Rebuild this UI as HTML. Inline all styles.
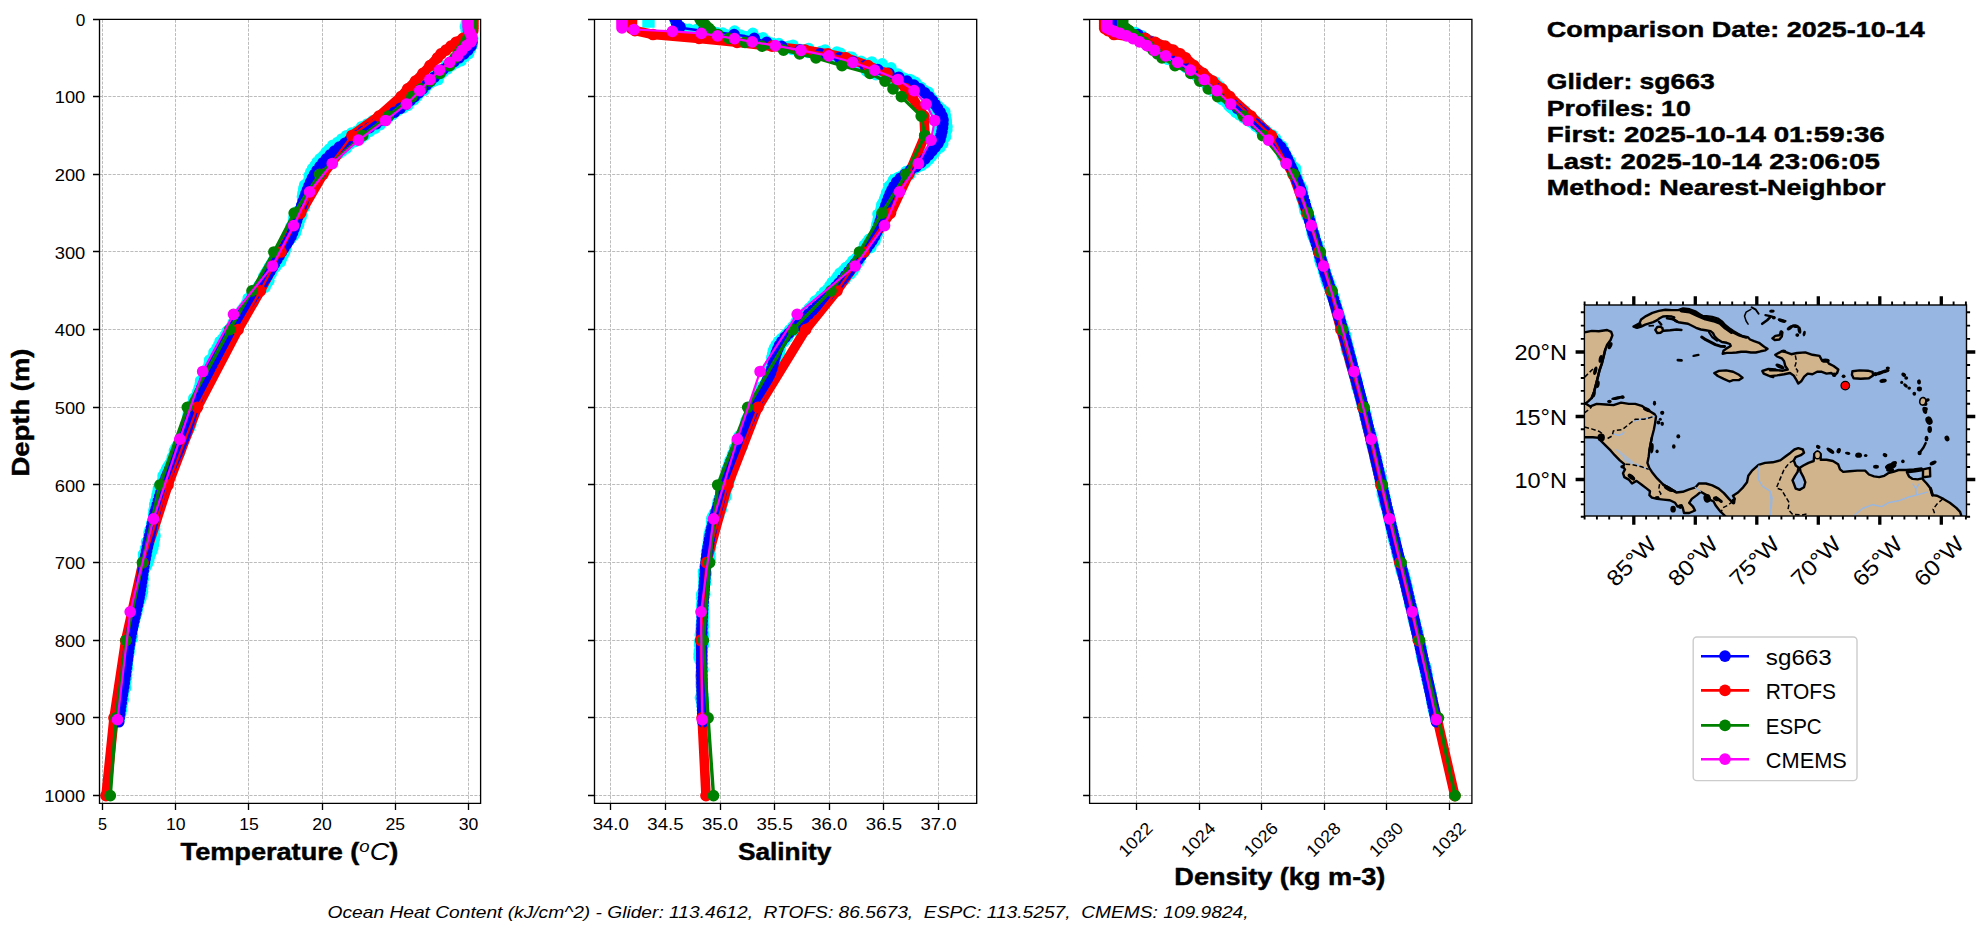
<!DOCTYPE html>
<html lang="en"><head><meta charset="utf-8"><title>Glider / model profile comparison</title>
<style>html,body{margin:0;padding:0;background:#fff}body{width:1983px;height:934px;overflow:hidden;font-family:"Liberation Sans", sans-serif}svg{display:block}</style></head>
<body>
<svg width="1983" height="934" viewBox="0 0 1983 934" font-family='"Liberation Sans", sans-serif' fill="#000">
<rect width="1983" height="934" fill="#fff"/>
<defs>
<clipPath id="c0"><rect x="99.5" y="19.4" width="381.1" height="784.0"/></clipPath>
<clipPath id="c1"><rect x="594.5" y="19.4" width="382.20000000000005" height="784.0"/></clipPath>
<clipPath id="c2"><rect x="1089.6" y="19.4" width="382.3000000000002" height="784.0"/></clipPath>
</defs>
<path d="M102.5 803.4V19.4M175.5 803.4V19.4M248.5 803.4V19.4M322.5 803.4V19.4M395.5 803.4V19.4M468.5 803.4V19.4M99.5 19.5H480.6M99.5 96.5H480.6M99.5 174.5H480.6M99.5 251.5H480.6M99.5 329.5H480.6M99.5 407.5H480.6M99.5 484.5H480.6M99.5 562.5H480.6M99.5 640.5H480.6M99.5 717.5H480.6M99.5 795.5H480.6" stroke="#bcbcbc" stroke-width="1" stroke-dasharray="3.08 1.33" fill="none"/>
<g clip-path="url(#c0)">
<polyline points="466.7,19.0 466.7,21.3 467.3,23.7 467.2,26.0 468.0,28.3 469.0,30.6 469.2,33.0 469.4,35.0 471.1,37.3 472.3,39.7 472.5,42.3 472.4,44.9 470.8,47.0 468.2,48.8 465.7,50.7 463.1,52.9 460.6,55.7 457.3,57.7 454.3,60.0 452.0,63.4 448.5,65.6 445.5,68.4 441.8,70.0 438.8,72.0 436.0,74.1 433.4,76.2 431.0,78.6 430.0,82.3 426.7,83.7 424.1,85.7 421.3,87.5 417.2,88.0 415.2,90.9 414.2,94.8 411.9,97.3 409.2,99.4 406.4,101.7 403.6,104.1 400.9,106.9 396.7,107.9 393.1,109.9 389.4,112.0 385.7,114.2 381.9,116.4 378.2,118.6 373.9,120.1 370.0,122.5 365.7,124.4 361.6,126.6 358.2,129.9 354.4,132.3 350.1,133.4 346.4,135.6 342.9,138.1 339.5,140.5 336.4,143.2 332.8,145.1 330.2,148.0 327.8,150.7 325.0,152.8 323.3,155.9 320.8,158.0 318.6,160.3 316.6,162.7 315.1,165.4 313.1,167.7 311.4,170.2 310.4,173.0 309.2,175.6 309.1,178.6 308.5,181.1 307.1,183.3 304.6,185.1 303.9,187.5 303.7,190.2 304.2,193.1 303.6,195.5 303.3,198.0 302.5,200.4 303.2,203.3 301.9,205.4 301.2,207.8 299.7,209.9 297.7,211.8 298.1,214.6 298.0,217.1 297.7,219.6 299.2,222.6 298.6,225.0 296.6,226.9 296.0,229.4 295.3,231.8 294.1,234.1 290.6,235.3 289.2,237.5 288.2,239.9 286.6,242.0 285.4,244.5 284.1,247.1 283.0,249.7 282.3,252.5 281.0,254.9 280.0,257.4 278.7,259.8 277.5,262.3 277.0,265.1 273.9,266.4 271.3,268.0 271.4,271.3 270.1,273.7 267.7,275.4 265.9,277.6 263.6,279.3 262.2,281.8 260.2,283.8 258.4,286.0 256.9,288.3 256.7,291.6 255.3,294.2 253.1,296.1 252.5,299.1 250.0,300.8 247.3,302.5 246.2,305.1 244.0,307.0 242.3,309.2 240.7,311.6 240.3,314.6 240.5,317.9 238.8,320.0 237.3,322.3 234.4,323.7 232.3,325.7 230.8,327.9 228.6,329.7 226.6,331.7 225.8,334.3 225.8,337.5 225.6,340.4 224.2,342.7 222.3,344.7 222.3,347.8 220.7,350.0 217.7,351.3 213.9,352.3 213.1,354.9 213.4,358.1 211.8,360.2 210.3,362.4 209.7,365.1 209.4,367.9 207.7,370.0 208.2,373.0 206.0,374.9 204.6,377.1 202.4,378.9 200.5,380.9 200.3,383.6 199.2,385.9 199.6,388.8 199.4,391.5 198.0,393.6 198.0,396.3 196.9,398.6 195.1,400.6 194.9,403.2 193.8,405.4 190.8,407.0 190.3,409.5 188.8,411.6 188.3,414.1 187.7,416.5 188.1,419.2 188.3,421.8 186.1,423.7 186.0,426.2 186.1,428.8 186.6,431.6 186.8,434.3 185.5,436.4 184.1,438.6 182.7,440.7 180.6,442.6 179.5,444.9 179.6,447.7 179.8,450.6 178.5,452.8 177.5,455.2 176.5,457.5 174.8,459.6 173.0,461.6 170.8,463.4 169.3,465.5 167.7,467.6 166.4,469.9 166.9,472.9 167.4,475.8 167.9,478.8 167.3,481.2 166.7,483.6 165.6,485.7 163.9,487.8 162.6,489.9 160.4,491.8 159.8,494.1 160.0,496.8 159.7,499.2 158.4,501.3 157.0,503.5 156.3,505.8 156.3,508.3 156.7,510.9 156.4,513.3 155.7,515.6 155.1,517.9 154.4,520.2 154.1,522.6 154.7,525.1 154.7,527.6 154.8,530.1 153.7,532.2 154.6,534.9 155.4,537.5 154.1,539.6 153.7,541.9 153.7,544.3 153.1,546.6 152.9,549.0 151.9,551.2 150.7,553.3 149.9,555.6 149.4,557.9 148.8,560.2 148.1,562.5 147.2,564.7 146.0,566.8 144.9,569.0 143.3,571.2 143.2,573.5 142.6,575.8 142.4,578.2 141.8,580.5 142.0,582.9 141.0,585.1 140.9,587.5 141.0,589.9 141.1,592.3 140.7,594.6 139.8,596.9 138.4,599.0 137.6,601.3 136.6,603.5 135.8,605.8 134.9,608.0 134.5,610.4 134.2,612.7 134.2,615.2 133.8,617.6 134.1,620.1 133.8,622.5 133.8,624.9 132.0,626.9 131.4,629.2 131.2,631.6 130.9,634.0 130.4,636.3 130.1,638.7 129.2,640.9 128.6,643.2 127.8,645.5 127.3,647.8 126.8,650.1 126.4,652.5 126.6,654.9 126.6,657.2 127.1,659.7 127.3,662.0 127.4,664.4 127.4,666.8 127.2,669.1 126.6,671.4 126.6,673.8 126.9,676.2 126.3,678.5 125.9,680.9 125.0,683.1 123.9,685.3 123.0,687.6 122.9,689.9 122.7,692.3 122.6,694.7 123.3,697.2 123.4,699.5 122.7,701.8 122.4,704.2 121.7,706.4 121.0,708.7 120.6,711.0 120.2,713.3 119.7,715.6 119.1,717.9 119.3,720.3" fill="none" stroke="#00ffff" stroke-width="2.5"/>
<path d="M466.7 19.0h0M466.9 22.1h0M467.2 25.2h0M468.0 28.3h0M469.1 31.4h0M469.3 34.4h0M471.1 37.3h0M472.4 40.6h0M472.5 44.0h0M470.8 47.0h0M467.4 49.6h0M463.9 52.0h0M460.6 55.7h0M456.1 58.2h0M452.9 62.4h0M448.5 65.6h0M444.3 69.1h0M439.6 71.1h0M436.0 74.1h0M432.6 77.0h0M430.4 81.2h0M426.7 83.7h0M423.3 86.4h0M418.5 87.8h0M415.2 90.9h0M413.5 95.7h0M410.1 98.7h0M406.4 101.7h0M402.8 105.1h0M398.2 107.6h0M393.1 109.9h0M388.1 112.7h0M383.2 115.6h0M378.2 118.6h0M372.6 120.8h0M367.2 123.9h0M361.6 126.6h0M357.1 130.9h0M351.5 133.0h0M346.4 135.6h0M341.8 138.9h0M337.5 142.4h0M332.8 145.1h0M329.4 148.9h0M326.0 152.2h0M323.3 155.9h0M319.9 158.7h0M317.2 161.9h0M315.1 165.4h0M312.5 168.5h0M310.7 172.1h0M309.2 175.6h0M309.0 179.5h0M307.7 182.7h0M304.6 185.1h0M303.8 188.4h0M304.1 192.2h0M303.6 195.5h0M303.0 198.8h0M303.0 202.3h0M301.9 205.4h0M301.1 208.7h0M297.9 211.0h0M298.1 214.6h0M297.8 217.9h0M298.7 221.6h0M298.6 225.0h0M296.4 227.8h0M295.5 230.9h0M294.1 234.1h0M289.7 235.9h0M288.6 239.1h0M286.6 242.0h0M285.1 245.5h0M283.4 248.8h0M282.3 252.5h0M280.4 255.6h0M279.4 259.2h0M277.5 262.3h0M276.3 265.8h0M271.7 267.2h0M271.4 271.3h0M269.3 274.3h0M266.6 276.9h0M263.6 279.3h0M261.6 282.5h0M259.1 285.3h0M256.9 288.3h0M256.1 292.4h0M254.0 295.5h0M252.5 299.1h0M248.9 301.3h0M246.5 304.2h0M244.0 307.0h0M241.8 310.0h0M240.2 313.4h0M240.5 317.9h0M238.5 320.9h0M235.3 323.2h0M232.3 325.7h0M230.3 328.6h0M227.2 331.0h0M225.8 334.3h0M225.6 338.4h0M224.9 342.1h0M222.3 344.7h0M221.9 348.6h0M219.0 351.1h0M213.9 352.3h0M213.2 356.0h0M212.6 359.6h0M210.3 362.4h0M209.8 366.1h0M208.0 369.1h0M208.2 373.0h0M205.5 375.6h0M203.3 378.3h0M200.5 380.9h0M200.1 384.4h0M199.2 387.7h0M199.4 391.5h0M197.8 394.5h0M197.6 398.0h0M195.1 400.6h0M194.9 404.1h0M191.6 406.4h0M190.3 409.5h0M188.4 412.4h0M188.0 415.7h0M188.1 419.2h0M187.6 422.4h0M185.8 425.3h0M186.1 428.8h0M187.0 432.6h0M186.0 435.7h0M184.1 438.6h0M182.0 441.3h0M179.6 444.0h0M179.6 447.7h0M179.5 451.4h0M177.7 454.3h0M176.5 457.5h0M174.2 460.2h0M171.6 462.8h0M169.3 465.5h0M167.2 468.3h0M166.6 471.8h0M167.4 475.8h0M167.6 479.5h0M167.1 482.9h0M165.6 485.7h0M163.4 488.4h0M161.2 491.2h0M159.8 494.1h0M160.0 497.6h0M158.9 500.6h0M157.0 503.5h0M156.2 506.6h0M156.6 510.0h0M156.4 513.3h0M155.3 516.3h0M154.6 519.4h0M154.1 522.6h0M154.8 526.0h0M154.8 529.2h0M153.7 532.2h0M155.1 535.8h0M154.5 538.9h0M153.7 541.9h0M153.5 545.1h0M152.9 548.2h0M151.9 551.2h0M150.5 554.1h0M149.5 557.1h0M148.8 560.2h0M147.9 563.2h0M146.4 566.1h0M144.9 569.0h0M143.2 572.0h0M142.7 575.1h0M142.4 578.2h0M141.9 581.3h0M141.4 584.4h0M140.9 587.5h0M141.1 590.7h0M140.9 593.9h0M139.8 596.9h0M138.1 599.8h0M137.0 602.8h0M135.8 605.8h0M134.7 608.8h0M134.3 612.0h0M134.2 615.2h0M133.8 618.4h0M133.9 621.7h0M133.8 624.9h0M131.5 627.7h0M131.3 630.9h0M130.9 634.0h0M130.3 637.1h0M129.5 640.2h0M128.6 643.2h0M127.5 646.3h0M127.0 649.4h0M126.4 652.5h0M126.6 655.6h0M127.0 658.8h0M127.3 662.0h0M127.4 665.2h0M127.3 668.4h0M126.6 671.4h0M126.7 674.6h0M126.6 677.8h0M125.9 680.9h0M124.6 683.8h0M123.2 686.8h0M122.9 689.9h0M122.6 693.1h0M123.0 696.3h0M123.4 699.5h0M122.6 702.6h0M122.0 705.7h0M121.0 708.7h0M120.5 711.8h0M119.9 714.9h0M119.1 717.9h0" fill="none" stroke="#00ffff" stroke-width="11.4" stroke-linecap="round"/>
<polyline points="469.9,19.0 470.7,21.3 471.2,23.7 470.2,26.0 469.1,28.3 468.7,30.6 468.4,33.0 469.0,35.2 470.1,38.0 470.5,40.3 470.9,42.3 470.3,44.2 469.5,46.3 467.9,48.5 466.5,51.6 464.6,54.7 461.0,56.2 457.4,57.8 454.0,59.6 450.9,61.8 447.6,64.2 444.5,67.1 442.5,70.9 440.5,74.0 437.8,75.9 436.5,79.4 433.4,81.0 430.0,82.3 426.6,83.5 423.7,85.3 420.6,86.8 417.4,88.3 415.6,91.3 413.9,94.5 411.6,96.9 410.8,101.2 409.0,104.8 405.7,106.7 402.0,108.4 398.1,109.9 393.8,111.0 390.6,113.9 386.9,116.0 384.1,119.8 381.3,123.6 377.7,126.6 373.8,129.0 369.8,131.4 366.1,134.3 362.8,137.4 358.9,139.3 355.3,141.5 351.4,143.3 348.1,145.8 345.6,149.1 342.3,151.1 339.3,153.1 336.8,155.4 333.9,157.2 331.7,159.4 328.7,160.9 326.7,163.2 324.5,165.2 323.2,168.0 321.3,170.1 319.5,172.2 317.3,173.9 315.0,175.6 313.0,177.5 312.7,180.2 311.9,182.6 310.6,184.8 309.9,187.3 309.2,189.7 307.9,191.8 307.2,194.2 307.5,197.0 307.5,199.6 305.2,201.4 303.8,203.5 305.2,206.6 303.0,208.4 301.1,210.4 299.3,212.4 298.0,214.6 294.9,216.1 293.9,218.4 293.4,220.8 292.8,223.2 292.2,225.5 290.8,227.6 290.9,230.2 290.1,232.5 290.1,235.1 287.9,236.8 286.5,238.9 286.7,242.1 285.6,244.7 284.3,247.2 282.7,249.5 281.3,251.8 280.6,254.6 278.6,256.6 276.0,258.2 273.7,260.0 272.4,262.3 270.7,264.5 269.3,266.8 268.0,269.2 266.6,271.6 265.0,273.8 263.7,276.2 263.6,279.3 262.7,282.1 260.8,284.2 259.3,286.6 259.1,289.9 257.7,292.3 255.8,294.5 254.4,297.0 252.5,299.1 250.5,301.2 247.4,302.5 245.8,304.8 244.6,307.4 243.5,310.1 241.3,311.9 241.3,315.2 239.1,317.0 237.0,319.0 236.0,321.5 233.0,322.9 231.8,325.3 230.6,327.8 229.4,330.2 227.5,332.2 227.0,335.1 227.3,338.3 226.8,341.1 225.6,343.5 224.8,346.1 224.1,348.8 223.0,351.2 219.9,352.6 217.2,354.1 216.7,356.9 214.3,358.5 213.6,361.2 211.1,362.8 210.9,365.7 210.6,368.5 209.2,370.7 208.9,373.4 208.2,375.9 206.9,378.1 205.8,380.4 204.5,382.6 203.6,385.0 201.3,386.8 199.2,388.6 198.0,390.9 197.3,393.3 196.8,395.9 196.1,398.3 195.1,400.6 195.0,403.2 195.0,405.9 193.6,408.0 193.2,410.5 192.9,413.0 190.6,414.8 189.7,417.1 190.7,420.0 190.8,422.6 191.0,425.3 189.9,427.5 188.7,429.7 187.1,431.8 184.6,433.5 183.4,435.7 182.5,438.0 182.1,440.5 181.6,443.0 180.4,445.2 178.5,447.2 177.2,449.4 175.8,451.5 175.4,454.2 174.2,456.5 173.9,459.1 174.1,462.1 173.4,464.6 173.0,467.2 171.7,469.4 170.1,471.5 168.8,473.7 167.1,475.8 165.5,477.8 163.7,479.8 162.6,482.1 162.2,484.6 162.0,487.1 162.5,489.8 162.4,492.4 161.8,494.8 160.4,496.8 158.3,498.8 156.3,500.7 156.7,503.4 156.4,505.8 155.7,508.1 154.0,510.2 154.5,512.8 154.6,515.3 154.1,517.6 153.7,520.0 154.3,522.6 153.9,525.0 152.5,527.1 152.5,529.5 151.9,531.8 151.2,534.1 151.2,536.6 149.9,538.7 149.5,541.1 148.5,543.3 146.8,545.4 146.5,547.7 145.4,549.9 145.6,552.4 144.8,554.7 145.0,557.1 145.1,559.5 144.5,561.8 143.4,564.0 143.3,566.4 143.4,568.8 142.3,571.0 143.2,573.6 143.0,575.9 143.3,578.3 143.1,580.7 142.6,583.0 143.0,585.4 142.8,587.8 142.7,590.2 142.6,592.6 141.7,594.8 141.4,597.2 140.3,599.4 139.0,601.6 138.1,603.8 137.7,606.2 136.9,608.5 135.7,610.6 135.0,612.9 134.5,615.3 134.1,617.6 132.9,619.8 133.1,622.3 133.1,624.7 132.8,627.1 132.6,629.5 131.6,631.7 130.4,633.9 130.0,636.3 130.2,638.7 129.9,641.0 129.8,643.4 129.4,645.7 129.0,648.1 128.1,650.3 128.3,652.7 127.8,655.0 126.4,657.2 126.0,659.5 127.0,662.0 126.0,664.3 125.4,666.5 125.1,668.9 124.6,671.2 123.8,673.4 123.6,675.8 124.0,678.2 125.0,680.7 125.0,683.1 125.3,685.5 125.7,688.0 124.5,690.2 123.6,692.4 123.0,694.7 122.4,697.0 121.9,699.3 121.3,701.6 120.8,703.9 120.6,706.3 120.3,708.6 120.1,711.0 119.0,713.2 118.7,715.5 118.1,717.8 117.6,720.1" fill="none" stroke="#00ffff" stroke-width="2.5"/>
<path d="M470.2 19.8h0M471.1 22.9h0M470.2 26.0h0M469.0 29.1h0M468.4 32.2h0M469.0 35.2h0M470.3 38.8h0M470.8 41.7h0M470.3 44.2h0M469.0 46.9h0M467.0 50.6h0M464.6 54.7h0M459.7 56.7h0M455.1 59.0h0M450.9 61.8h0M446.4 64.9h0M443.1 69.6h0M440.5 74.0h0M437.1 76.9h0M434.8 80.8h0M430.0 82.3h0M425.5 84.0h0M421.8 86.4h0M417.4 88.3h0M415.1 92.4h0M412.2 96.0h0M410.8 101.2h0M407.9 105.4h0M403.3 107.9h0M398.1 109.9h0M392.8 112.1h0M388.1 115.2h0M384.1 119.8h0M380.2 124.7h0M375.2 128.3h0M369.8 131.4h0M365.0 135.3h0M360.3 138.7h0M355.3 141.5h0M350.2 143.9h0M346.5 148.1h0M342.3 151.1h0M338.5 153.9h0M334.8 156.5h0M331.7 159.4h0M328.1 161.7h0M325.2 164.5h0M323.2 168.0h0M320.7 170.8h0M318.0 173.3h0M315.0 175.6h0M312.7 178.3h0M312.5 182.0h0M310.6 184.8h0M309.8 188.1h0M308.2 191.1h0M307.2 194.2h0M307.5 197.9h0M306.5 200.9h0M303.8 203.5h0M304.7 207.3h0M301.5 209.7h0M299.3 212.4h0M297.3 215.2h0M293.8 217.5h0M293.4 220.8h0M292.9 224.1h0M290.9 226.8h0M290.9 230.2h0M290.3 233.4h0M288.7 236.3h0M286.5 238.9h0M286.5 243.1h0M284.5 246.2h0M282.7 249.5h0M281.2 252.9h0M279.3 256.0h0M276.0 258.2h0M273.2 260.8h0M271.3 263.8h0M269.3 266.8h0M267.6 270.0h0M265.6 273.0h0M263.7 276.2h0M263.4 280.3h0M261.6 283.6h0M259.3 286.6h0M258.8 290.8h0M256.3 293.7h0M254.4 297.0h0M251.9 299.8h0M248.4 302.1h0M245.8 304.8h0M244.4 308.4h0M241.9 311.2h0M241.3 315.2h0M238.2 317.5h0M236.4 320.7h0M233.0 322.9h0M231.6 326.3h0M229.9 329.4h0M227.5 332.2h0M227.2 336.2h0M226.9 340.1h0M225.6 343.5h0M224.8 347.2h0M223.3 350.4h0M219.9 352.6h0M217.3 355.1h0M214.9 357.9h0M213.6 361.2h0M210.8 363.7h0M210.8 367.6h0M209.2 370.7h0M208.9 374.3h0M207.2 377.3h0M205.8 380.4h0M204.2 383.4h0M202.3 386.3h0M199.2 388.6h0M197.7 391.7h0M197.0 395.0h0M196.1 398.3h0M194.8 401.4h0M195.2 405.1h0M193.6 408.0h0M193.4 411.5h0M191.3 414.2h0M189.7 417.1h0M190.9 420.9h0M191.0 424.4h0M189.9 427.5h0M188.3 430.4h0M185.5 432.9h0M183.4 435.7h0M182.4 438.8h0M181.6 442.1h0M180.4 445.2h0M178.2 447.9h0M176.0 450.7h0M175.4 454.2h0M174.1 457.3h0M174.0 461.1h0M173.4 464.6h0M172.6 468.0h0M170.7 470.9h0M168.8 473.7h0M166.7 476.5h0M164.2 479.1h0M162.6 482.1h0M162.1 485.4h0M162.2 488.9h0M162.4 492.4h0M161.6 495.5h0M158.9 498.1h0M156.3 500.7h0M156.7 504.2h0M156.1 507.4h0M154.0 510.2h0M154.8 513.7h0M154.2 516.8h0M153.7 520.0h0M154.5 523.5h0M152.8 526.3h0M152.5 529.5h0M151.5 532.6h0M151.4 535.8h0M149.9 538.7h0M149.5 541.9h0M147.0 544.6h0M146.5 547.7h0M145.4 550.7h0M145.2 553.9h0M145.0 557.1h0M145.0 560.3h0M143.7 563.3h0M143.3 566.4h0M142.9 569.5h0M142.9 572.7h0M143.0 575.9h0M143.4 579.1h0M142.8 582.2h0M143.0 585.4h0M142.7 588.6h0M142.6 591.8h0M141.7 594.8h0M141.1 598.0h0M139.5 600.9h0M138.1 603.8h0M137.4 606.9h0M136.2 609.9h0M135.0 612.9h0M134.4 616.1h0M133.2 619.0h0M133.1 622.3h0M133.1 625.6h0M132.6 628.7h0M131.6 631.7h0M130.4 634.7h0M130.1 637.9h0M129.9 641.0h0M129.7 644.2h0M129.2 647.3h0M128.1 650.3h0M128.5 653.5h0M126.8 656.5h0M126.0 659.5h0M127.0 662.8h0M125.4 665.8h0M125.1 668.9h0M124.3 671.9h0M123.7 675.0h0M124.0 678.2h0M125.2 681.5h0M125.0 684.7h0M125.7 688.0h0M124.2 690.9h0M123.1 694.0h0M122.4 697.0h0M121.8 700.1h0M120.8 703.1h0M120.6 706.3h0M120.3 709.4h0M119.3 712.4h0M118.7 715.5h0M117.7 718.5h0" fill="none" stroke="#00ffff" stroke-width="11.4" stroke-linecap="round"/>
<polyline points="468.7,19.0 469.1,21.3 469.6,23.7 468.8,26.0 468.4,28.3 468.8,30.6 468.8,33.0 468.5,35.4 470.5,37.7 470.9,40.2 472.3,42.3 472.2,44.8 471.3,47.4 469.7,50.2 467.9,53.0 465.3,55.5 461.3,56.7 457.9,58.5 454.2,59.9 451.7,62.9 449.0,66.2 445.8,68.9 442.4,70.7 440.4,73.8 437.1,75.2 435.3,78.2 433.4,81.0 430.8,83.1 427.7,84.6 425.9,87.5 424.0,90.4 420.8,91.9 418.3,94.2 415.5,96.1 412.3,97.7 409.6,99.9 407.4,102.9 404.4,105.1 401.3,107.5 396.9,108.1 392.9,109.7 391.1,114.6 388.1,118.0 384.2,120.0 379.8,121.2 375.8,123.3 372.2,126.3 368.1,128.5 364.9,132.3 361.2,134.8 357.7,137.3 354.1,139.6 349.6,140.5 344.5,140.4 341.7,143.6 338.7,146.3 336.1,149.2 333.4,151.6 331.2,154.3 329.8,157.6 327.7,159.9 325.1,161.8 322.5,163.5 321.1,166.3 319.5,168.7 317.8,171.0 316.3,173.3 314.3,175.2 312.9,177.5 309.9,178.9 308.7,181.2 307.3,183.4 305.0,185.2 304.1,187.6 303.6,190.2 303.0,192.7 302.8,195.2 302.8,197.9 302.9,200.6 302.4,203.0 302.8,205.8 302.4,208.2 301.8,210.6 301.7,213.2 302.0,215.9 300.8,218.0 299.7,220.2 298.9,222.5 298.3,224.9 296.8,227.0 296.5,229.5 296.0,232.0 294.9,234.4 292.9,236.3 291.0,238.4 289.4,240.6 287.5,242.6 286.4,245.2 285.9,248.2 285.0,251.0 284.3,253.7 283.0,256.1 281.6,258.4 280.8,261.1 278.9,263.1 276.5,264.8 275.3,267.3 273.3,269.2 271.7,271.5 271.1,274.3 269.5,276.5 269.1,279.6 267.7,282.0 265.2,283.7 263.2,285.8 259.8,286.9 258.1,289.2 256.2,291.3 253.5,292.9 251.3,294.8 249.7,297.2 247.5,299.1 247.1,302.3 246.4,305.2 244.8,307.5 244.5,310.7 243.5,313.3 242.5,315.9 240.9,318.1 239.1,320.2 238.4,323.0 237.6,325.6 234.9,327.1 232.1,328.7 229.1,330.0 227.5,332.2 226.8,334.9 225.2,337.1 224.3,339.7 223.9,342.5 222.9,345.1 221.0,347.1 219.3,349.2 216.6,350.7 216.3,353.6 215.1,356.0 213.1,357.9 210.3,359.4 208.9,361.7 209.2,364.8 208.0,367.2 206.3,369.2 204.8,371.5 205.8,374.8 205.9,377.7 204.5,379.8 205.0,382.8 203.3,384.9 202.5,387.3 201.0,389.4 199.8,391.6 198.9,394.0 196.9,395.9 194.2,397.5 193.7,400.0 192.7,402.4 191.9,404.7 192.9,407.8 192.4,410.2 192.2,412.8 192.5,415.5 190.4,417.4 189.5,419.7 189.1,422.1 188.5,424.5 188.9,427.2 188.5,429.6 186.9,431.7 184.8,433.6 183.9,435.9 182.6,438.0 181.0,440.1 180.2,442.4 179.9,445.0 179.2,447.5 178.5,450.0 179.6,453.3 178.2,455.5 176.4,457.5 174.5,459.4 172.1,461.1 171.0,463.5 169.0,465.4 168.4,467.9 168.4,470.7 168.5,473.6 168.0,476.1 165.8,477.9 164.3,480.0 162.1,481.9 162.0,484.5 161.5,487.0 161.3,489.5 160.6,491.8 159.2,494.0 158.9,496.4 158.0,498.7 156.5,500.8 156.7,503.4 156.2,505.7 156.4,508.3 156.2,510.7 157.4,513.5 156.0,515.6 156.0,518.1 156.0,520.6 154.0,522.5 152.5,524.6 152.6,527.1 150.5,529.1 149.6,531.3 148.7,533.6 148.7,536.0 149.4,538.6 147.6,540.7 146.3,542.8 146.8,545.4 145.7,547.6 145.5,549.9 145.2,552.3 144.8,554.6 144.0,556.9 143.8,559.3 144.1,561.8 143.7,564.1 143.4,566.4 143.8,568.9 142.7,571.1 142.4,573.4 142.8,575.9 142.1,578.2 142.0,580.5 141.5,582.8 140.5,585.0 140.4,587.4 139.8,589.7 139.7,592.1 139.2,594.4 139.0,596.8 138.6,599.1 137.6,601.3 136.8,603.6 136.9,606.0 136.9,608.4 136.3,610.8 136.8,613.3 135.6,615.5 135.5,617.9 134.7,620.2 133.3,622.3 132.8,624.7 132.1,627.0 132.0,629.4 131.6,631.7 130.6,634.0 128.9,636.1 128.7,638.4 128.4,640.8 128.6,643.2 128.8,645.7 129.4,648.1 128.9,650.4 129.0,652.8 128.5,655.1 128.2,657.4 127.9,659.8 127.2,662.0 126.0,664.2 125.2,666.5 124.4,668.8 124.3,671.1 124.5,673.5 124.9,676.0 125.1,678.3 125.2,680.7 125.1,683.1 125.1,685.5 124.0,687.7 123.1,690.0 122.6,692.3 121.6,694.5 121.0,696.8 121.1,699.2 121.1,701.6 120.9,703.9 121.2,706.4 121.5,708.8 121.3,711.1 120.9,713.4 120.4,715.7 119.1,717.9 117.9,720.2" fill="none" stroke="#00ffff" stroke-width="2.5"/>
<path d="M469.0 20.6h0M469.6 23.7h0M468.5 26.8h0M468.7 29.9h0M468.8 33.0h0M469.1 36.2h0M470.9 39.3h0M472.3 42.3h0M472.0 45.6h0M470.3 49.3h0M467.9 53.0h0M464.1 56.0h0M459.0 57.8h0M454.2 59.9h0M450.9 64.1h0M446.9 68.1h0M442.4 70.7h0M439.4 74.4h0M435.8 77.1h0M433.4 81.0h0M429.7 83.5h0M426.4 86.5h0M424.0 90.4h0M419.8 92.4h0M416.6 95.7h0M412.3 97.7h0M408.8 100.8h0M405.6 104.5h0M401.3 107.5h0M395.2 108.0h0M391.8 113.1h0M388.1 118.0h0M382.8 120.4h0M377.0 122.4h0M372.2 126.3h0M367.1 129.9h0M362.5 134.0h0M357.7 137.3h0M352.8 140.2h0M346.0 140.2h0M341.7 143.6h0M337.7 147.1h0M334.4 150.9h0M331.2 154.3h0M329.2 158.5h0M326.0 161.2h0M322.5 163.5h0M320.7 167.2h0M318.3 170.2h0M316.3 173.3h0M313.9 176.0h0M310.9 178.4h0M308.7 181.2h0M306.3 183.9h0M304.4 186.9h0M303.6 190.2h0M302.8 193.5h0M302.3 196.8h0M302.9 200.6h0M302.5 203.9h0M302.7 207.5h0M301.8 210.6h0M302.0 214.2h0M301.2 217.3h0M299.7 220.2h0M298.7 223.3h0M297.3 226.3h0M296.5 229.5h0M295.6 232.8h0M293.6 235.7h0M291.0 238.4h0M288.7 241.2h0M286.4 244.1h0M285.9 248.2h0M284.8 251.9h0M283.3 255.2h0M281.6 258.4h0M280.5 261.9h0M276.9 264.0h0M275.3 267.3h0M272.8 270.0h0M271.4 273.4h0M269.5 276.5h0M269.0 280.6h0M265.8 283.0h0M263.2 285.8h0M259.0 287.5h0M257.1 290.7h0M253.5 292.9h0M250.9 295.7h0M248.1 298.4h0M247.1 302.3h0M245.8 305.9h0M244.6 309.7h0M243.5 313.3h0M242.1 316.7h0M239.5 319.4h0M238.4 323.0h0M237.0 326.4h0M232.9 328.1h0M229.1 330.0h0M227.2 333.1h0M225.8 336.4h0M224.3 339.7h0M223.7 343.5h0M221.6 346.4h0M219.3 349.2h0M216.1 351.5h0M215.8 355.3h0M213.1 357.9h0M209.5 360.0h0M209.1 363.8h0M208.0 367.2h0M205.8 370.0h0M205.3 373.6h0M205.9 377.7h0M204.5 380.8h0M204.1 384.3h0M202.5 387.3h0M200.5 390.1h0M199.1 393.2h0M196.9 395.9h0M193.7 398.3h0M193.3 401.7h0M191.9 404.7h0M192.9 408.7h0M192.2 411.9h0M192.5 415.5h0M189.7 418.0h0M189.4 421.3h0M188.5 424.5h0M188.7 428.0h0M187.7 431.1h0M184.8 433.6h0M183.5 436.6h0M181.5 439.4h0M180.2 442.4h0M179.8 445.9h0M178.6 449.1h0M179.6 453.3h0M177.4 456.1h0M175.3 458.8h0M172.1 461.1h0M170.4 464.1h0M168.4 467.0h0M168.4 470.7h0M168.6 474.6h0M166.4 477.3h0M164.3 480.0h0M162.0 482.8h0M161.7 486.1h0M161.3 489.5h0M160.1 492.5h0M158.9 495.6h0M158.0 498.7h0M156.5 501.6h0M156.4 505.0h0M156.4 508.3h0M156.7 511.7h0M156.6 515.0h0M156.0 518.1h0M155.6 521.3h0M152.6 523.8h0M152.6 527.1h0M150.1 529.8h0M148.9 532.8h0M148.7 536.0h0M149.0 539.3h0M146.5 542.1h0M146.8 545.4h0M145.5 548.3h0M145.3 551.5h0M144.8 554.6h0M144.0 557.7h0M144.0 560.9h0M143.7 564.1h0M143.6 567.3h0M143.1 570.4h0M142.4 573.4h0M142.7 576.6h0M141.9 579.7h0M141.5 582.8h0M140.4 585.8h0M140.0 588.9h0M139.7 592.1h0M139.0 595.1h0M138.8 598.3h0M137.6 601.3h0M136.8 604.4h0M137.0 607.7h0M136.3 610.8h0M136.6 614.1h0M135.3 617.1h0M134.7 620.2h0M133.1 623.1h0M132.3 626.2h0M132.0 629.4h0M131.5 632.5h0M129.3 635.3h0M128.7 638.4h0M128.5 641.6h0M128.5 644.8h0M129.4 648.1h0M128.9 651.2h0M128.8 654.3h0M128.2 657.4h0M127.8 660.5h0M126.4 663.5h0M125.2 666.5h0M124.3 669.5h0M124.4 672.7h0M124.9 676.0h0M125.1 679.1h0M125.0 682.3h0M125.1 685.5h0M123.7 688.5h0M122.8 691.5h0M121.6 694.5h0M120.9 697.6h0M121.2 700.8h0M120.9 703.9h0M121.3 707.2h0M121.5 710.3h0M120.9 713.4h0M120.0 716.5h0M118.3 719.4h0" fill="none" stroke="#00ffff" stroke-width="11.4" stroke-linecap="round"/>
<polyline points="468.2,19.0 466.9,21.3 466.1,23.7 465.7,26.0 465.4,28.3 466.2,30.6 467.4,33.0 469.2,35.1 471.8,36.8 473.0,39.5 472.5,42.3 471.5,44.6 471.3,47.4 469.7,50.2 468.7,53.8 465.7,56.0 462.9,58.7 460.3,61.5 456.5,62.8 452.9,64.6 449.6,67.2 446.4,69.7 443.3,71.9 440.1,73.5 439.9,78.2 436.9,79.8 433.4,81.0 429.0,81.3 425.7,82.6 423.2,84.8 421.9,88.1 419.7,90.7 418.2,94.0 416.7,97.4 414.0,99.6 410.9,101.4 406.8,102.1 403.3,103.7 400.3,106.1 397.9,109.6 395.1,113.0 391.5,115.3 387.7,117.4 383.9,119.5 380.4,122.1 376.2,124.0 371.7,125.4 367.5,127.4 362.6,128.3 358.8,130.8 356.1,134.8 352.9,137.8 350.2,141.4 347.3,144.5 343.3,145.9 338.7,146.3 334.4,147.1 331.3,149.2 328.9,151.8 325.9,153.7 324.4,156.9 322.8,159.8 321.8,163.0 320.0,165.4 318.4,167.9 317.1,170.5 316.3,173.3 314.2,175.2 312.9,177.5 312.4,180.1 311.3,182.4 310.4,184.7 309.7,187.2 309.9,189.9 308.5,192.1 307.4,194.3 305.6,196.3 304.1,198.4 303.9,200.9 303.9,203.5 302.2,205.6 302.0,208.1 301.2,210.4 299.8,212.6 300.0,215.2 299.9,217.7 299.0,220.0 298.3,222.3 297.1,224.5 297.0,227.1 295.7,229.2 292.6,230.8 289.4,232.2 288.0,234.2 287.2,236.4 286.8,239.1 285.1,241.1 284.3,243.8 283.9,246.9 282.9,249.6 281.4,251.9 278.5,253.4 277.1,255.7 276.1,258.3 275.7,261.2 274.4,263.6 273.5,266.2 272.8,268.9 271.4,271.3 269.2,273.1 269.1,276.3 267.8,278.7 267.5,281.9 266.8,284.8 265.2,287.2 260.8,287.6 258.0,289.1 256.7,291.6 256.0,294.6 254.7,297.2 253.5,299.8 253.0,303.0 249.9,304.2 248.6,306.7 246.7,308.8 244.3,310.6 241.3,311.9 239.6,314.1 239.3,317.2 237.4,319.2 236.3,321.7 235.5,324.4 233.9,326.6 231.3,328.2 229.1,330.0 227.6,332.3 226.0,334.5 224.4,336.6 222.6,338.7 220.4,340.6 219.3,343.0 218.4,345.6 217.0,347.9 215.7,350.2 215.4,353.1 214.0,355.4 213.2,358.0 212.0,360.3 210.7,362.6 210.1,365.3 210.3,368.3 208.7,370.4 206.2,372.1 206.0,374.9 207.0,378.1 206.4,380.7 205.3,383.0 204.0,385.2 203.0,387.5 202.4,390.0 200.9,392.1 200.0,394.5 198.7,396.6 198.3,399.2 195.4,400.7 194.2,402.9 192.2,404.8 189.8,406.6 189.4,409.2 188.7,411.6 188.4,414.1 188.8,416.8 189.7,419.7 190.3,422.5 188.8,424.6 186.9,426.5 185.4,428.6 185.3,431.1 183.9,433.3 182.1,435.2 182.1,437.9 182.3,440.6 180.0,442.4 178.0,444.2 176.7,446.4 175.5,448.6 174.3,450.8 174.1,453.6 173.2,456.0 172.0,458.3 171.5,460.9 170.2,463.1 169.0,465.4 167.3,467.4 166.3,469.8 165.3,472.2 163.8,474.3 162.9,476.8 162.8,479.5 162.4,482.0 160.1,483.9 159.7,486.4 158.3,488.5 157.9,491.0 157.2,493.3 156.9,495.8 156.5,498.2 155.9,500.6 155.0,502.9 154.4,505.2 154.5,507.8 154.2,510.2 154.0,512.7 153.4,515.0 153.5,517.5 153.3,519.9 152.4,522.1 151.6,524.4 151.5,526.9 150.5,529.1 150.0,531.4 150.6,534.0 150.5,536.4 149.7,538.7 148.3,540.8 148.1,543.2 147.2,545.4 146.1,547.7 146.5,550.2 145.2,552.3 143.4,554.4 143.4,556.8 143.7,559.3 143.1,561.6 143.0,564.0 143.7,566.5 142.9,568.7 142.0,571.0 141.6,573.3 141.7,575.7 141.8,578.1 142.3,580.6 141.3,582.8 140.8,585.1 140.0,587.3 139.4,589.6 138.9,591.9 138.4,594.2 138.8,596.7 139.0,599.2 139.1,601.6 138.6,603.9 138.9,606.4 137.5,608.6 137.1,611.0 136.2,613.2 135.1,615.4 134.0,617.6 132.8,619.8 133.0,622.3 132.2,624.5 131.5,626.8 131.6,629.3 130.7,631.5 131.9,634.2 132.5,636.7 132.0,639.0 130.9,641.2 130.1,643.5 130.1,645.8 129.6,648.1 129.3,650.5 128.8,652.8 128.4,655.1 127.8,657.4 127.5,659.7 127.7,662.1 127.0,664.4 126.6,666.7 126.0,669.0 125.4,671.3 124.6,673.5 124.2,675.9 124.2,678.2 124.2,680.6 124.1,683.0 123.3,685.2 123.5,687.6 122.9,689.9 122.1,692.2 121.9,694.6 121.9,696.9 120.8,699.2 120.6,701.5 120.9,703.9 120.3,706.2 120.2,708.6 119.6,710.9 119.0,713.2 119.0,715.6 119.3,717.9 119.3,720.3" fill="none" stroke="#00ffff" stroke-width="2.5"/>
<path d="M467.6 20.6h0M466.1 23.7h0M465.3 26.8h0M466.0 29.9h0M467.4 33.0h0M469.9 35.6h0M472.9 38.6h0M472.5 42.3h0M471.5 45.5h0M470.1 49.2h0M468.7 53.8h0M464.7 56.7h0M461.3 60.8h0M456.5 62.8h0M451.8 65.4h0M447.5 68.9h0M443.3 71.9h0M440.0 75.0h0M438.2 79.6h0M433.4 81.0h0M427.6 81.5h0M424.0 84.1h0M421.9 88.1h0M419.0 91.6h0M417.3 96.3h0M414.0 99.6h0M409.5 101.6h0M404.5 103.1h0M400.3 106.1h0M397.2 111.0h0M392.7 114.4h0M387.7 117.4h0M382.7 120.3h0M377.6 123.4h0M371.7 125.4h0M365.9 127.9h0M359.8 129.7h0M356.1 134.8h0M352.0 139.0h0M348.3 143.5h0M343.3 145.9h0M337.2 146.5h0M332.1 148.2h0M328.9 151.8h0M325.3 154.7h0M323.5 159.0h0M321.8 163.0h0M319.3 166.1h0M317.4 169.6h0M316.3 173.3h0M313.6 175.9h0M312.7 179.3h0M311.3 182.4h0M309.9 185.4h0M310.1 189.1h0M308.5 192.1h0M306.8 194.9h0M304.5 197.6h0M303.9 200.9h0M303.7 204.3h0M301.7 207.1h0M301.2 210.4h0M299.8 213.4h0M300.2 217.0h0M299.0 220.0h0M297.9 223.1h0M296.9 226.2h0M295.7 229.2h0M291.5 231.3h0M288.3 233.5h0M287.2 236.4h0M286.3 239.8h0M284.4 242.8h0M283.9 246.9h0M282.8 250.6h0M279.2 252.7h0M277.1 255.7h0M275.9 259.2h0M275.0 262.9h0M273.5 266.2h0M272.2 269.7h0M269.9 272.5h0M269.1 276.3h0M267.8 279.8h0M266.8 283.6h0M265.2 287.2h0M259.6 287.9h0M257.0 290.7h0M256.0 294.6h0M254.2 298.0h0M253.4 302.1h0M249.9 304.2h0M248.1 307.5h0M245.3 310.1h0M241.3 311.9h0M239.6 315.2h0M238.1 318.6h0M236.3 321.7h0M235.2 325.2h0M232.2 327.7h0M229.1 330.0h0M227.1 333.0h0M224.9 335.9h0M222.6 338.7h0M220.0 341.4h0M218.7 344.7h0M217.0 347.9h0M215.7 351.2h0M214.5 354.7h0M213.2 358.0h0M211.5 361.1h0M210.2 364.3h0M210.3 368.3h0M208.0 371.0h0M205.7 373.8h0M207.0 378.1h0M205.8 381.3h0M204.6 384.5h0M203.0 387.5h0M202.2 390.8h0M200.1 393.6h0M198.7 396.6h0M197.6 399.8h0M194.3 402.1h0M192.2 404.8h0M189.6 407.5h0M189.1 410.8h0M188.4 414.1h0M189.0 417.8h0M190.3 421.6h0M188.8 424.6h0M186.3 427.2h0M185.1 430.2h0M183.9 433.3h0M182.0 436.1h0M182.5 439.8h0M180.0 442.4h0M177.7 445.0h0M175.8 447.8h0M174.3 450.8h0M174.0 454.5h0M172.2 457.4h0M171.5 460.9h0M169.8 463.8h0M167.9 466.8h0M166.3 469.8h0M164.8 472.9h0M163.0 475.9h0M162.8 479.5h0M161.7 482.7h0M159.6 485.5h0M158.3 488.5h0M157.8 491.8h0M157.0 495.0h0M156.5 498.2h0M155.5 501.4h0M154.6 504.5h0M154.5 507.8h0M154.2 511.0h0M153.4 514.2h0M153.5 517.5h0M153.2 520.7h0M151.6 523.6h0M151.5 526.9h0M150.1 529.8h0M150.5 533.2h0M150.5 536.4h0M149.2 539.4h0M148.1 542.4h0M147.2 545.4h0M146.2 548.5h0M145.9 551.6h0M143.4 554.4h0M143.7 557.7h0M143.3 560.8h0M143.0 564.0h0M143.5 567.2h0M142.3 570.2h0M141.6 573.3h0M141.7 576.5h0M142.3 579.8h0M141.3 582.8h0M140.6 585.8h0M139.4 588.8h0M138.9 591.9h0M138.5 595.1h0M139.0 598.3h0M139.1 601.6h0M138.7 604.8h0M137.9 607.9h0M137.1 611.0h0M135.8 613.9h0M134.4 616.9h0M132.8 619.8h0M133.0 623.1h0M131.5 626.0h0M131.6 629.3h0M130.8 632.4h0M132.5 635.9h0M132.0 639.0h0M130.6 641.9h0M130.1 645.0h0M129.6 648.1h0M129.2 651.2h0M128.5 654.3h0M127.8 657.4h0M127.6 660.5h0M127.3 663.6h0M126.6 666.7h0M125.8 669.8h0M124.8 672.8h0M124.2 675.9h0M124.2 679.0h0M124.2 682.2h0M123.3 685.2h0M123.4 688.4h0M122.3 691.4h0M121.9 694.6h0M121.5 697.7h0M120.6 700.7h0M120.9 703.9h0M120.2 707.0h0M119.8 710.1h0M119.0 713.2h0M119.1 716.4h0M119.3 719.5h0" fill="none" stroke="#00ffff" stroke-width="11.4" stroke-linecap="round"/>
<polyline points="473.0,19.0 473.0,20.6 473.0,22.1 473.0,23.7 473.0,25.2 473.0,26.8 473.0,28.3 472.8,30.6 469.0,34.5 463.0,38.4 456.0,42.3 451.0,46.2 446.0,50.1 441.0,53.9 437.5,57.8 430.0,65.6 423.0,73.4 415.5,81.1 407.7,88.9 401.0,96.7 379.0,116.1 352.0,135.5 323.0,174.3 300.6,213.1 281.0,252.0 260.4,290.8 238.1,329.6 197.4,407.3 168.0,485.0 143.0,562.6 125.7,640.3 114.0,717.9 106.0,795.6" fill="none" stroke="#ff0000" stroke-width="9.6" stroke-linejoin="round" stroke-linecap="butt"/>
<polyline points="468.5,19.0 468.5,20.6 468.5,22.1 468.5,23.7 468.5,25.2 468.5,26.8 468.5,28.3 468.5,29.9 468.5,31.4 468.5,33.0 468.5,34.5 469.2,36.1 470.6,37.6 471.3,39.2 471.8,40.7 472.0,42.3 471.8,43.9 471.3,45.4 470.6,47.0 469.4,48.5 468.0,50.1 466.5,51.6 464.9,53.2 463.1,54.7 461.1,56.3 459.0,57.8 457.0,59.4 455.0,60.9 453.0,62.5 450.8,64.0 448.5,65.6 446.2,67.1 444.0,68.7 442.0,70.3 440.2,71.8 438.4,73.4 436.8,74.9 435.2,76.5 433.6,78.0 432.0,79.6 430.4,81.1 428.8,82.7 427.3,84.2 425.7,85.8 424.2,87.3 422.6,88.9 421.0,90.4 419.4,92.0 417.7,93.6 416.1,95.1 414.5,96.7 412.8,98.2 411.0,99.8 409.3,101.3 407.4,102.9 405.5,104.4 403.5,106.0 401.4,107.5 399.2,109.1 396.9,110.6 394.6,112.2 392.2,113.7 389.8,115.3 387.4,116.9 384.9,118.4 382.5,120.0 380.0,121.5 377.4,123.1 374.8,124.6 372.1,126.2 369.4,127.7 366.7,129.3 364.1,130.8 361.5,132.4 358.9,133.9 356.5,135.5 354.1,137.0 351.7,138.6 349.4,140.1 347.0,141.7 344.8,143.3 342.5,144.8 340.4,146.4 338.3,147.9 336.4,149.5 334.5,151.0 332.7,152.6 331.1,154.1 329.5,155.7 327.9,157.2 326.4,158.8 325.0,160.3 323.7,161.9 322.4,163.4 321.1,165.0 319.9,166.6 318.7,168.1 317.5,169.7 316.5,171.2 315.4,172.8 314.5,174.3 313.6,175.9 312.8,177.4 312.1,179.0 311.3,180.5 310.6,182.1 310.0,183.6 309.3,185.2 308.7,186.7 308.0,188.3 307.4,189.9 306.8,191.4 306.2,193.0 305.6,194.5 305.1,196.1 304.5,197.6 303.9,199.2 303.4,200.7 302.8,202.3 302.3,203.8 301.7,205.4 301.2,206.9 300.6,208.5 300.1,210.0 299.6,211.6 299.0,213.1 298.5,214.7 297.9,216.3 297.4,217.8 296.9,219.4 296.5,220.9 296.0,222.5 295.5,224.0 295.0,225.6 294.5,227.1 294.0,228.7 293.5,230.2 292.9,231.8 292.3,233.3 291.7,234.9 291.0,236.4 290.3,238.0 289.4,239.6 288.5,241.1 287.6,242.7 286.6,244.2 285.5,245.8 284.5,247.3 283.5,248.9 282.5,250.4 281.5,252.0 280.6,253.5 279.6,255.1 278.7,256.6 277.8,258.2 276.8,259.7 275.9,261.3 275.0,262.9 274.1,264.4 273.1,266.0 272.2,267.5 271.3,269.1 270.3,270.6 269.4,272.2 268.4,273.7 267.5,275.3 266.5,276.8 265.5,278.4 264.5,279.9 263.5,281.5 262.5,283.0 261.4,284.6 260.4,286.2 259.3,287.7 258.2,289.3 257.1,290.8 256.1,292.4 255.0,293.9 253.9,295.5 252.8,297.0 251.7,298.6 250.6,300.1 249.5,301.7 248.5,303.2 247.4,304.8 246.4,306.3 245.3,307.9 244.3,309.4 243.3,311.0 242.3,312.6 241.3,314.1 240.4,315.7 239.4,317.2 238.4,318.8 237.5,320.3 236.6,321.9 235.6,323.4 234.7,325.0 233.8,326.5 232.9,328.1 232.0,329.6 231.1,331.2 230.2,332.7 229.3,334.3 228.4,335.9 227.5,337.4 226.6,339.0 225.7,340.5 224.9,342.1 224.0,343.6 223.1,345.2 222.2,346.7 221.4,348.3 220.5,349.8 219.6,351.4 218.8,352.9 217.9,354.5 217.1,356.0 216.2,357.6 215.4,359.2 214.6,360.7 213.8,362.3 213.0,363.8 212.2,365.4 211.4,366.9 210.6,368.5 209.9,370.0 209.1,371.6 208.4,373.1 207.6,374.7 206.9,376.2 206.2,377.8 205.5,379.3 204.8,380.9 204.1,382.4 203.4,384.0 202.7,385.6 202.1,387.1 201.4,388.7 200.8,390.2 200.1,391.8 199.5,393.3 198.8,394.9 198.2,396.4 197.6,398.0 197.0,399.5 196.4,401.1 195.8,402.6 195.2,404.2 194.6,405.7 194.0,407.3 193.4,408.9 192.9,410.4 192.3,412.0 191.8,413.5 191.3,415.1 190.8,416.6 190.3,418.2 189.8,419.7 189.3,421.3 188.8,422.8 188.3,424.4 187.8,425.9 187.3,427.5 186.8,429.0 186.2,430.6 185.7,432.2 185.2,433.7 184.6,435.3 184.1,436.8 183.5,438.4 182.9,439.9 182.3,441.5 181.7,443.0 181.0,444.6 180.3,446.1 179.7,447.7 179.0,449.2 178.3,450.8 177.6,452.3 176.8,453.9 176.1,455.4 175.4,457.0 174.7,458.6 173.9,460.1 173.2,461.7 172.5,463.2 171.7,464.8 171.0,466.3 170.3,467.9 169.6,469.4 168.9,471.0 168.2,472.5 167.5,474.1 166.9,475.6 166.2,477.2 165.6,478.7 165.0,480.3 164.4,481.9 163.8,483.4 163.3,485.0 162.8,486.5 162.3,488.1 161.7,489.6 161.2,491.2 160.8,492.7 160.3,494.3 159.8,495.8 159.3,497.4 158.9,498.9 158.4,500.5 158.0,502.0 157.5,503.6 157.1,505.2 156.7,506.7 156.3,508.3 155.8,509.8 155.4,511.4 155.0,512.9 154.6,514.5 154.3,516.0 153.9,517.6 153.5,519.1 153.1,520.7 152.7,522.2 152.4,523.8 152.0,525.3 151.7,526.9 151.3,528.4 151.0,530.0 150.6,531.6 150.3,533.1 149.9,534.7 149.6,536.2 149.3,537.8 148.9,539.3 148.6,540.9 148.3,542.4 148.0,544.0 147.7,545.5 147.4,547.1 147.1,548.6 146.8,550.2 146.5,551.7 146.2,553.3 145.9,554.9 145.6,556.4 145.3,558.0 145.0,559.5 144.8,561.1 144.5,562.6 144.2,564.2 144.0,565.7 143.7,567.3 143.5,568.8 143.3,570.4 143.0,571.9 142.8,573.5 142.6,575.0 142.4,576.6 142.2,578.2 141.9,579.7 141.7,581.3 141.5,582.8 141.3,584.4 141.0,585.9 140.8,587.5 140.6,589.0 140.3,590.6 140.1,592.1 139.8,593.7 139.5,595.2 139.2,596.8 138.9,598.3 138.6,599.9 138.3,601.4 138.0,603.0 137.7,604.6 137.3,606.1 137.0,607.7 136.6,609.2 136.3,610.8 135.9,612.3 135.6,613.9 135.2,615.4 134.9,617.0 134.5,618.5 134.2,620.1 133.8,621.6 133.5,623.2 133.1,624.7 132.8,626.3 132.5,627.9 132.1,629.4 131.8,631.0 131.5,632.5 131.2,634.1 130.9,635.6 130.6,637.2 130.4,638.7 130.1,640.3 129.9,641.8 129.6,643.4 129.4,644.9 129.2,646.5 128.9,648.0 128.7,649.6 128.5,651.2 128.3,652.7 128.1,654.3 127.9,655.8 127.7,657.4 127.5,658.9 127.3,660.5 127.1,662.0 126.9,663.6 126.7,665.1 126.5,666.7 126.3,668.2 126.1,669.8 125.9,671.3 125.7,672.9 125.5,674.5 125.3,676.0 125.1,677.6 124.8,679.1 124.6,680.7 124.4,682.2 124.1,683.8 123.9,685.3 123.7,686.9 123.4,688.4 123.2,690.0 122.9,691.5 122.7,693.1 122.4,694.6 122.2,696.2 122.0,697.7 121.7,699.3 121.5,700.9 121.3,702.4 121.0,704.0 120.8,705.5 120.6,707.1 120.4,708.6 120.2,710.2 120.0,711.7 119.8,713.3 119.6,714.8 119.4,716.4 119.2,717.9 119.1,719.5 118.9,721.0" fill="none" stroke="#0000ff" stroke-width="2.5" stroke-linejoin="round"/>
<path d="M468.5 19.0h0M468.5 22.9h0M468.5 26.8h0M468.5 30.6h0M468.5 34.5h0M471.0 38.4h0M472.0 42.3h0M471.0 46.2h0M468.0 50.1h0M464.0 53.9h0M459.0 57.8h0M454.0 61.7h0M448.5 65.6h0M443.0 69.5h0M438.4 73.4h0M434.4 77.2h0M430.4 81.1h0M426.5 85.0h0M422.6 88.9h0M418.6 92.8h0M414.5 96.7h0M410.2 100.5h0M405.5 104.4h0M400.3 108.3h0M394.6 112.2h0M388.6 116.1h0M382.5 120.0h0M376.1 123.8h0M369.4 127.7h0M362.8 131.6h0M356.5 135.5h0M350.6 139.4h0M344.8 143.3h0M339.3 147.1h0M334.5 151.0h0M330.3 154.9h0M326.4 158.8h0M323.0 162.7h0M319.9 166.6h0M317.0 170.4h0M314.5 174.3h0M312.4 178.2h0M310.6 182.1h0M309.0 186.0h0M307.4 189.9h0M305.9 193.7h0M304.5 197.6h0M303.1 201.5h0M301.7 205.4h0M300.4 209.3h0M299.0 213.1h0M297.7 217.0h0M296.5 220.9h0M295.3 224.8h0M294.0 228.7h0M292.6 232.6h0M291.0 236.4h0M289.0 240.3h0M286.6 244.2h0M284.0 248.1h0M281.5 252.0h0M279.2 255.9h0M276.8 259.7h0M274.5 263.6h0M272.2 267.5h0M269.8 271.4h0M267.5 275.3h0M265.0 279.2h0M262.5 283.0h0M259.8 286.9h0M257.1 290.8h0M254.4 294.7h0M251.7 298.6h0M249.0 302.5h0M246.4 306.3h0M243.8 310.2h0M241.3 314.1h0M238.9 318.0h0M236.6 321.9h0M234.3 325.8h0M232.0 329.6h0M229.8 333.5h0M227.5 337.4h0M225.3 341.3h0M223.1 345.2h0M220.9 349.1h0M218.8 352.9h0M216.7 356.8h0M214.6 360.7h0M212.6 364.6h0M210.6 368.5h0M208.7 372.4h0M206.9 376.2h0M205.1 380.1h0M203.4 384.0h0M201.7 387.9h0M200.1 391.8h0M198.5 395.7h0M197.0 399.5h0M195.5 403.4h0M194.0 407.3h0M192.6 411.2h0M191.3 415.1h0M190.0 418.9h0M188.8 422.8h0M187.5 426.7h0M186.2 430.6h0M184.9 434.5h0M183.5 438.4h0M182.0 442.2h0M180.3 446.1h0M178.6 450.0h0M176.8 453.9h0M175.0 457.8h0M173.2 461.7h0M171.4 465.5h0M169.6 469.4h0M167.9 473.3h0M166.2 477.2h0M164.7 481.1h0M163.3 485.0h0M162.0 488.8h0M160.8 492.7h0M159.6 496.6h0M158.4 500.5h0M157.3 504.4h0M156.3 508.3h0M155.2 512.1h0M154.3 516.0h0M153.3 519.9h0M152.4 523.8h0M151.5 527.7h0M150.6 531.6h0M149.8 535.4h0M148.9 539.3h0M148.1 543.2h0M147.4 547.1h0M146.6 551.0h0M145.9 554.9h0M145.2 558.7h0M144.5 562.6h0M143.9 566.5h0M143.3 570.4h0M142.7 574.3h0M142.2 578.2h0M141.6 582.0h0M141.0 585.9h0M140.4 589.8h0M139.8 593.7h0M139.1 597.6h0M138.3 601.4h0M137.5 605.3h0M136.6 609.2h0M135.8 613.1h0M134.9 617.0h0M134.0 620.9h0M133.1 624.7h0M132.3 628.6h0M131.5 632.5h0M130.8 636.4h0M130.1 640.3h0M129.5 644.2h0M128.9 648.0h0M128.4 651.9h0M127.9 655.8h0M127.4 659.7h0M126.9 663.6h0M126.4 667.5h0M125.9 671.3h0M125.4 675.2h0M124.8 679.1h0M124.3 683.0h0M123.7 686.9h0M123.0 690.8h0M122.4 694.6h0M121.8 698.5h0M121.3 702.4h0M120.7 706.3h0M120.2 710.2h0M119.7 714.1h0M119.2 717.9h0M118.8 721.8h0" fill="none" stroke="#0000ff" stroke-width="11.6" stroke-linecap="round"/>
<polyline points="473.0,19.0 473.0,20.6 473.0,22.1 473.0,23.7 473.0,25.2 473.0,26.8 473.0,28.3 472.8,30.6 469.0,34.5 463.0,38.4 456.0,42.3 451.0,46.2 446.0,50.1 441.0,53.9 437.5,57.8 430.0,65.6 423.0,73.4 415.5,81.1 407.7,88.9 401.0,96.7 379.0,116.1 352.0,135.5 323.0,174.3 300.6,213.1 281.0,252.0 260.4,290.8 238.1,329.6 197.4,407.3 168.0,485.0 143.0,562.6 125.7,640.3 114.0,717.9 106.0,795.6" fill="none" stroke="#ff0000" stroke-width="2.2" stroke-linejoin="round" stroke-linecap="butt"/>
<path d="M473.0 19.0h0M473.0 20.6h0M473.0 22.1h0M473.0 23.7h0M473.0 25.2h0M473.0 26.8h0M473.0 28.3h0M472.8 30.6h0M469.0 34.5h0M463.0 38.4h0M456.0 42.3h0M451.0 46.2h0M446.0 50.1h0M441.0 53.9h0M437.5 57.8h0M430.0 65.6h0M423.0 73.4h0M415.5 81.1h0M407.7 88.9h0M401.0 96.7h0M379.0 116.1h0M352.0 135.5h0M323.0 174.3h0M300.6 213.1h0M281.0 252.0h0M260.4 290.8h0M238.1 329.6h0M197.4 407.3h0M168.0 485.0h0M143.0 562.6h0M125.7 640.3h0M114.0 717.9h0M106.0 795.6h0" fill="none" stroke="#ff0000" stroke-width="11.7" stroke-linecap="round"/>
<polyline points="471.0,19.0 471.0,20.6 471.0,22.1 471.0,23.7 471.0,25.2 471.0,26.8 471.0,28.3 471.0,30.6 470.5,34.5 468.0,38.4 466.0,42.3 464.0,46.2 461.0,50.1 458.0,53.9 455.0,57.8 449.7,65.6 440.0,73.4 430.5,81.1 421.0,88.9 412.0,96.7 388.3,116.1 362.7,135.5 319.5,174.3 294.2,213.1 273.9,252.0 252.0,290.8 229.7,329.6 187.3,407.3 160.0,485.0 142.4,562.6 126.1,640.3 116.0,717.9 110.3,795.6" fill="none" stroke="#008000" stroke-width="3.4" stroke-linejoin="round" stroke-linecap="butt"/>
<path d="M471.0 19.0h0M471.0 20.6h0M471.0 22.1h0M471.0 23.7h0M471.0 25.2h0M471.0 26.8h0M471.0 28.3h0M471.0 30.6h0M470.5 34.5h0M468.0 38.4h0M466.0 42.3h0M464.0 46.2h0M461.0 50.1h0M458.0 53.9h0M455.0 57.8h0M449.7 65.6h0M440.0 73.4h0M430.5 81.1h0M421.0 88.9h0M412.0 96.7h0M388.3 116.1h0M362.7 135.5h0M319.5 174.3h0M294.2 213.1h0M273.9 252.0h0M252.0 290.8h0M229.7 329.6h0M187.3 407.3h0M160.0 485.0h0M142.4 562.6h0M126.1 640.3h0M116.0 717.9h0M110.3 795.6h0" fill="none" stroke="#008000" stroke-width="11.7" stroke-linecap="round"/>
<polyline points="468.0,19.4 468.0,20.2 468.0,21.1 468.0,22.0 468.0,22.9 468.0,24.0 468.0,25.2 468.0,26.4 468.2,27.9 468.5,29.5 469.3,31.3 470.3,33.4 471.6,35.8 472.2,38.6 471.0,41.8 466.5,45.7 462.0,50.3 457.7,55.8 449.7,62.3 439.5,70.1 429.9,79.5 419.8,90.7 406.5,104.2 385.6,120.5 358.5,140.1 332.3,163.5 309.6,191.8 293.6,225.6 272.4,266.0 233.5,314.3 202.7,371.5 179.8,439.2 153.5,518.8 130.2,611.8 117.5,719.7" fill="none" stroke="#ff00ff" stroke-width="2.2" stroke-linejoin="round" stroke-linecap="butt"/>
<path d="M468.0 19.4h0M468.0 20.2h0M468.0 21.1h0M468.0 22.0h0M468.0 22.9h0M468.0 24.0h0M468.0 25.2h0M468.0 26.4h0M468.2 27.9h0M468.5 29.5h0M469.3 31.3h0M470.3 33.4h0M471.6 35.8h0M472.2 38.6h0M471.0 41.8h0M466.5 45.7h0M462.0 50.3h0M457.7 55.8h0M449.7 62.3h0M439.5 70.1h0M429.9 79.5h0M419.8 90.7h0M406.5 104.2h0M385.6 120.5h0M358.5 140.1h0M332.3 163.5h0M309.6 191.8h0M293.6 225.6h0M272.4 266.0h0M233.5 314.3h0M202.7 371.5h0M179.8 439.2h0M153.5 518.8h0M130.2 611.8h0M117.5 719.7h0" fill="none" stroke="#ff00ff" stroke-width="11.7" stroke-linecap="round"/>
</g>
<path d="M99.5 19.4H480.6V803.4H99.5ZM102.5 803.4v6.5M175.5 803.4v6.5M248.5 803.4v6.5M322.5 803.4v6.5M395.5 803.4v6.5M468.5 803.4v6.5M99.5 19.5h-6.5M99.5 96.5h-6.5M99.5 174.5h-6.5M99.5 251.5h-6.5M99.5 329.5h-6.5M99.5 407.5h-6.5M99.5 484.5h-6.5M99.5 562.5h-6.5M99.5 640.5h-6.5M99.5 717.5h-6.5M99.5 795.5h-6.5" stroke="#000" stroke-width="1.33" fill="none"/>
<path d="M610.5 803.4V19.4M665.5 803.4V19.4M720.5 803.4V19.4M774.5 803.4V19.4M829.5 803.4V19.4M883.5 803.4V19.4M938.5 803.4V19.4M594.5 19.5H976.7M594.5 96.5H976.7M594.5 174.5H976.7M594.5 251.5H976.7M594.5 329.5H976.7M594.5 407.5H976.7M594.5 484.5H976.7M594.5 562.5H976.7M594.5 640.5H976.7M594.5 717.5H976.7M594.5 795.5H976.7" stroke="#bcbcbc" stroke-width="1" stroke-dasharray="3.08 1.33" fill="none"/>
<g clip-path="url(#c1)">
<polyline points="675.0,19.0 675.7,21.3 677.0,23.7 679.0,26.0 683.9,28.7 703.5,29.7 723.1,30.6 741.0,31.4 752.8,33.2 760.7,36.5 767.3,40.2 775.2,45.0 784.9,47.3 796.2,48.8 808.0,51.2 820.1,54.2 831.8,57.0 842.9,58.1 850.7,61.0 857.7,63.0 865.7,63.6 872.6,68.4 879.3,72.3 885.5,76.3 890.9,80.6 896.1,83.6 901.6,84.4 906.6,85.3 911.8,85.6 916.3,86.9 920.1,88.8 923.1,91.1 925.9,93.3 929.0,95.1 931.2,97.5 933.2,99.8 935.0,102.3 934.8,105.8 936.9,107.8 939.5,109.4 940.4,112.1 941.4,114.5 941.8,117.0 941.4,119.4 941.0,121.5 940.5,123.7 940.2,125.9 939.4,128.1 939.1,130.3 939.1,132.6 938.8,135.0 938.3,137.3 936.7,139.0 936.2,141.1 936.0,144.0 934.0,146.2 932.5,148.8 930.4,151.0 928.5,153.3 927.2,156.4 926.0,159.8 923.7,162.4 920.9,164.5 917.3,166.1 912.8,166.7 909.9,169.8 906.4,172.0 904.4,175.5 902.1,178.4 899.6,180.7 898.5,183.6 897.2,185.8 894.9,187.5 895.3,190.5 894.2,192.8 893.0,194.9 891.5,197.0 890.8,199.3 889.0,201.3 887.6,203.4 885.6,205.3 885.9,208.0 885.3,210.5 883.9,212.6 883.5,215.1 881.9,217.1 882.1,219.8 883.0,222.7 881.2,224.7 879.9,226.8 877.9,228.8 878.3,231.6 877.2,233.9 875.4,235.9 875.8,239.1 874.0,241.4 871.8,243.3 871.4,246.6 869.0,248.4 866.2,250.0 864.7,252.5 862.1,254.2 859.2,255.6 857.2,257.8 855.3,260.0 853.2,262.1 850.8,263.9 848.6,266.0 845.8,267.5 843.9,269.9 841.7,272.0 839.2,273.8 837.6,276.4 835.9,278.9 833.7,281.1 831.6,283.3 829.8,285.8 828.0,288.3 825.8,290.6 823.4,292.7 821.4,295.1 819.7,297.9 817.1,299.9 814.3,301.8 812.6,304.9 810.3,307.5 807.6,309.6 805.7,312.6 803.6,315.4 801.7,318.3 799.4,320.7 797.6,323.5 795.9,326.5 794.4,329.9 791.6,331.8 789.3,334.1 787.8,337.1 784.4,338.2 782.6,340.6 781.2,343.1 779.9,345.4 779.9,348.1 780.6,351.0 779.0,353.0 777.9,355.1 776.7,357.3 774.2,359.1 772.8,361.2 774.0,364.0 771.9,366.0 770.3,368.0 770.6,370.6 772.3,373.9 771.7,376.4 771.2,378.9 769.2,380.9 765.8,382.2 764.9,384.6 761.4,385.8 760.4,388.2 759.4,390.5 759.1,393.3 760.1,396.7 759.8,399.4 759.5,402.1 758.3,404.4 757.0,406.6 754.4,408.2 753.2,410.5 753.3,413.3 753.6,416.2 750.8,417.7 750.1,420.2 748.6,422.3 746.8,424.3 745.5,426.5 744.8,429.0 744.5,431.6 743.1,433.7 741.8,436.0 741.0,438.4 740.1,440.7 739.6,443.3 738.6,445.6 737.5,448.0 736.5,450.3 734.7,452.3 732.6,454.2 732.8,457.0 732.0,459.4 731.6,462.0 731.6,464.6 730.6,466.9 730.5,469.4 730.0,471.8 728.5,473.8 726.8,475.9 725.6,478.0 725.2,480.4 725.1,482.9 724.1,485.1 723.9,487.6 722.2,489.6 721.8,492.0 720.9,494.2 721.1,496.8 720.9,499.2 720.2,501.5 721.1,504.3 719.9,506.5 718.8,508.7 718.0,511.0 717.2,513.3 714.8,515.1 713.1,517.2 711.2,519.1 711.6,521.8 712.3,524.5 712.5,527.0 711.7,529.3 710.7,531.5 709.8,533.7 708.5,535.9 708.4,538.3 708.3,540.7 709.9,543.4 710.4,545.9 710.9,548.3 710.1,550.6 710.0,552.9 709.8,555.2 710.3,557.6 710.2,560.0 708.3,562.1 706.9,564.3 706.1,566.5 704.9,568.8 703.5,571.0 703.4,573.4 703.7,575.7 704.2,578.1 704.2,580.5 703.6,582.8 704.1,585.1 703.9,587.5 703.9,589.8 703.0,592.1 702.0,594.3 702.7,596.7 703.2,599.1 703.4,601.5 703.9,603.8 703.7,606.2 703.8,608.5 703.6,610.8 703.6,613.2 702.9,615.5 702.9,617.8 703.2,620.1 702.1,622.4 701.9,624.7 702.7,627.1 702.2,629.4 702.0,631.7 702.6,634.1 701.7,636.4 701.2,638.7 701.3,641.1 702.1,643.4 702.4,645.7 702.3,648.0 702.6,650.4 702.1,652.7 701.9,655.0 701.5,657.4 701.1,659.7 701.4,662.0 701.2,664.4 701.4,666.7 701.4,669.0 701.8,671.3 701.4,673.7 701.7,676.0 702.3,678.3 702.3,680.7 701.7,683.0 701.4,685.3 701.3,687.7 701.5,690.0 701.8,692.3 702.0,694.6 702.4,697.0 703.0,699.3 703.4,701.6 703.9,703.9 703.3,706.3 703.1,708.6 702.8,710.9 702.9,713.3 703.0,715.6 702.8,717.9 703.1,720.3" fill="none" stroke="#00ffff" stroke-width="2.5"/>
<path d="M675.0 19.0h0M676.1 22.1h0M678.2 25.2h0M683.9 28.7h0M710.5 30.1h0M734.6 31.0h0M752.8 33.2h0M763.0 37.7h0M772.4 43.3h0M784.9 47.3h0M800.1 49.5h0M816.0 53.2h0M831.8 57.0h0M845.9 58.6h0M855.1 62.9h0M865.7 63.6h0M874.9 69.7h0M883.4 75.1h0M890.9 80.6h0M898.1 83.6h0M904.9 85.2h0M911.8 85.6h0M917.6 87.5h0M922.3 90.2h0M925.9 93.3h0M929.8 95.8h0M932.5 99.1h0M935.0 102.3h0M935.1 106.7h0M938.9 108.6h0M940.4 112.1h0M941.7 115.3h0M941.5 118.7h0M941.0 121.5h0M940.5 124.4h0M939.6 127.3h0M939.1 130.3h0M939.1 133.4h0M938.6 136.5h0M936.7 139.0h0M936.3 142.1h0M934.7 145.4h0M932.5 148.8h0M929.6 151.7h0M927.6 155.3h0M926.0 159.8h0M923.0 163.3h0M918.6 165.6h0M912.8 166.7h0M908.8 170.8h0M904.8 174.1h0M902.1 178.4h0M899.2 181.7h0M897.7 185.1h0M894.9 187.5h0M895.3 191.5h0M893.3 194.2h0M891.5 197.0h0M890.3 200.0h0M888.2 202.7h0M885.6 205.3h0M885.9 208.9h0M884.3 211.9h0M883.5 215.1h0M881.5 217.9h0M883.0 221.8h0M881.2 224.7h0M879.2 227.5h0M878.0 230.6h0M877.2 233.9h0M875.5 236.9h0M875.0 240.9h0M871.8 243.3h0M870.9 247.5h0M866.8 249.3h0M864.7 252.5h0M861.1 254.6h0M857.9 257.1h0M855.3 260.0h0M852.3 262.7h0M849.4 265.4h0M845.8 267.5h0M843.2 270.6h0M839.9 273.1h0M837.6 276.4h0M835.2 279.7h0M832.1 282.4h0M829.8 285.8h0M827.4 289.2h0M824.2 291.9h0M821.4 295.1h0M818.9 298.6h0M815.1 301.0h0M812.6 304.9h0M809.3 308.0h0M806.3 311.6h0M803.6 315.4h0M800.9 319.1h0M798.2 322.6h0M795.9 326.5h0M793.8 330.9h0M789.8 333.1h0M787.8 337.1h0M783.7 339.0h0M781.6 342.2h0M779.9 345.4h0M780.2 349.2h0M779.6 352.4h0M777.9 355.1h0M776.3 358.0h0M772.6 360.3h0M774.0 364.0h0M771.1 366.6h0M770.1 369.6h0M772.3 373.9h0M771.6 377.3h0M770.1 380.3h0M765.8 382.2h0M763.9 385.0h0M760.6 387.3h0M759.4 390.5h0M759.3 394.3h0M760.3 398.7h0M759.5 402.1h0M757.8 405.1h0M755.4 407.7h0M753.2 410.5h0M753.6 414.3h0M751.8 417.2h0M750.1 420.2h0M747.8 422.9h0M746.0 425.8h0M744.8 429.0h0M744.2 432.4h0M742.1 435.2h0M741.0 438.4h0M740.0 441.6h0M738.9 444.8h0M737.5 448.0h0M736.2 451.1h0M733.2 453.5h0M732.8 457.0h0M731.6 460.1h0M731.7 463.8h0M730.6 466.9h0M730.5 470.3h0M728.9 473.1h0M726.8 475.9h0M725.5 478.8h0M725.2 482.1h0M724.1 485.1h0M723.4 488.3h0M721.9 491.2h0M720.9 494.2h0M721.3 497.6h0M720.2 500.7h0M721.1 504.3h0M719.5 507.2h0M718.3 510.2h0M717.2 513.3h0M714.1 515.8h0M711.7 518.5h0M711.6 521.8h0M712.5 525.4h0M712.0 528.5h0M710.7 531.5h0M709.1 534.4h0M708.6 537.6h0M708.3 540.7h0M710.2 544.3h0M710.8 547.5h0M710.1 550.6h0M710.0 553.7h0M710.0 556.8h0M710.2 560.0h0M707.6 562.8h0M706.5 565.8h0M704.9 568.8h0M703.3 571.8h0M703.5 574.9h0M704.2 578.1h0M704.0 581.2h0M704.0 584.3h0M703.9 587.5h0M703.7 590.6h0M702.0 593.6h0M702.7 596.7h0M703.3 599.9h0M703.8 603.1h0M703.7 606.2h0M703.8 609.3h0M703.6 612.4h0M702.9 615.5h0M703.1 618.6h0M702.5 621.7h0M701.9 624.7h0M702.5 627.9h0M701.9 631.0h0M702.6 634.1h0M701.5 637.2h0M701.1 640.3h0M702.1 643.4h0M702.3 646.5h0M702.6 649.6h0M702.1 652.7h0M701.8 655.8h0M701.2 658.9h0M701.4 662.0h0M701.3 665.1h0M701.3 668.2h0M701.8 671.3h0M701.4 674.5h0M702.1 677.6h0M702.3 680.7h0M701.6 683.8h0M701.3 686.9h0M701.5 690.0h0M701.9 693.1h0M702.1 696.2h0M703.0 699.3h0M703.7 702.4h0M703.5 705.5h0M703.1 708.6h0M702.9 711.7h0M703.0 714.8h0M702.8 717.9h0" fill="none" stroke="#00ffff" stroke-width="11.4" stroke-linecap="round"/>
<polyline points="675.0,19.0 675.7,21.3 677.0,23.7 679.0,26.0 684.0,28.4 703.4,30.9 722.7,33.1 740.5,35.0 751.7,37.1 760.1,38.4 767.0,41.2 775.2,44.7 785.3,45.8 796.4,48.1 808.2,50.3 820.6,51.5 832.8,51.8 844.3,52.9 851.2,59.5 857.1,64.8 863.8,69.6 871.0,73.5 878.4,75.1 885.2,77.0 891.8,78.4 898.3,78.4 905.3,76.8 909.7,79.5 914.0,81.7 917.9,84.3 920.6,88.0 924.0,90.1 927.4,91.7 929.5,94.5 930.5,98.1 931.7,101.1 933.1,103.6 935.6,105.2 937.5,107.4 940.0,109.1 940.8,111.8 941.4,114.5 943.5,116.5 945.0,118.9 946.4,121.6 946.0,124.0 946.1,126.5 945.3,128.9 944.0,131.2 943.1,133.5 942.1,135.8 940.7,137.9 939.3,140.0 938.0,142.1 937.6,145.2 934.8,146.8 932.9,149.1 930.2,150.9 928.0,152.9 926.3,155.5 924.0,157.8 920.9,159.3 918.6,161.8 917.3,166.1 914.4,169.2 911.2,171.8 908.9,175.4 905.2,176.5 901.4,177.5 896.3,177.3 894.2,180.3 893.5,183.5 893.1,186.4 892.8,189.3 892.6,192.0 891.5,194.3 889.2,196.1 886.2,197.6 884.2,199.5 883.7,202.0 882.1,204.1 881.7,206.5 880.8,208.8 880.3,211.2 878.5,213.2 878.2,215.8 879.0,218.8 877.9,221.0 878.0,223.6 879.7,226.7 878.1,228.8 877.4,231.2 877.2,233.9 876.0,236.2 875.5,239.0 874.1,241.4 872.7,244.0 868.7,244.7 866.7,246.8 865.3,249.3 862.9,251.2 861.9,254.0 859.9,256.1 857.1,257.7 857.3,261.5 856.8,265.0 853.9,266.4 851.0,268.0 849.1,270.2 848.0,273.3 846.7,276.2 845.5,279.1 840.9,279.3 838.9,281.5 836.4,283.4 833.3,284.8 832.2,288.0 831.4,291.4 830.2,294.6 827.8,296.8 824.4,298.0 822.2,300.4 819.5,302.4 817.5,305.2 815.3,307.8 812.3,309.6 809.0,311.1 805.8,312.7 803.3,315.1 800.6,317.2 797.8,319.1 796.0,321.9 794.8,325.5 794.0,329.5 791.3,331.4 789.0,333.9 785.7,335.2 783.0,337.1 780.6,339.1 778.5,341.4 776.8,343.8 775.4,346.2 774.1,348.5 773.2,351.0 772.7,353.5 772.1,355.9 771.6,358.4 771.6,360.9 770.5,363.1 770.6,365.6 768.8,367.5 768.6,370.0 766.8,371.8 767.4,374.7 768.4,377.8 768.1,380.4 767.8,383.1 767.2,385.7 765.1,387.5 764.3,390.0 763.5,392.5 762.0,394.7 759.6,396.4 756.4,397.7 756.6,400.7 755.5,403.1 753.2,404.8 753.5,407.8 752.7,410.2 752.6,412.9 751.5,415.3 752.0,418.3 751.3,420.7 750.0,422.9 749.6,425.5 747.1,427.2 745.3,429.2 743.6,431.2 743.5,433.9 743.6,436.7 742.9,439.2 742.0,441.5 741.9,444.3 742.1,447.2 740.5,449.3 739.4,451.6 736.5,453.1 735.1,455.2 734.0,457.5 731.0,459.0 729.6,461.2 729.0,463.6 728.6,466.1 727.0,468.2 726.4,470.6 726.5,473.2 725.6,475.5 724.5,477.7 723.9,480.1 723.6,482.5 722.6,484.7 722.5,487.2 721.3,489.4 720.8,491.7 720.9,494.3 720.1,496.5 718.9,498.7 718.1,501.0 717.9,503.4 717.0,505.7 717.5,508.3 716.4,510.5 714.6,512.5 713.7,514.8 712.6,517.0 713.1,519.7 712.4,522.0 712.8,524.6 713.2,527.2 712.1,529.4 711.5,531.7 711.4,534.1 710.5,536.3 708.9,538.4 709.4,540.9 708.8,543.2 708.3,545.5 707.5,547.8 708.3,550.3 707.6,552.6 707.8,555.0 707.9,557.3 706.2,559.5 706.1,561.8 705.9,564.2 704.8,566.4 704.7,568.8 704.6,571.1 703.5,573.4 703.6,575.7 704.2,578.1 704.4,580.5 704.8,582.8 704.4,585.1 704.0,587.5 704.6,589.8 704.6,592.2 704.9,594.6 703.8,596.8 703.4,599.1 702.4,601.4 701.9,603.7 701.5,606.0 701.7,608.4 702.0,610.7 702.2,613.1 701.7,615.4 702.5,617.8 701.7,620.1 701.5,622.4 701.4,624.7 700.8,627.1 701.1,629.4 700.7,631.7 700.5,634.1 700.2,636.4 701.1,638.7 701.2,641.1 701.4,643.4 702.0,645.7 702.2,648.0 701.9,650.4 701.2,652.7 702.2,655.0 702.2,657.4 702.2,659.7 701.6,662.0 701.6,664.4 701.5,666.7 701.8,669.0 701.5,671.3 701.6,673.7 701.7,676.0 701.3,678.3 701.2,680.7 700.9,683.0 701.1,685.3 701.6,687.7 701.8,690.0 702.7,692.3 702.4,694.6 702.4,697.0 701.9,699.3 702.3,701.6 702.5,704.0 702.1,706.3 702.2,708.6 703.1,710.9 703.5,713.3 703.9,715.6 704.2,717.9 704.1,720.2" fill="none" stroke="#00ffff" stroke-width="2.5"/>
<path d="M675.1 19.8h0M676.5 22.9h0M679.0 26.0h0M689.1 29.3h0M717.0 32.6h0M740.5 35.0h0M754.6 37.4h0M764.7 40.1h0M775.2 44.7h0M788.8 46.3h0M804.1 49.8h0M820.6 51.5h0M836.8 52.0h0M849.2 57.0h0M857.1 64.8h0M866.2 71.0h0M875.9 74.8h0M885.2 77.0h0M894.0 78.4h0M902.7 77.8h0M909.7 79.5h0M915.5 82.3h0M919.6 87.0h0M924.0 90.1h0M928.5 92.3h0M930.0 97.1h0M931.7 101.1h0M933.9 104.2h0M936.8 106.7h0M940.0 109.1h0M940.9 112.8h0M942.7 115.8h0M945.0 118.9h0M946.4 122.4h0M946.2 125.7h0M945.3 128.9h0M943.8 132.0h0M942.2 135.0h0M940.7 137.9h0M939.0 140.7h0M937.8 144.2h0M934.8 146.8h0M932.0 149.8h0M928.8 152.2h0M926.3 155.5h0M923.0 158.3h0M919.2 160.8h0M917.3 166.1h0M913.2 169.8h0M909.9 174.6h0M905.2 176.5h0M899.5 177.2h0M894.8 179.2h0M893.5 183.5h0M893.0 187.4h0M892.5 191.1h0M891.5 194.3h0M888.2 196.6h0M884.8 198.9h0M883.7 202.0h0M881.7 204.8h0M881.2 208.1h0M880.3 211.2h0M877.9 214.0h0M879.0 217.9h0M877.9 221.0h0M878.7 224.7h0M878.8 228.2h0M877.4 231.2h0M876.9 234.7h0M875.5 238.0h0M874.1 241.4h0M871.5 244.3h0M867.2 245.9h0M865.3 249.3h0M862.4 252.0h0M860.8 255.6h0M857.1 257.7h0M857.6 263.1h0M854.9 266.0h0M851.0 268.0h0M848.7 271.3h0M847.0 275.1h0M845.5 279.1h0M839.9 279.7h0M837.4 282.9h0M833.3 284.8h0M832.1 289.3h0M830.5 293.5h0M827.8 296.8h0M823.7 298.8h0M820.4 301.7h0M817.5 305.2h0M814.3 308.4h0M810.2 310.7h0M805.8 312.7h0M802.4 315.8h0M798.6 318.4h0M796.0 321.9h0M794.7 326.9h0M792.2 330.8h0M789.0 333.9h0M784.7 335.7h0M781.4 338.5h0M778.5 341.4h0M776.2 344.6h0M774.7 347.8h0M773.2 351.0h0M772.5 354.3h0M771.7 357.5h0M771.6 360.9h0M770.4 363.9h0M769.4 366.9h0M768.6 370.0h0M766.6 372.6h0M768.3 376.8h0M768.1 380.4h0M767.7 384.0h0M765.9 386.9h0M764.3 390.0h0M763.0 393.3h0M760.5 395.9h0M756.4 397.7h0M756.8 401.8h0M753.6 404.1h0M753.5 407.8h0M752.5 411.1h0M752.0 414.5h0M752.0 418.3h0M750.7 421.4h0M750.0 424.8h0M747.1 427.2h0M744.5 429.8h0M743.6 433.1h0M743.6 436.7h0M742.5 439.9h0M741.7 443.3h0M742.1 447.2h0M740.2 450.1h0M737.6 452.6h0M735.1 455.2h0M732.9 458.0h0M730.0 460.4h0M729.0 463.6h0M728.1 466.8h0M726.5 469.8h0M726.5 473.2h0M725.0 476.2h0M724.2 479.3h0M723.6 482.5h0M722.7 485.6h0M721.6 488.6h0M720.8 491.7h0M720.7 495.0h0M719.4 498.0h0M718.1 501.0h0M717.6 504.2h0M717.2 507.4h0M716.4 510.5h0M714.3 513.3h0M712.8 516.2h0M713.1 519.7h0M712.5 522.9h0M713.0 526.3h0M712.1 529.4h0M711.5 532.5h0M711.0 535.6h0M708.9 538.4h0M709.2 541.7h0M708.7 544.8h0M707.5 547.8h0M708.1 551.1h0M707.6 554.2h0M707.9 557.3h0M706.0 560.3h0M706.1 563.4h0M704.8 566.4h0M704.7 569.6h0M704.0 572.6h0M703.6 575.7h0M704.3 578.9h0M704.6 582.0h0M704.4 585.1h0M704.3 588.3h0M704.5 591.4h0M704.9 594.6h0M703.5 597.6h0M702.7 600.6h0M701.9 603.7h0M701.5 606.8h0M701.9 610.0h0M702.2 613.1h0M701.9 616.2h0M702.2 619.3h0M701.5 622.4h0M701.1 625.5h0M701.1 628.6h0M700.7 631.7h0M700.2 634.8h0M700.7 637.9h0M701.2 641.1h0M701.7 644.2h0M702.0 647.3h0M701.9 650.4h0M701.4 653.5h0M702.3 656.6h0M702.2 659.7h0M701.5 662.8h0M701.5 665.9h0M701.8 669.0h0M701.4 672.1h0M701.8 675.2h0M701.3 678.3h0M701.1 681.5h0M701.0 684.6h0M701.6 687.7h0M702.1 690.8h0M702.6 693.9h0M702.4 697.0h0M701.9 700.1h0M702.6 703.2h0M702.1 706.3h0M702.5 709.4h0M703.4 712.5h0M703.9 715.6h0M704.1 718.7h0" fill="none" stroke="#00ffff" stroke-width="11.4" stroke-linecap="round"/>
<polyline points="675.0,19.0 675.7,21.3 677.0,23.7 679.0,26.0 684.0,28.1 703.4,30.3 722.7,33.0 740.3,36.3 751.3,38.6 759.0,41.7 766.0,44.7 775.0,45.6 784.8,47.6 795.9,50.3 807.8,52.5 820.1,54.2 832.2,54.5 843.2,57.2 851.1,59.7 857.8,62.6 865.4,64.6 872.9,67.2 879.8,70.8 886.2,74.1 892.7,76.1 898.0,79.2 903.0,81.5 907.8,83.0 912.0,85.1 915.9,87.4 919.6,89.4 923.2,91.0 925.9,93.4 929.3,94.7 930.9,97.7 932.9,100.1 934.4,102.7 936.3,104.8 938.7,106.5 940.9,108.5 943.4,110.3 945.4,112.6 945.5,115.8 946.0,118.7 946.5,121.6 946.2,124.1 947.1,126.7 947.3,129.2 946.0,131.6 945.0,133.9 945.7,136.6 943.8,138.7 943.5,141.5 942.3,144.6 940.4,147.3 937.6,149.1 935.5,151.3 933.8,153.8 931.8,156.3 929.7,158.7 927.3,161.1 924.9,163.6 921.8,165.5 917.8,166.8 914.6,169.3 910.7,171.1 906.9,172.7 905.3,176.6 902.2,178.5 898.1,179.2 893.5,179.7 892.3,182.7 890.2,184.8 889.0,187.4 888.1,189.9 887.0,192.4 887.1,195.2 887.7,198.2 886.7,200.4 886.9,203.1 886.6,205.7 885.4,207.9 883.7,209.9 883.2,212.3 883.0,214.9 880.7,216.7 878.3,218.5 879.2,221.4 877.7,223.5 876.4,225.6 876.1,228.1 876.3,230.8 875.2,233.0 874.6,235.6 872.7,237.4 870.0,238.9 867.7,240.5 866.5,243.0 864.4,245.1 863.3,247.8 862.1,250.6 861.3,253.5 858.8,255.3 856.6,257.3 854.8,259.6 852.0,261.1 850.6,263.8 848.8,266.2 847.8,269.2 847.2,272.6 845.5,275.2 844.5,278.3 842.2,280.3 840.7,283.1 838.7,285.4 836.1,287.2 834.7,290.2 832.6,292.5 830.7,295.1 829.2,298.1 825.7,299.3 823.6,301.8 821.2,304.2 817.8,305.5 814.6,307.1 812.3,309.7 808.6,310.7 806.4,313.4 803.9,315.7 800.7,317.3 799.1,320.4 798.1,324.1 796.2,326.9 793.0,328.4 789.9,330.1 787.6,332.5 785.4,334.9 784.3,338.2 782.7,340.7 781.7,343.4 780.0,345.4 778.9,347.7 778.7,350.3 776.0,351.9 775.1,354.3 774.7,356.7 773.3,358.8 773.3,361.3 772.6,363.6 772.2,366.1 773.9,369.1 773.9,371.7 773.4,374.3 772.2,376.6 769.7,378.3 768.5,380.6 767.5,383.0 765.7,385.0 764.4,387.2 764.2,390.0 762.4,392.0 760.6,394.0 759.3,396.3 757.9,398.5 756.7,400.7 754.3,402.5 754.1,405.3 753.2,407.6 750.9,409.4 750.1,411.9 749.4,414.3 748.3,416.7 746.6,418.7 746.2,421.3 746.4,424.1 746.4,426.9 745.5,429.3 744.2,431.5 742.5,433.5 739.7,435.1 739.4,437.7 739.5,440.5 738.7,442.9 738.3,445.5 737.5,447.9 737.0,450.5 736.1,452.9 732.5,454.1 732.3,456.8 731.8,459.3 732.1,462.2 732.1,464.8 731.6,467.2 731.1,469.6 730.6,472.0 729.8,474.2 729.8,476.8 729.8,479.2 729.0,481.5 728.6,483.9 727.8,486.1 726.9,488.3 726.0,490.6 725.8,493.0 726.2,495.6 725.4,497.9 723.7,500.0 722.9,502.3 721.9,504.5 721.7,507.0 721.4,509.5 720.0,511.6 719.1,513.9 718.8,516.3 717.1,518.3 715.8,520.4 715.5,522.9 715.1,525.2 713.6,527.3 712.0,529.3 710.8,531.5 710.4,533.9 710.0,536.2 709.9,538.6 709.5,540.9 708.6,543.2 709.1,545.7 709.1,548.1 709.6,550.5 708.3,552.7 707.8,555.0 708.3,557.4 707.3,559.6 706.8,561.9 706.7,564.2 706.0,566.5 704.9,568.8 704.4,571.1 704.5,573.4 705.2,575.8 705.1,578.2 706.1,580.6 705.6,582.9 704.8,585.2 703.9,587.5 704.0,589.8 702.9,592.1 701.8,594.3 701.4,596.6 701.8,599.0 702.3,601.4 701.8,603.7 702.6,606.1 702.9,608.5 703.4,610.8 702.8,613.1 703.2,615.5 702.3,617.8 702.6,620.1 703.1,622.4 703.4,624.8 703.7,627.1 703.0,629.4 702.9,631.7 703.9,634.1 703.7,636.4 703.2,638.7 703.2,641.1 703.4,643.4 703.3,645.7 702.0,648.0 702.1,650.4 701.5,652.7 701.6,655.0 702.1,657.4 702.2,659.7 702.5,662.0 702.6,664.4 701.7,666.7 701.6,669.0 701.7,671.3 700.9,673.7 700.6,676.0 701.2,678.3 701.5,680.7 701.5,683.0 701.9,685.3 702.2,687.7 701.9,690.0 702.2,692.3 702.6,694.6 702.9,697.0 703.3,699.3 703.4,701.6 703.3,703.9 703.3,706.3 702.7,708.6 702.4,711.0 702.5,713.3 702.7,715.6 702.8,717.9 703.0,720.3" fill="none" stroke="#00ffff" stroke-width="2.5"/>
<path d="M675.4 20.6h0M677.0 23.7h0M680.0 26.8h0M696.5 29.4h0M722.7 33.0h0M744.8 37.2h0M756.6 40.6h0M766.0 44.7h0M778.3 45.9h0M792.1 49.5h0M807.8 52.5h0M824.2 54.4h0M839.9 56.0h0M851.1 59.7h0M860.2 63.3h0M870.5 66.2h0M879.8 70.8h0M888.4 74.8h0M896.3 78.2h0M903.0 81.5h0M909.3 83.7h0M914.7 86.5h0M919.6 89.4h0M924.1 91.9h0M928.3 94.2h0M930.9 97.7h0M933.4 100.9h0M935.5 104.2h0M938.7 106.5h0M941.7 109.1h0M944.9 111.8h0M945.5 115.8h0M946.2 119.7h0M946.3 123.2h0M947.1 126.7h0M946.9 130.0h0M945.2 133.1h0M945.7 136.6h0M943.5 139.5h0M942.8 143.7h0M940.4 147.3h0M936.8 149.8h0M934.4 153.0h0M931.8 156.3h0M928.9 159.5h0M925.7 162.7h0M921.8 165.5h0M916.7 167.6h0M912.0 170.6h0M906.9 172.7h0M904.6 177.6h0M899.6 179.1h0M893.5 179.7h0M891.7 183.5h0M889.3 186.4h0M888.1 189.9h0M886.9 193.3h0M887.7 197.3h0M886.7 200.4h0M886.9 204.0h0M886.0 207.2h0M883.7 209.9h0M883.3 213.3h0M881.5 216.1h0M878.3 218.5h0M879.1 222.2h0M876.7 224.9h0M876.1 228.1h0M876.0 231.6h0M874.8 234.7h0M872.7 237.4h0M869.0 239.3h0M866.9 242.2h0M864.4 245.1h0M863.2 249.0h0M861.3 252.4h0M858.8 255.3h0M856.2 258.2h0M852.9 260.6h0M850.6 263.8h0M848.1 266.9h0M847.7 271.7h0M845.5 275.2h0M843.8 279.0h0M841.1 282.1h0M838.7 285.4h0M835.6 288.2h0M833.3 291.8h0M830.7 295.1h0M828.2 298.7h0M824.1 300.8h0M821.2 304.2h0M816.5 305.8h0M813.2 309.0h0M808.6 310.7h0M805.8 314.4h0M801.6 316.6h0M799.1 320.4h0M797.7 325.2h0M794.1 327.9h0M789.9 330.1h0M786.8 333.2h0M784.7 337.1h0M782.7 340.7h0M781.3 344.2h0M778.8 346.7h0M778.7 350.3h0M775.4 352.6h0M775.0 355.9h0M773.3 358.8h0M773.3 362.2h0M772.1 365.2h0M773.9 369.1h0M773.6 372.5h0M773.0 376.0h0M769.7 378.3h0M768.2 381.4h0M766.4 384.3h0M764.4 387.2h0M763.9 390.8h0M760.9 393.2h0M759.3 396.3h0M757.7 399.3h0M754.9 401.8h0M754.1 405.3h0M752.3 408.2h0M750.3 411.0h0M749.4 414.3h0M747.8 417.3h0M746.1 420.3h0M746.4 424.1h0M746.1 427.7h0M744.8 430.8h0M742.5 433.5h0M739.2 435.8h0M739.6 439.6h0M738.7 442.9h0M738.0 446.3h0M737.0 449.6h0M736.1 452.9h0M732.3 454.9h0M732.0 458.5h0M732.1 462.2h0M731.9 465.6h0M731.2 468.8h0M730.6 472.0h0M729.7 475.1h0M729.9 478.4h0M729.0 481.5h0M728.4 484.6h0M727.2 487.6h0M726.0 490.6h0M726.0 493.9h0M725.8 497.2h0M723.7 500.0h0M722.6 503.0h0M721.7 506.1h0M721.4 509.5h0M719.5 512.3h0M719.0 515.5h0M717.1 518.3h0M715.6 521.2h0M715.4 524.5h0M713.6 527.3h0M711.5 530.0h0M710.6 533.1h0M710.0 536.2h0M709.9 539.4h0M708.9 542.4h0M709.1 545.7h0M709.2 548.9h0M708.9 552.0h0M707.8 555.0h0M708.0 558.1h0M706.8 561.1h0M706.7 564.2h0M705.7 567.3h0M704.4 570.3h0M704.5 573.4h0M705.2 576.6h0M705.8 579.8h0M705.6 582.9h0M704.4 585.9h0M704.1 589.0h0M702.9 592.1h0M701.6 595.1h0M701.6 598.2h0M702.3 601.4h0M702.0 604.5h0M702.7 607.7h0M703.4 610.8h0M703.0 613.9h0M702.5 617.0h0M702.6 620.1h0M703.3 623.2h0M703.6 626.3h0M703.0 629.4h0M703.3 632.5h0M703.8 635.6h0M703.2 638.7h0M703.2 641.8h0M703.6 645.0h0M702.0 648.0h0M702.0 651.2h0M701.4 654.3h0M702.1 657.4h0M702.3 660.5h0M702.6 663.6h0M701.7 666.7h0M701.7 669.8h0M701.1 672.9h0M700.6 676.0h0M701.4 679.1h0M701.5 682.2h0M701.9 685.3h0M702.0 688.4h0M702.1 691.5h0M702.6 694.6h0M703.0 697.7h0M703.4 700.8h0M703.3 703.9h0M703.1 707.0h0M702.5 710.2h0M702.5 713.3h0M702.6 716.4h0M703.0 719.5h0" fill="none" stroke="#00ffff" stroke-width="11.4" stroke-linecap="round"/>
<polyline points="675.0,19.0 675.7,21.3 677.0,23.7 679.0,26.0 684.0,28.5 703.2,32.6 722.2,36.7 740.1,38.1 751.2,38.9 760.0,38.7 767.0,41.1 775.6,43.2 785.7,43.7 796.7,46.2 808.6,48.4 821.0,49.2 832.9,51.5 843.9,54.1 851.9,57.2 858.6,60.3 866.2,62.0 874.4,62.4 882.2,63.7 889.0,66.4 894.8,70.7 899.0,76.7 904.5,78.4 910.1,78.8 913.7,82.2 917.6,84.7 921.1,87.3 924.2,89.8 925.5,93.7 927.9,96.1 929.2,99.2 930.4,102.1 932.3,104.2 933.1,106.9 934.7,109.2 936.3,111.4 938.8,113.0 941.5,114.5 943.4,116.5 944.5,119.0 944.2,121.5 945.4,124.0 945.7,126.5 945.4,129.0 944.9,131.4 944.7,133.8 943.0,136.0 941.4,138.1 939.8,140.2 938.0,142.1 937.7,145.3 936.7,148.4 933.7,149.8 931.3,151.8 930.6,155.2 927.7,156.9 925.4,159.2 922.6,161.2 920.0,163.4 917.4,166.3 914.2,168.8 910.2,170.3 906.0,171.5 903.6,174.5 900.6,176.6 897.0,178.1 894.5,180.5 892.4,182.8 890.5,185.0 888.8,187.2 888.3,190.0 887.0,192.3 885.8,194.7 885.5,197.3 884.4,199.6 883.4,201.9 882.8,204.3 882.4,206.8 881.8,209.2 881.5,211.7 881.2,214.2 880.3,216.6 879.2,218.8 878.5,221.2 878.6,223.8 877.9,226.2 876.7,228.3 875.6,230.5 877.0,233.8 876.4,236.4 875.1,238.8 873.2,240.9 871.9,243.4 870.2,245.8 867.8,247.6 866.1,250.0 863.7,251.7 861.8,254.0 860.6,256.7 859.9,259.8 858.6,262.5 856.6,264.8 855.2,267.5 853.5,270.0 852.2,272.9 849.1,274.2 845.0,274.8 842.9,276.9 841.5,279.8 839.8,282.3 837.9,284.8 834.5,285.8 832.6,288.3 832.0,292.1 830.7,295.1 828.0,297.0 825.0,298.6 821.4,299.6 819.4,302.3 817.0,304.6 814.8,307.3 812.2,309.6 810.5,312.8 808.3,315.4 805.8,317.7 803.6,320.2 800.7,322.0 797.0,322.9 794.2,324.8 792.0,327.4 789.8,329.9 788.2,333.1 786.0,335.5 784.6,338.4 784.0,341.7 780.7,342.8 778.7,344.8 776.7,346.7 774.3,348.6 774.9,351.6 775.2,354.3 777.8,357.6 776.8,359.8 774.8,361.7 772.7,363.7 771.6,365.9 771.8,368.5 770.4,370.5 769.7,372.9 769.3,375.4 769.0,378.0 768.9,380.8 767.5,383.0 767.8,386.0 765.8,387.9 764.8,390.2 763.6,392.6 763.2,395.3 762.0,397.6 759.7,399.3 758.7,401.7 758.2,404.3 757.2,406.6 755.9,408.8 754.3,410.9 753.8,413.5 753.1,416.0 751.8,418.2 749.9,420.1 748.8,422.4 745.8,423.9 745.7,426.6 745.0,429.0 743.3,431.1 742.9,433.7 743.0,436.4 741.5,438.6 738.7,440.1 736.8,442.1 737.0,444.9 734.9,446.8 734.8,449.6 736.1,452.9 736.0,455.6 734.7,457.8 734.3,460.3 732.4,462.3 730.3,464.1 729.1,466.3 728.7,468.8 727.3,470.9 727.4,473.5 726.5,475.8 726.1,478.2 725.7,480.6 724.9,482.8 725.0,485.4 725.1,487.9 723.2,489.9 722.0,492.0 721.6,494.4 722.0,497.0 721.3,499.3 720.1,501.5 719.4,503.8 718.7,506.1 717.4,508.3 717.5,510.9 717.9,513.5 716.6,515.6 715.8,517.9 715.6,520.4 713.2,522.2 712.3,524.5 711.3,526.7 710.7,529.0 709.8,531.3 710.1,533.8 710.6,536.3 710.4,538.7 710.0,541.0 709.6,543.4 707.8,545.4 707.8,547.8 707.2,550.1 706.1,552.4 706.5,554.8 706.9,557.2 706.9,559.6 706.4,561.9 706.0,564.2 706.0,566.5 705.4,568.8 706.0,571.2 706.4,573.6 705.6,575.9 705.0,578.2 704.0,580.4 703.6,582.8 703.8,585.1 704.2,587.5 704.5,589.8 704.5,592.2 704.3,594.5 704.3,596.9 702.9,599.1 702.6,601.4 702.5,603.7 701.7,606.0 702.8,608.4 703.2,610.8 702.9,613.1 703.6,615.5 703.7,617.8 703.1,620.1 702.4,622.4 701.5,624.7 701.8,627.1 701.5,629.4 701.1,631.7 701.1,634.1 700.3,636.4 700.4,638.7 699.9,641.0 699.2,643.4 699.9,645.7 700.1,648.0 699.4,650.4 699.1,652.7 699.0,655.0 699.0,657.4 699.5,659.7 701.3,662.0 702.2,664.4 702.2,666.7 703.0,669.0 702.8,671.3 701.9,673.7 701.7,676.0 701.5,678.3 701.4,680.7 701.8,683.0 701.9,685.3 701.9,687.7 702.1,690.0 701.8,692.3 701.2,694.7 700.3,697.0 700.9,699.3 701.2,701.7 702.1,704.0 702.5,706.3 702.5,708.6 702.8,710.9 702.7,713.3 703.1,715.6 703.1,717.9 703.0,720.3" fill="none" stroke="#00ffff" stroke-width="2.5"/>
<path d="M675.4 20.6h0M677.0 23.7h0M680.0 26.8h0M696.4 30.9h0M722.2 36.7h0M744.6 38.5h0M757.2 38.5h0M767.0 41.1h0M778.8 43.5h0M793.0 45.1h0M808.6 48.4h0M825.1 49.9h0M840.5 53.2h0M851.9 57.2h0M860.9 61.1h0M871.8 61.9h0M882.2 63.7h0M891.0 67.7h0M898.0 74.0h0M904.5 78.4h0M911.3 80.1h0M916.4 83.8h0M921.1 87.3h0M924.7 91.2h0M927.1 95.4h0M929.2 99.2h0M931.1 102.7h0M932.8 106.0h0M934.7 109.2h0M937.1 112.0h0M940.6 114.0h0M943.4 116.5h0M944.5 119.8h0M945.0 123.2h0M945.7 126.5h0M945.4 129.8h0M944.7 133.0h0M943.0 136.0h0M940.9 138.8h0M938.5 141.4h0M937.7 145.3h0M935.8 148.9h0M931.9 151.0h0M930.6 155.2h0M927.0 157.7h0M923.4 160.4h0M920.0 163.4h0M916.4 167.2h0M911.7 170.0h0M906.0 171.5h0M902.7 175.3h0M898.1 177.5h0M894.5 180.5h0M891.8 183.5h0M889.1 186.3h0M888.3 190.0h0M886.5 193.1h0M885.6 196.5h0M884.4 199.6h0M883.1 202.7h0M882.6 206.0h0M881.8 209.2h0M881.3 212.5h0M880.7 215.9h0M879.2 218.8h0M878.5 222.1h0M878.1 225.4h0M876.7 228.3h0M876.1 231.6h0M876.7 235.6h0M875.1 238.8h0M872.7 241.7h0M871.0 245.1h0M867.8 247.6h0M865.3 250.6h0M862.4 253.2h0M860.6 256.7h0M859.4 260.7h0M857.2 264.0h0M855.2 267.5h0M853.1 271.0h0M850.5 274.0h0M845.0 274.8h0M842.5 277.9h0M840.3 281.4h0M837.9 284.8h0M833.5 286.4h0M832.3 290.9h0M830.7 295.1h0M827.1 297.6h0M822.4 299.1h0M819.4 302.3h0M816.1 305.4h0M813.1 308.9h0M810.5 312.8h0M807.3 316.0h0M804.4 319.5h0M800.7 322.0h0M796.0 323.5h0M792.8 326.6h0M789.8 329.9h0M787.5 334.0h0M784.8 337.2h0M784.0 341.7h0M779.7 343.3h0M777.6 346.2h0M774.3 348.6h0M774.8 352.4h0M777.1 356.5h0M776.8 359.8h0M774.1 362.4h0M771.6 365.0h0M771.8 368.5h0M770.2 371.3h0M769.3 374.5h0M769.0 378.0h0M768.5 381.5h0M767.8 385.0h0M765.8 387.9h0M764.4 391.1h0M763.1 394.3h0M762.0 397.6h0M759.2 400.1h0M758.5 403.5h0M757.2 406.6h0M755.0 409.4h0M754.0 412.7h0M753.1 416.0h0M751.1 418.8h0M749.3 421.7h0M745.8 423.9h0M745.6 427.5h0M744.0 430.5h0M742.9 433.7h0M742.6 437.2h0M739.7 439.6h0M736.8 442.1h0M736.5 445.7h0M734.4 448.4h0M736.1 452.9h0M735.7 456.4h0M734.3 459.5h0M732.4 462.3h0M729.7 464.8h0M729.1 468.1h0M727.3 470.9h0M726.9 474.2h0M726.3 477.4h0M725.7 480.6h0M724.6 483.6h0M725.4 487.1h0M723.2 489.9h0M721.7 492.8h0M721.9 496.2h0M721.3 499.3h0M719.9 502.3h0M718.9 505.4h0M717.4 508.3h0M718.0 511.8h0M717.0 514.9h0M715.8 517.9h0M714.9 521.0h0M712.6 523.7h0M711.3 526.7h0M710.2 529.8h0M709.9 533.0h0M710.6 536.3h0M710.3 539.5h0M709.9 542.6h0M707.8 545.4h0M707.7 548.6h0M706.4 551.6h0M706.5 554.8h0M707.0 558.0h0M706.6 561.1h0M706.0 564.2h0M706.0 567.3h0M705.6 570.4h0M706.4 573.6h0M705.5 576.6h0M704.2 579.7h0M703.6 582.8h0M704.0 585.9h0M704.4 589.0h0M704.5 592.2h0M704.3 595.3h0M703.5 598.3h0M702.6 601.4h0M702.2 604.5h0M702.3 607.6h0M703.2 610.8h0M703.1 613.9h0M703.7 617.0h0M703.1 620.1h0M702.0 623.2h0M701.7 626.3h0M701.5 629.4h0M700.9 632.5h0M700.5 635.6h0M700.4 638.7h0M699.6 641.8h0M699.5 644.9h0M700.1 648.0h0M699.3 651.1h0M699.0 654.2h0M699.0 657.4h0M700.0 660.5h0M702.2 663.6h0M702.2 666.7h0M703.0 669.8h0M702.2 672.9h0M701.7 676.0h0M701.5 679.1h0M701.5 682.2h0M701.9 685.3h0M702.0 688.4h0M702.0 691.5h0M701.2 694.7h0M700.3 697.8h0M701.3 700.9h0M702.1 704.0h0M702.5 707.1h0M702.8 710.2h0M702.7 713.3h0M703.2 716.4h0M702.9 719.5h0" fill="none" stroke="#00ffff" stroke-width="11.4" stroke-linecap="round"/>
<path d="M648.5 17.4V27.8" fill="none" stroke="#00ffff" stroke-width="12.4"/>
<polyline points="631.5,19.0 631.5,20.6 631.5,22.1 631.5,23.7 631.5,25.2 631.5,26.8 631.5,28.3 635.0,30.6 653.0,34.5 699.0,38.4 737.0,42.3 772.0,46.2 805.0,50.1 828.0,53.9 846.0,57.8 868.0,65.6 887.0,73.4 898.0,81.1 906.0,88.9 912.0,96.7 924.0,116.1 925.0,135.5 908.7,174.3 890.5,213.1 863.8,252.0 837.0,290.8 805.7,329.6 758.0,407.3 727.8,485.0 706.4,562.6 700.6,640.3 702.1,717.9 706.0,795.6" fill="none" stroke="#ff0000" stroke-width="9.6" stroke-linejoin="round" stroke-linecap="butt"/>
<polyline points="675.0,19.0 675.4,20.6 676.1,22.1 677.0,23.7 678.2,25.2 680.0,26.8 684.0,28.3 696.5,29.9 710.4,31.4 722.7,33.0 734.1,34.5 745.0,36.1 751.6,37.6 757.0,39.2 761.9,40.7 766.7,42.3 772.2,43.9 778.4,45.4 785.0,47.0 792.3,48.5 800.0,50.1 807.9,51.6 816.1,53.2 824.1,54.7 831.9,56.3 839.5,57.8 845.7,59.4 850.7,60.9 855.3,62.5 860.0,64.0 865.1,65.6 870.2,67.1 875.2,68.7 880.0,70.3 884.5,71.8 889.0,73.4 893.1,74.9 897.0,76.5 900.6,78.0 903.9,79.6 907.0,81.1 909.8,82.7 912.6,84.2 915.2,85.8 917.7,87.3 920.0,88.9 922.1,90.4 923.9,92.0 925.7,93.6 927.3,95.1 928.9,96.7 930.4,98.2 931.7,99.8 933.0,101.3 934.1,102.9 935.1,104.4 936.2,106.0 937.2,107.5 938.2,109.1 939.2,110.6 940.2,112.2 941.0,113.7 941.7,115.3 942.3,116.9 942.7,118.4 943.0,120.0 943.0,121.5 942.9,123.1 942.8,124.6 942.7,126.2 942.5,127.7 942.3,129.3 942.0,130.8 941.7,132.4 941.4,133.9 941.0,135.5 940.6,137.0 940.2,138.6 939.8,140.1 939.1,141.7 938.1,143.3 937.1,144.8 935.9,146.4 934.6,147.9 933.3,149.5 932.0,151.0 930.7,152.6 929.4,154.1 928.0,155.7 926.5,157.2 925.0,158.8 923.4,160.3 921.7,161.9 920.0,163.4 918.1,165.0 916.0,166.6 913.7,168.1 911.4,169.7 909.1,171.2 907.0,172.8 905.0,174.3 903.1,175.9 901.3,177.4 899.5,179.0 897.9,180.5 896.6,182.1 895.5,183.6 894.5,185.2 893.6,186.7 892.8,188.3 892.0,189.9 891.2,191.4 890.5,193.0 889.9,194.5 889.2,196.1 888.6,197.6 888.0,199.2 887.5,200.7 886.9,202.3 886.4,203.8 885.8,205.4 885.3,206.9 884.7,208.5 884.2,210.0 883.6,211.6 883.0,213.1 882.4,214.7 881.8,216.3 881.3,217.8 880.8,219.4 880.3,220.9 879.8,222.5 879.3,224.0 878.8,225.6 878.2,227.1 877.7,228.7 877.1,230.2 876.5,231.8 875.9,233.3 875.2,234.9 874.5,236.4 873.7,238.0 872.8,239.6 871.8,241.1 870.8,242.7 869.7,244.2 868.6,245.8 867.5,247.3 866.3,248.9 865.1,250.4 864.0,252.0 862.9,253.5 861.7,255.1 860.6,256.6 859.4,258.2 858.2,259.7 857.0,261.3 855.8,262.9 854.5,264.4 853.3,266.0 852.0,267.5 850.8,269.1 849.5,270.6 848.2,272.2 847.0,273.7 845.7,275.3 844.4,276.8 843.1,278.4 841.7,279.9 840.4,281.5 839.1,283.0 837.7,284.6 836.4,286.2 835.0,287.7 833.6,289.3 832.2,290.8 830.8,292.4 829.4,293.9 828.0,295.5 826.5,297.0 825.0,298.6 823.5,300.1 821.9,301.7 820.3,303.2 818.7,304.8 817.0,306.3 815.4,307.9 813.7,309.4 812.0,311.0 810.3,312.6 808.6,314.1 807.0,315.7 805.3,317.2 803.7,318.8 802.1,320.3 800.6,321.9 799.1,323.4 797.5,325.0 795.9,326.5 794.3,328.1 792.6,329.6 791.0,331.2 789.4,332.7 787.9,334.3 786.4,335.9 785.0,337.4 783.7,339.0 782.4,340.5 781.3,342.1 780.3,343.6 779.5,345.2 778.8,346.7 778.1,348.3 777.5,349.8 776.9,351.4 776.3,352.9 775.8,354.5 775.4,356.0 774.9,357.6 774.5,359.2 774.0,360.7 773.6,362.3 773.2,363.8 772.8,365.4 772.3,366.9 771.9,368.5 771.4,370.0 770.8,371.6 770.3,373.1 769.7,374.7 769.1,376.2 768.4,377.8 767.8,379.3 767.1,380.9 766.4,382.4 765.7,384.0 764.9,385.6 764.2,387.1 763.5,388.7 762.7,390.2 761.9,391.8 761.2,393.3 760.4,394.9 759.7,396.4 758.9,398.0 758.1,399.5 757.4,401.1 756.7,402.6 755.9,404.2 755.2,405.7 754.5,407.3 753.8,408.9 753.1,410.4 752.4,412.0 751.7,413.5 751.1,415.1 750.4,416.6 749.7,418.2 749.0,419.7 748.3,421.3 747.7,422.8 747.0,424.4 746.3,425.9 745.7,427.5 745.0,429.0 744.3,430.6 743.7,432.2 743.0,433.7 742.3,435.3 741.7,436.8 741.0,438.4 740.3,439.9 739.7,441.5 739.0,443.0 738.3,444.6 737.6,446.1 736.9,447.7 736.2,449.2 735.5,450.8 734.8,452.3 734.1,453.9 733.5,455.4 732.8,457.0 732.1,458.6 731.5,460.1 730.9,461.7 730.3,463.2 729.7,464.8 729.1,466.3 728.5,467.9 728.0,469.4 727.5,471.0 727.0,472.5 726.5,474.1 726.0,475.6 725.6,477.2 725.1,478.7 724.7,480.3 724.3,481.9 723.9,483.4 723.5,485.0 723.0,486.5 722.6,488.1 722.2,489.6 721.8,491.2 721.4,492.7 721.0,494.3 720.6,495.8 720.2,497.4 719.8,498.9 719.4,500.5 719.0,502.0 718.6,503.6 718.2,505.2 717.7,506.7 717.3,508.3 716.8,509.8 716.4,511.4 715.9,512.9 715.4,514.5 715.0,516.0 714.5,517.6 714.1,519.1 713.7,520.7 713.2,522.2 712.8,523.8 712.4,525.3 712.0,526.9 711.7,528.4 711.3,530.0 711.0,531.6 710.7,533.1 710.4,534.7 710.1,536.2 709.8,537.8 709.5,539.3 709.2,540.9 708.9,542.4 708.6,544.0 708.4,545.5 708.1,547.1 707.8,548.6 707.6,550.2 707.4,551.7 707.1,553.3 706.9,554.9 706.7,556.4 706.5,558.0 706.3,559.5 706.2,561.1 706.0,562.6 705.9,564.2 705.7,565.7 705.6,567.3 705.5,568.8 705.3,570.4 705.2,571.9 705.1,573.5 705.0,575.0 704.9,576.6 704.8,578.2 704.7,579.7 704.6,581.3 704.5,582.8 704.4,584.4 704.3,585.9 704.2,587.5 704.1,589.0 704.0,590.6 703.9,592.1 703.8,593.7 703.6,595.2 703.5,596.8 703.4,598.3 703.3,599.9 703.2,601.4 703.1,603.0 703.0,604.6 702.8,606.1 702.7,607.7 702.6,609.2 702.5,610.8 702.5,612.3 702.4,613.9 702.3,615.4 702.2,617.0 702.2,618.5 702.1,620.1 702.1,621.6 702.0,623.2 702.0,624.7 702.0,626.3 702.0,627.9 701.9,629.4 701.9,631.0 701.9,632.5 701.9,634.1 701.9,635.6 701.8,637.2 701.8,638.7 701.8,640.3 701.8,641.8 701.8,643.4 701.8,644.9 701.8,646.5 701.7,648.0 701.7,649.6 701.7,651.2 701.7,652.7 701.7,654.3 701.7,655.8 701.7,657.4 701.7,658.9 701.7,660.5 701.7,662.0 701.7,663.6 701.7,665.1 701.7,666.7 701.7,668.2 701.7,669.8 701.8,671.3 701.8,672.9 701.8,674.5 701.8,676.0 701.8,677.6 701.9,679.1 701.9,680.7 701.9,682.2 701.9,683.8 702.0,685.3 702.0,686.9 702.0,688.4 702.1,690.0 702.1,691.5 702.1,693.1 702.2,694.6 702.2,696.2 702.2,697.7 702.3,699.3 702.3,700.9 702.3,702.4 702.4,704.0 702.4,705.5 702.5,707.1 702.5,708.6 702.6,710.2 702.6,711.7 702.7,713.3 702.7,714.8 702.8,716.4 702.9,717.9 702.9,719.5 703.0,721.0" fill="none" stroke="#0000ff" stroke-width="2.5" stroke-linejoin="round"/>
<path d="M675.0 19.0h0M676.5 22.9h0M680.0 26.8h0M703.4 30.6h0M734.1 34.5h0M754.3 38.4h0M766.7 42.3h0M781.6 46.2h0M800.0 50.1h0M820.1 53.9h0M839.5 57.8h0M853.0 61.7h0M865.1 65.6h0M877.7 69.5h0M889.0 73.4h0M898.8 77.2h0M907.0 81.1h0M913.9 85.0h0M920.0 88.9h0M924.8 92.8h0M928.9 96.7h0M932.4 100.5h0M935.1 104.4h0M937.7 108.3h0M940.2 112.2h0M942.1 116.1h0M943.0 120.0h0M942.9 123.8h0M942.5 127.7h0M941.9 131.6h0M941.0 135.5h0M940.0 139.4h0M938.1 143.3h0M935.2 147.1h0M932.0 151.0h0M928.7 154.9h0M925.0 158.8h0M920.9 162.7h0M916.0 166.6h0M910.3 170.4h0M905.0 174.3h0M900.4 178.2h0M896.6 182.1h0M894.1 186.0h0M892.0 189.9h0M890.2 193.7h0M888.6 197.6h0M887.2 201.5h0M885.8 205.4h0M884.5 209.3h0M883.0 213.1h0M881.6 217.0h0M880.3 220.9h0M879.0 224.8h0M877.7 228.7h0M876.2 232.6h0M874.5 236.4h0M872.3 240.3h0M869.7 244.2h0M866.9 248.1h0M864.0 252.0h0M861.1 255.9h0M858.2 259.7h0M855.2 263.6h0M852.0 267.5h0M848.9 271.4h0M845.7 275.3h0M842.4 279.2h0M839.1 283.0h0M835.7 286.9h0M832.2 290.8h0M828.7 294.7h0M825.0 298.6h0M821.1 302.5h0M817.0 306.3h0M812.8 310.2h0M808.6 314.1h0M804.5 318.0h0M800.6 321.9h0M796.7 325.8h0M792.6 329.6h0M788.7 333.5h0M785.0 337.4h0M781.9 341.3h0M779.5 345.2h0M777.8 349.1h0M776.3 352.9h0M775.1 356.8h0M774.0 360.7h0M773.0 364.6h0M771.9 368.5h0M770.6 372.4h0M769.1 376.2h0M767.4 380.1h0M765.7 384.0h0M763.8 387.9h0M761.9 391.8h0M760.0 395.7h0M758.1 399.5h0M756.3 403.4h0M754.5 407.3h0M752.8 411.2h0M751.1 415.1h0M749.4 418.9h0M747.7 422.8h0M746.0 426.7h0M744.3 430.6h0M742.7 434.5h0M741.0 438.4h0M739.3 442.2h0M737.6 446.1h0M735.9 450.0h0M734.1 453.9h0M732.5 457.8h0M730.9 461.7h0M729.4 465.5h0M728.0 469.4h0M726.8 473.3h0M725.6 477.2h0M724.5 481.1h0M723.5 485.0h0M722.4 488.8h0M721.4 492.7h0M720.4 496.6h0M719.4 500.5h0M718.4 504.4h0M717.3 508.3h0M716.1 512.1h0M715.0 516.0h0M713.9 519.9h0M712.8 523.8h0M711.9 527.7h0M711.0 531.6h0M710.2 535.4h0M709.5 539.3h0M708.8 543.2h0M708.1 547.1h0M707.5 551.0h0M706.9 554.9h0M706.4 558.7h0M706.0 562.6h0M705.6 566.5h0M705.3 570.4h0M705.1 574.3h0M704.8 578.2h0M704.6 582.0h0M704.3 585.9h0M704.0 589.8h0M703.8 593.7h0M703.5 597.6h0M703.2 601.4h0M702.9 605.3h0M702.6 609.2h0M702.4 613.1h0M702.2 617.0h0M702.1 620.9h0M702.0 624.7h0M701.9 628.6h0M701.9 632.5h0M701.9 636.4h0M701.8 640.3h0M701.8 644.2h0M701.7 648.0h0M701.7 651.9h0M701.7 655.8h0M701.7 659.7h0M701.7 663.6h0M701.7 667.5h0M701.8 671.3h0M701.8 675.2h0M701.9 679.1h0M701.9 683.0h0M702.0 686.9h0M702.1 690.8h0M702.2 694.6h0M702.2 698.5h0M702.3 702.4h0M702.5 706.3h0M702.6 710.2h0M702.7 714.1h0M702.9 717.9h0M703.0 721.8h0" fill="none" stroke="#0000ff" stroke-width="11.6" stroke-linecap="round"/>
<polyline points="631.5,19.0 631.5,20.6 631.5,22.1 631.5,23.7 631.5,25.2 631.5,26.8 631.5,28.3 635.0,30.6 653.0,34.5 699.0,38.4 737.0,42.3 772.0,46.2 805.0,50.1 828.0,53.9 846.0,57.8 868.0,65.6 887.0,73.4 898.0,81.1 906.0,88.9 912.0,96.7 924.0,116.1 925.0,135.5 908.7,174.3 890.5,213.1 863.8,252.0 837.0,290.8 805.7,329.6 758.0,407.3 727.8,485.0 706.4,562.6 700.6,640.3 702.1,717.9 706.0,795.6" fill="none" stroke="#ff0000" stroke-width="2.2" stroke-linejoin="round" stroke-linecap="butt"/>
<path d="M631.5 19.0h0M631.5 20.6h0M631.5 22.1h0M631.5 23.7h0M631.5 25.2h0M631.5 26.8h0M631.5 28.3h0M635.0 30.6h0M653.0 34.5h0M699.0 38.4h0M737.0 42.3h0M772.0 46.2h0M805.0 50.1h0M828.0 53.9h0M846.0 57.8h0M868.0 65.6h0M887.0 73.4h0M898.0 81.1h0M906.0 88.9h0M912.0 96.7h0M924.0 116.1h0M925.0 135.5h0M908.7 174.3h0M890.5 213.1h0M863.8 252.0h0M837.0 290.8h0M805.7 329.6h0M758.0 407.3h0M727.8 485.0h0M706.4 562.6h0M700.6 640.3h0M702.1 717.9h0M706.0 795.6h0" fill="none" stroke="#ff0000" stroke-width="11.7" stroke-linecap="round"/>
<polyline points="700.0,19.0 701.0,20.6 702.5,22.1 704.0,23.7 705.5,25.2 707.0,26.8 709.0,28.3 711.0,30.6 718.0,34.5 729.0,38.4 745.0,42.3 762.0,46.2 783.5,50.1 799.6,53.9 816.0,57.8 842.0,65.6 870.0,73.4 885.0,81.1 893.0,88.9 901.4,96.7 921.2,116.1 924.7,135.5 906.0,174.3 882.0,213.1 859.5,252.0 831.0,290.8 792.9,329.6 747.7,407.3 717.7,485.0 709.6,562.6 703.4,640.3 708.1,717.9 713.5,795.6" fill="none" stroke="#008000" stroke-width="3.4" stroke-linejoin="round" stroke-linecap="butt"/>
<path d="M700.0 19.0h0M701.0 20.6h0M702.5 22.1h0M704.0 23.7h0M705.5 25.2h0M707.0 26.8h0M709.0 28.3h0M711.0 30.6h0M718.0 34.5h0M729.0 38.4h0M745.0 42.3h0M762.0 46.2h0M783.5 50.1h0M799.6 53.9h0M816.0 57.8h0M842.0 65.6h0M870.0 73.4h0M885.0 81.1h0M893.0 88.9h0M901.4 96.7h0M921.2 116.1h0M924.7 135.5h0M906.0 174.3h0M882.0 213.1h0M859.5 252.0h0M831.0 290.8h0M792.9 329.6h0M747.7 407.3h0M717.7 485.0h0M709.6 562.6h0M703.4 640.3h0M708.1 717.9h0M713.5 795.6h0" fill="none" stroke="#008000" stroke-width="11.7" stroke-linecap="round"/>
<polyline points="622.0,19.4 622.0,20.2 622.0,21.1 622.0,22.0 622.0,22.9 622.0,24.0 622.0,25.2 622.0,26.4 622.0,27.9 633.9,29.5 672.4,31.3 701.3,33.4 717.5,35.8 734.5,38.6 752.2,41.8 775.4,45.7 801.0,50.3 828.9,55.8 852.7,62.3 874.6,70.1 897.9,79.5 914.1,90.7 926.1,104.2 934.6,120.5 931.1,140.1 918.4,163.5 899.5,191.8 884.5,225.6 855.2,266.0 797.2,314.3 760.1,371.5 737.4,439.2 713.5,518.8 701.0,611.8 702.3,719.7" fill="none" stroke="#ff00ff" stroke-width="2.2" stroke-linejoin="round" stroke-linecap="butt"/>
<path d="M622.0 19.4h0M622.0 20.2h0M622.0 21.1h0M622.0 22.0h0M622.0 22.9h0M622.0 24.0h0M622.0 25.2h0M622.0 26.4h0M622.0 27.9h0M633.9 29.5h0M672.4 31.3h0M701.3 33.4h0M717.5 35.8h0M734.5 38.6h0M752.2 41.8h0M775.4 45.7h0M801.0 50.3h0M828.9 55.8h0M852.7 62.3h0M874.6 70.1h0M897.9 79.5h0M914.1 90.7h0M926.1 104.2h0M934.6 120.5h0M931.1 140.1h0M918.4 163.5h0M899.5 191.8h0M884.5 225.6h0M855.2 266.0h0M797.2 314.3h0M760.1 371.5h0M737.4 439.2h0M713.5 518.8h0M701.0 611.8h0M702.3 719.7h0" fill="none" stroke="#ff00ff" stroke-width="11.7" stroke-linecap="round"/>
</g>
<path d="M594.5 19.4H976.7V803.4H594.5ZM610.5 803.4v6.5M665.5 803.4v6.5M720.5 803.4v6.5M774.5 803.4v6.5M829.5 803.4v6.5M883.5 803.4v6.5M938.5 803.4v6.5M594.5 19.5h-6.5M594.5 96.5h-6.5M594.5 174.5h-6.5M594.5 251.5h-6.5M594.5 329.5h-6.5M594.5 407.5h-6.5M594.5 484.5h-6.5M594.5 562.5h-6.5M594.5 640.5h-6.5M594.5 717.5h-6.5M594.5 795.5h-6.5" stroke="#000" stroke-width="1.33" fill="none"/>
<path d="M1136.5 803.4V19.4M1199.5 803.4V19.4M1261.5 803.4V19.4M1324.5 803.4V19.4M1386.5 803.4V19.4M1449.5 803.4V19.4M1089.6 19.5H1471.9M1089.6 96.5H1471.9M1089.6 174.5H1471.9M1089.6 251.5H1471.9M1089.6 329.5H1471.9M1089.6 407.5H1471.9M1089.6 484.5H1471.9M1089.6 562.5H1471.9M1089.6 640.5H1471.9M1089.6 717.5H1471.9M1089.6 795.5H1471.9" stroke="#bcbcbc" stroke-width="1" stroke-dasharray="3.08 1.33" fill="none"/>
<g clip-path="url(#c2)">
<polyline points="1113.2,19.0 1113.3,21.3 1114.3,23.5 1115.1,25.5 1119.9,29.8 1128.0,32.3 1134.6,33.6 1138.7,36.9 1142.9,39.3 1147.9,40.2 1151.6,43.6 1154.7,46.7 1157.0,49.4 1160.1,51.7 1163.6,54.6 1167.2,57.7 1171.2,59.6 1174.7,62.3 1178.8,63.8 1182.7,65.4 1186.1,67.6 1189.4,69.9 1192.5,72.2 1195.5,74.7 1198.2,77.4 1200.7,80.3 1203.9,82.2 1206.8,84.5 1209.1,87.5 1211.7,89.9 1214.4,92.1 1217.0,94.3 1218.9,97.0 1221.5,98.9 1223.9,101.0 1226.7,102.8 1228.7,105.6 1231.3,108.0 1233.8,110.5 1236.5,112.8 1239.5,114.9 1242.3,117.2 1245.5,119.0 1248.5,121.0 1251.8,122.7 1254.3,125.4 1257.6,127.1 1260.7,129.0 1264.1,130.5 1266.8,132.7 1271.0,133.4 1273.2,136.0 1275.6,138.5 1277.5,141.5 1278.7,144.9 1279.4,148.3 1281.5,150.1 1283.7,151.9 1284.7,154.4 1285.6,156.8 1287.7,158.6 1289.8,160.5 1291.1,162.7 1291.1,165.6 1291.8,168.0 1293.0,170.3 1294.1,172.6 1295.3,174.9 1296.0,177.3 1297.2,179.6 1298.3,181.8 1299.5,184.1 1300.9,186.2 1302.1,188.5 1302.9,190.8 1302.7,193.5 1302.9,196.0 1303.2,198.5 1304.6,200.6 1305.0,203.0 1304.9,205.6 1305.2,208.0 1305.8,210.3 1306.4,212.6 1306.6,215.1 1307.6,217.3 1309.0,219.4 1310.5,221.5 1311.1,223.9 1311.6,226.3 1312.0,228.7 1312.0,231.2 1312.2,233.7 1313.0,236.0 1314.1,238.2 1315.1,240.4 1315.9,242.7 1317.0,244.9 1318.1,247.1 1319.2,249.3 1319.7,251.7 1320.0,254.1 1320.1,256.7 1320.8,259.0 1321.6,261.3 1321.7,263.8 1322.7,266.1 1323.6,268.3 1323.4,270.9 1324.8,273.1 1325.6,275.4 1326.8,277.6 1327.3,280.0 1328.4,282.2 1329.5,284.4 1329.8,286.9 1331.2,289.0 1332.2,291.3 1332.5,293.7 1332.8,296.2 1333.5,298.5 1334.2,300.9 1334.5,303.4 1335.1,305.7 1336.3,307.9 1336.9,310.3 1337.3,312.7 1338.1,315.0 1339.0,317.3 1339.9,319.5 1340.6,321.8 1341.7,324.0 1342.0,326.5 1342.6,328.8 1343.3,331.1 1344.5,333.3 1345.8,335.5 1346.1,337.9 1346.2,340.4 1346.4,342.8 1346.3,345.4 1346.1,347.9 1346.5,350.3 1347.5,352.5 1348.9,354.6 1349.5,357.0 1350.0,359.3 1350.4,361.7 1350.9,364.1 1352.0,366.3 1352.3,368.7 1353.4,370.9 1354.7,373.1 1354.7,375.6 1355.6,377.8 1356.7,380.0 1357.2,382.4 1357.6,384.8 1358.1,387.1 1358.7,389.4 1359.5,391.7 1359.7,394.1 1359.8,396.6 1360.6,398.9 1361.6,401.1 1362.7,403.3 1362.6,405.8 1363.4,408.1 1364.3,410.4 1364.8,412.7 1364.9,415.2 1366.1,417.3 1366.4,419.7 1367.2,422.0 1367.7,424.4 1367.7,426.8 1368.4,429.1 1369.1,431.4 1369.9,433.7 1370.6,436.0 1370.7,438.4 1371.8,440.6 1372.6,442.9 1373.0,445.3 1373.5,447.6 1373.7,450.0 1374.1,452.4 1374.6,454.7 1374.8,457.1 1376.1,459.3 1376.6,461.6 1377.3,463.9 1377.8,466.3 1378.1,468.7 1378.8,470.9 1379.2,473.3 1379.9,475.6 1380.7,477.8 1381.0,480.2 1381.3,482.6 1381.6,485.0 1382.2,487.3 1382.3,489.7 1382.1,492.2 1382.2,494.6 1383.0,496.9 1383.8,499.2 1384.2,501.5 1384.7,503.9 1385.9,506.1 1386.8,508.3 1387.5,510.6 1388.1,512.9 1388.8,515.2 1389.5,517.5 1389.8,519.9 1390.4,522.2 1390.7,524.6 1391.4,526.9 1392.5,529.1 1392.7,531.5 1393.0,533.9 1393.2,536.3 1393.4,538.8 1393.9,541.1 1394.7,543.4 1395.2,545.7 1396.2,548.0 1396.9,550.3 1397.0,552.7 1397.7,555.0 1398.3,557.3 1398.9,559.7 1399.8,561.9 1400.4,564.2 1401.1,566.5 1401.5,568.9 1401.8,571.3 1402.2,573.7 1402.9,576.0 1403.8,578.2 1404.6,580.5 1405.5,582.8 1406.4,585.0 1406.9,587.4 1407.3,589.7 1407.7,592.1 1408.1,594.5 1408.7,596.8 1409.3,599.1 1409.8,601.5 1410.2,603.8 1411.1,606.1 1411.8,608.4 1412.6,610.6 1413.1,613.0 1413.5,615.3 1413.6,617.8 1414.3,620.1 1415.1,622.3 1415.5,624.7 1415.6,627.1 1416.2,629.4 1416.7,631.8 1417.2,634.1 1417.9,636.4 1418.5,638.7 1419.3,641.0 1419.9,643.3 1420.3,645.7 1420.8,648.0 1421.4,650.3 1421.8,652.7 1421.9,655.1 1422.2,657.5 1422.8,659.8 1423.1,662.1 1423.8,664.4 1424.4,666.8 1424.9,669.1 1425.3,671.4 1425.8,673.8 1426.2,676.1 1426.7,678.5 1427.3,680.8 1427.9,683.1 1428.5,685.4 1429.4,687.6 1430.3,689.9 1430.8,692.2 1431.2,694.6 1431.4,696.9 1431.9,699.3 1432.4,701.6 1433.0,703.9 1433.3,706.3 1434.0,708.6 1434.6,710.9 1435.1,713.2 1435.4,715.6 1435.7,717.9 1435.8,720.4" fill="none" stroke="#00ffff" stroke-width="2.5"/>
<path d="M1113.2 19.0h0M1113.5 22.1h0M1114.8 24.7h0M1119.9 29.8h0M1130.5 32.7h0M1137.5 35.6h0M1142.9 39.3h0M1149.1 41.3h0M1153.9 45.5h0M1157.0 49.4h0M1161.3 52.6h0M1166.0 56.8h0M1171.2 59.6h0M1175.9 63.1h0M1181.6 64.6h0M1186.1 67.6h0M1190.4 70.7h0M1194.5 73.9h0M1198.2 77.4h0M1201.7 81.0h0M1205.9 83.6h0M1209.1 87.5h0M1212.6 90.7h0M1216.3 93.4h0M1218.9 97.0h0M1222.2 99.7h0M1225.9 102.1h0M1228.7 105.6h0M1232.2 108.8h0M1235.5 112.2h0M1239.5 114.9h0M1243.5 117.7h0M1247.4 120.5h0M1251.8 122.7h0M1255.4 126.0h0M1259.6 128.4h0M1264.1 130.5h0M1268.0 133.2h0M1272.5 135.0h0M1275.6 138.5h0M1277.9 142.7h0M1279.1 147.3h0M1281.5 150.1h0M1284.1 152.7h0M1285.1 156.1h0M1287.7 158.6h0M1290.4 161.2h0M1291.2 164.5h0M1291.8 168.0h0M1293.3 171.1h0M1294.9 174.1h0M1296.0 177.3h0M1297.7 180.3h0M1299.0 183.4h0M1300.9 186.2h0M1302.5 189.2h0M1302.7 192.6h0M1302.9 196.0h0M1303.6 199.2h0M1305.0 202.2h0M1304.9 205.6h0M1305.4 208.7h0M1306.2 211.9h0M1306.6 215.1h0M1308.1 218.0h0M1310.0 220.8h0M1311.1 223.9h0M1311.8 227.0h0M1311.9 230.4h0M1312.2 233.7h0M1313.3 236.7h0M1314.8 239.6h0M1315.9 242.7h0M1317.4 245.6h0M1318.9 248.6h0M1319.7 251.7h0M1320.1 255.0h0M1320.4 258.3h0M1321.6 261.3h0M1321.9 264.6h0M1323.4 267.5h0M1323.4 270.9h0M1325.2 273.8h0M1326.4 276.8h0M1327.3 280.0h0M1328.9 282.9h0M1329.6 286.1h0M1331.2 289.0h0M1332.3 292.1h0M1332.7 295.4h0M1333.5 298.5h0M1334.2 301.7h0M1334.9 304.9h0M1336.3 307.9h0M1337.0 311.1h0M1337.8 314.2h0M1339.0 317.3h0M1340.1 320.3h0M1341.4 323.3h0M1342.0 326.5h0M1342.9 329.6h0M1344.0 332.6h0M1345.8 335.5h0M1346.2 338.7h0M1346.3 342.0h0M1346.3 345.4h0M1346.2 348.7h0M1347.0 351.8h0M1348.9 354.6h0M1349.7 357.8h0M1350.3 360.9h0M1350.9 364.1h0M1352.1 367.1h0M1353.0 370.2h0M1354.7 373.1h0M1354.8 376.3h0M1356.5 379.2h0M1357.2 382.4h0M1357.7 385.6h0M1358.5 388.7h0M1359.5 391.7h0M1359.6 395.0h0M1360.4 398.1h0M1361.6 401.1h0M1362.7 404.1h0M1363.1 407.4h0M1364.3 410.4h0M1364.7 413.5h0M1365.7 416.6h0M1366.4 419.7h0M1367.5 422.8h0M1367.6 426.0h0M1368.4 429.1h0M1369.3 432.2h0M1370.4 435.2h0M1370.7 438.4h0M1372.2 441.4h0M1372.8 444.5h0M1373.5 447.6h0M1373.8 450.8h0M1374.6 453.9h0M1374.8 457.1h0M1376.3 460.1h0M1377.0 463.2h0M1377.8 466.3h0M1378.3 469.4h0M1379.0 472.5h0M1379.9 475.6h0M1380.9 478.6h0M1381.2 481.8h0M1381.6 485.0h0M1382.3 488.1h0M1382.2 491.4h0M1382.2 494.6h0M1383.3 497.7h0M1384.1 500.7h0M1384.7 503.9h0M1386.3 506.8h0M1387.3 509.8h0M1388.1 512.9h0M1389.1 516.0h0M1389.8 519.1h0M1390.4 522.2h0M1390.8 525.4h0M1392.2 528.4h0M1392.7 531.5h0M1393.1 534.7h0M1393.2 538.0h0M1393.9 541.1h0M1394.9 544.2h0M1395.8 547.2h0M1396.9 550.3h0M1397.2 553.5h0M1398.1 556.6h0M1398.9 559.7h0M1400.0 562.7h0M1400.9 565.8h0M1401.5 568.9h0M1401.9 572.1h0M1402.7 575.2h0M1403.8 578.2h0M1404.8 581.3h0M1406.1 584.3h0M1406.9 587.4h0M1407.4 590.5h0M1407.9 593.7h0M1408.7 596.8h0M1409.4 599.9h0M1410.0 603.0h0M1411.1 606.1h0M1412.1 609.1h0M1413.0 612.2h0M1413.5 615.3h0M1413.8 618.5h0M1414.9 621.6h0M1415.5 624.7h0M1415.7 627.9h0M1416.6 631.0h0M1417.2 634.1h0M1418.0 637.2h0M1419.1 640.2h0M1419.9 643.3h0M1420.4 646.4h0M1421.2 649.5h0M1421.8 652.7h0M1422.0 655.9h0M1422.6 659.0h0M1423.1 662.1h0M1424.0 665.2h0M1424.7 668.3h0M1425.3 671.4h0M1425.9 674.6h0M1426.5 677.7h0M1427.3 680.8h0M1428.1 683.8h0M1429.1 686.9h0M1430.3 689.9h0M1430.9 693.0h0M1431.3 696.2h0M1431.9 699.3h0M1432.6 702.4h0M1433.2 705.5h0M1434.0 708.6h0M1434.8 711.7h0M1435.3 714.8h0M1435.7 717.9h0" fill="none" stroke="#00ffff" stroke-width="11.4" stroke-linecap="round"/>
<polyline points="1111.6,19.0 1110.8,21.6 1111.5,24.2 1114.4,26.5 1120.0,29.3 1128.2,31.7 1134.3,34.2 1139.2,36.0 1143.9,37.7 1147.8,40.3 1152.8,41.6 1157.1,43.2 1161.0,44.6 1162.5,48.5 1165.3,51.9 1169.4,54.0 1173.3,56.2 1177.0,58.7 1181.4,59.8 1185.7,61.0 1189.1,63.3 1192.4,65.7 1195.0,68.9 1197.1,72.6 1199.9,75.2 1202.8,77.7 1206.8,78.5 1210.5,79.9 1214.0,81.5 1217.1,83.6 1218.2,87.8 1220.8,90.2 1223.5,92.3 1225.7,94.8 1228.7,96.4 1230.6,99.1 1232.9,101.3 1235.2,103.7 1238.1,105.6 1240.6,108.1 1243.9,109.8 1246.1,112.7 1248.9,115.0 1251.8,117.2 1254.3,119.7 1257.3,121.8 1259.6,124.7 1262.0,127.4 1265.1,129.4 1267.4,132.2 1269.9,134.6 1272.5,136.7 1274.2,140.0 1276.6,142.4 1279.4,144.3 1282.1,146.2 1283.7,148.7 1284.2,151.6 1285.7,153.9 1286.7,156.3 1287.0,159.0 1287.2,161.7 1288.9,163.7 1291.2,165.5 1292.0,167.9 1293.4,170.1 1294.0,172.7 1294.8,175.1 1296.5,177.1 1297.5,179.4 1297.3,182.2 1298.7,184.4 1299.8,186.6 1299.4,189.4 1300.6,191.6 1301.2,194.0 1301.6,196.4 1302.7,198.6 1303.6,200.9 1304.2,203.2 1304.2,205.7 1304.8,208.1 1305.7,210.3 1306.3,212.7 1307.1,214.9 1307.9,217.2 1309.1,219.4 1310.0,221.7 1310.6,224.0 1311.4,226.3 1311.4,228.8 1312.5,231.0 1314.1,233.1 1314.4,235.5 1315.1,237.9 1315.7,240.2 1316.6,242.5 1317.4,244.8 1317.9,247.2 1318.4,249.6 1318.9,251.9 1319.7,254.2 1320.3,256.6 1321.3,258.8 1322.5,261.0 1322.6,263.5 1323.2,265.9 1323.7,268.3 1323.8,270.8 1324.1,273.3 1324.7,275.7 1325.5,278.0 1326.0,280.4 1326.8,282.7 1327.6,285.0 1328.9,287.2 1329.9,289.4 1331.0,291.7 1331.3,294.1 1332.1,296.4 1332.9,298.7 1334.1,300.9 1335.0,303.2 1335.8,305.5 1336.9,307.7 1337.6,310.0 1338.6,312.3 1339.0,314.7 1340.1,316.9 1340.4,319.4 1340.8,321.8 1341.7,324.0 1342.7,326.3 1343.5,328.6 1344.3,330.8 1344.7,333.3 1344.8,335.8 1345.2,338.1 1346.0,340.4 1347.0,342.6 1347.7,345.0 1348.3,347.3 1348.7,349.7 1348.9,352.1 1349.6,354.5 1350.4,356.7 1350.9,359.1 1351.5,361.4 1351.5,363.9 1352.2,366.2 1352.7,368.6 1353.4,370.9 1354.3,373.2 1355.1,375.4 1355.8,377.7 1356.1,380.2 1356.5,382.6 1356.3,385.1 1357.2,387.3 1358.8,389.4 1359.6,391.7 1359.9,394.1 1360.3,396.5 1361.1,398.8 1361.3,401.2 1361.6,403.6 1362.6,405.8 1363.3,408.1 1363.9,410.4 1364.3,412.8 1364.7,415.2 1365.1,417.6 1366.2,419.8 1367.0,422.1 1367.3,424.4 1367.7,426.8 1368.4,429.1 1369.0,431.5 1369.6,433.8 1370.6,436.0 1371.3,438.3 1372.1,440.6 1372.7,442.9 1373.1,445.3 1373.4,447.7 1374.0,450.0 1374.1,452.4 1374.8,454.7 1375.4,457.0 1375.9,459.4 1376.1,461.7 1376.5,464.1 1377.3,466.4 1378.8,468.5 1379.2,470.8 1380.1,473.1 1380.7,475.4 1381.0,477.8 1381.6,480.1 1382.0,482.5 1382.1,484.9 1382.6,487.2 1382.6,489.7 1383.0,492.0 1383.3,494.4 1384.0,496.7 1384.7,499.0 1385.1,501.3 1385.6,503.7 1386.0,506.0 1386.7,508.3 1387.4,510.6 1387.8,513.0 1388.2,515.3 1388.6,517.7 1389.2,520.0 1390.4,522.2 1390.9,524.6 1391.4,526.9 1392.2,529.2 1392.6,531.5 1392.8,534.0 1393.2,536.3 1393.7,538.7 1394.5,541.0 1395.1,543.3 1395.5,545.7 1396.4,547.9 1397.1,550.2 1397.3,552.6 1397.9,555.0 1399.0,557.2 1399.4,559.5 1399.7,561.9 1400.2,564.3 1401.1,566.5 1401.9,568.8 1402.9,571.0 1403.9,573.3 1404.6,575.6 1405.1,577.9 1405.5,580.3 1405.8,582.7 1405.9,585.1 1406.3,587.5 1406.9,589.8 1407.0,592.3 1407.5,594.6 1408.5,596.8 1409.5,599.1 1409.6,601.5 1409.9,603.9 1410.5,606.2 1411.1,608.5 1411.9,610.8 1412.6,613.1 1412.6,615.5 1412.8,617.9 1413.6,620.2 1414.2,622.5 1414.8,624.9 1415.4,627.2 1415.9,629.5 1416.7,631.8 1417.4,634.1 1418.0,636.4 1418.7,638.7 1419.1,641.0 1419.8,643.3 1420.1,645.7 1420.5,648.1 1421.0,650.4 1421.4,652.8 1422.0,655.1 1422.5,657.4 1423.2,659.7 1423.7,662.0 1424.5,664.3 1425.7,666.5 1426.4,668.8 1426.7,671.1 1426.9,673.5 1427.0,675.9 1427.3,678.3 1428.0,680.6 1428.2,683.0 1428.8,685.3 1429.5,687.6 1429.7,690.0 1430.4,692.3 1430.6,694.7 1431.1,697.0 1431.7,699.3 1432.3,701.6 1432.7,704.0 1432.9,706.4 1433.4,708.7 1434.0,711.0 1434.6,713.3 1435.1,715.6 1435.6,718.0 1436.1,720.3" fill="none" stroke="#00ffff" stroke-width="2.5"/>
<path d="M1111.3 19.8h0M1111.1 23.3h0M1114.4 26.5h0M1122.8 30.5h0M1132.6 33.2h0M1139.2 36.0h0M1145.2 38.5h0M1151.1 41.2h0M1157.1 43.2h0M1161.6 45.8h0M1164.2 50.8h0M1169.4 54.0h0M1174.5 57.1h0M1179.9 59.4h0M1185.7 61.0h0M1190.1 64.3h0M1194.3 67.7h0M1197.1 72.6h0M1200.9 76.0h0M1205.3 78.4h0M1210.5 79.9h0M1215.2 81.9h0M1217.9 86.3h0M1220.8 90.2h0M1224.2 93.2h0M1227.7 95.8h0M1230.6 99.1h0M1233.7 102.1h0M1237.2 105.0h0M1240.6 108.1h0M1244.8 110.6h0M1247.9 114.4h0M1251.8 117.2h0M1255.3 120.4h0M1258.9 123.6h0M1262.0 127.4h0M1265.9 130.3h0M1268.9 133.9h0M1272.5 136.7h0M1274.9 140.9h0M1278.4 143.7h0M1282.1 146.2h0M1283.7 149.8h0M1285.2 153.1h0M1286.7 156.3h0M1287.0 159.9h0M1288.2 163.1h0M1291.2 165.5h0M1292.4 168.7h0M1293.8 171.8h0M1294.8 175.1h0M1297.1 177.8h0M1297.3 181.3h0M1298.7 184.4h0M1299.5 187.6h0M1300.1 190.9h0M1301.2 194.0h0M1302.0 197.1h0M1303.3 200.1h0M1304.2 203.2h0M1304.3 206.6h0M1305.5 209.6h0M1306.3 212.7h0M1307.3 215.7h0M1308.8 218.7h0M1310.0 221.7h0M1311.0 224.7h0M1311.4 228.0h0M1312.5 231.0h0M1314.3 233.9h0M1314.8 237.1h0M1315.7 240.2h0M1316.9 243.2h0M1317.7 246.4h0M1318.4 249.6h0M1319.2 252.7h0M1320.1 255.8h0M1321.3 258.8h0M1322.6 261.8h0M1322.9 265.1h0M1323.7 268.3h0M1323.8 271.7h0M1324.5 274.9h0M1325.5 278.0h0M1326.2 281.2h0M1327.3 284.3h0M1328.9 287.2h0M1330.4 290.1h0M1331.2 293.3h0M1332.1 296.4h0M1333.4 299.4h0M1334.6 302.5h0M1335.8 305.5h0M1337.1 308.5h0M1338.3 311.5h0M1339.0 314.7h0M1340.3 317.7h0M1340.7 321.0h0M1341.7 324.0h0M1342.9 327.1h0M1344.2 330.1h0M1344.7 333.3h0M1344.8 336.6h0M1345.7 339.7h0M1347.0 342.6h0M1347.9 345.7h0M1348.6 348.9h0M1348.9 352.1h0M1349.9 355.2h0M1350.7 358.3h0M1351.5 361.4h0M1351.7 364.7h0M1352.5 367.8h0M1353.4 370.9h0M1354.5 373.9h0M1355.7 376.9h0M1356.1 380.2h0M1356.4 383.4h0M1356.7 386.6h0M1358.8 389.4h0M1359.7 392.5h0M1360.2 395.7h0M1361.1 398.8h0M1361.3 402.0h0M1362.3 405.1h0M1363.3 408.1h0M1364.1 411.2h0M1364.5 414.4h0M1365.1 417.6h0M1366.6 420.5h0M1367.2 423.7h0M1367.7 426.8h0M1368.7 429.9h0M1369.3 433.0h0M1370.6 436.0h0M1371.5 439.1h0M1372.7 442.1h0M1373.1 445.3h0M1373.5 448.4h0M1374.1 451.6h0M1374.8 454.7h0M1375.6 457.8h0M1376.0 460.9h0M1376.5 464.1h0M1377.9 467.1h0M1379.1 470.1h0M1380.1 473.1h0M1380.8 476.2h0M1381.4 479.3h0M1382.0 482.5h0M1382.3 485.7h0M1382.6 488.9h0M1383.0 492.0h0M1383.5 495.2h0M1384.4 498.2h0M1385.1 501.3h0M1385.8 504.5h0M1386.5 507.6h0M1387.4 510.6h0M1388.0 513.8h0M1388.5 516.9h0M1389.2 520.0h0M1390.7 523.0h0M1391.2 526.1h0M1392.2 529.2h0M1392.7 532.3h0M1393.0 535.6h0M1393.7 538.7h0M1394.8 541.7h0M1395.3 544.9h0M1396.4 547.9h0M1397.2 551.0h0M1397.6 554.2h0M1399.0 557.2h0M1399.5 560.3h0M1399.9 563.5h0M1401.1 566.5h0M1402.2 569.6h0M1403.6 572.5h0M1404.6 575.6h0M1405.2 578.7h0M1405.7 581.9h0M1405.9 585.1h0M1406.5 588.3h0M1406.9 591.5h0M1407.5 594.6h0M1408.9 597.6h0M1409.6 600.7h0M1409.9 603.9h0M1410.8 607.0h0M1411.6 610.1h0M1412.6 613.1h0M1412.6 616.4h0M1413.3 619.5h0M1414.2 622.5h0M1415.0 625.6h0M1415.7 628.7h0M1416.7 631.8h0M1417.6 634.8h0M1418.5 637.9h0M1419.1 641.0h0M1419.9 644.1h0M1420.3 647.3h0M1421.0 650.4h0M1421.6 653.5h0M1422.4 656.6h0M1423.2 659.7h0M1423.9 662.8h0M1425.3 665.7h0M1426.4 668.8h0M1426.7 671.9h0M1427.0 675.1h0M1427.3 678.3h0M1428.1 681.4h0M1428.6 684.6h0M1429.5 687.6h0M1430.0 690.8h0M1430.5 693.9h0M1431.1 697.0h0M1432.0 700.1h0M1432.6 703.2h0M1432.9 706.4h0M1433.6 709.5h0M1434.4 712.5h0M1435.1 715.6h0M1435.7 718.7h0" fill="none" stroke="#00ffff" stroke-width="11.4" stroke-linecap="round"/>
<polyline points="1112.3,19.0 1112.0,21.5 1112.0,24.0 1114.1,26.9 1120.1,29.2 1128.4,31.1 1134.2,34.4 1138.4,37.5 1142.6,40.0 1146.9,41.9 1151.1,44.5 1154.4,47.0 1156.6,49.9 1159.3,52.8 1162.5,56.5 1166.7,58.6 1170.8,60.2 1175.2,61.4 1179.9,62.0 1183.5,64.2 1186.5,67.0 1190.4,68.5 1193.4,71.1 1195.4,74.8 1198.9,76.5 1203.0,77.4 1205.7,79.9 1209.2,81.5 1213.1,82.6 1216.2,84.6 1219.6,86.2 1222.2,88.7 1224.1,91.7 1225.7,94.8 1226.3,98.7 1228.1,101.5 1229.2,105.1 1231.5,107.7 1235.2,108.9 1237.7,111.5 1239.6,114.8 1243.5,115.8 1247.3,116.9 1250.6,118.6 1253.2,121.0 1255.6,123.8 1257.4,127.3 1259.9,129.9 1262.1,132.8 1264.6,135.2 1268.1,136.5 1270.5,139.0 1273.3,141.0 1276.1,143.0 1279.0,144.7 1280.4,147.5 1281.3,150.2 1282.6,152.6 1282.2,155.7 1284.0,157.6 1284.6,160.1 1286.2,162.1 1288.3,164.0 1290.7,165.7 1291.9,168.0 1293.5,170.1 1293.8,172.7 1294.2,175.3 1295.7,177.5 1296.7,179.8 1297.9,182.0 1298.9,184.3 1300.2,186.5 1301.6,188.6 1301.9,191.1 1302.5,193.6 1302.5,196.1 1303.3,198.4 1303.4,200.9 1303.7,203.4 1304.3,205.7 1304.2,208.2 1304.8,210.6 1306.2,212.7 1307.1,214.9 1308.1,217.2 1309.8,219.2 1310.3,221.6 1310.3,224.1 1311.0,226.4 1311.9,228.7 1312.4,231.1 1312.7,233.5 1313.6,235.8 1314.3,238.1 1315.1,240.4 1316.6,242.5 1317.6,244.7 1318.1,247.1 1319.2,249.3 1319.4,251.8 1319.6,254.3 1319.6,256.8 1320.7,259.0 1321.9,261.2 1322.6,263.5 1323.4,265.8 1324.0,268.2 1325.0,270.4 1325.7,272.8 1326.3,275.1 1327.3,277.4 1328.1,279.7 1329.2,281.9 1329.7,284.3 1330.6,286.6 1331.6,288.9 1331.5,291.5 1331.9,293.9 1332.4,296.3 1333.2,298.6 1334.6,300.8 1335.1,303.2 1335.9,305.5 1336.4,307.9 1336.6,310.4 1337.2,312.7 1337.9,315.0 1338.6,317.4 1339.5,319.6 1339.8,322.1 1340.7,324.3 1341.7,326.5 1342.5,328.8 1343.7,331.0 1343.6,333.6 1344.1,335.9 1345.2,338.1 1345.5,340.6 1346.3,342.8 1347.2,345.1 1347.6,347.5 1348.8,349.7 1349.4,352.0 1349.7,354.4 1350.5,356.7 1351.3,359.0 1351.7,361.4 1352.1,363.8 1352.5,366.1 1352.9,368.5 1353.7,370.8 1354.0,373.2 1354.5,375.6 1355.4,377.9 1356.5,380.1 1357.2,382.4 1357.6,384.7 1358.1,387.1 1358.6,389.5 1359.1,391.8 1359.4,394.2 1360.1,396.5 1361.0,398.8 1361.5,401.1 1362.3,403.4 1362.8,405.8 1363.5,408.1 1364.5,410.3 1365.3,412.6 1366.3,414.8 1366.6,417.2 1367.1,419.6 1367.2,422.0 1367.3,424.5 1367.9,426.8 1368.6,429.1 1369.8,431.3 1370.9,433.5 1371.3,435.8 1371.7,438.2 1372.0,440.6 1372.3,443.0 1372.8,445.3 1373.0,447.7 1373.1,450.2 1374.2,452.4 1374.9,454.7 1375.3,457.0 1375.3,459.5 1376.0,461.8 1376.4,464.1 1377.1,466.4 1377.8,468.7 1378.2,471.1 1379.4,473.2 1380.5,475.4 1380.8,477.8 1381.4,480.1 1381.7,482.5 1382.1,484.9 1382.2,487.3 1383.1,489.6 1383.3,492.0 1383.8,494.3 1384.4,496.6 1384.9,498.9 1385.6,501.2 1386.1,503.6 1386.6,505.9 1387.3,508.2 1387.5,510.6 1387.9,513.0 1388.4,515.3 1389.2,517.6 1389.6,520.0 1389.9,522.3 1390.8,524.6 1391.2,526.9 1391.3,529.4 1392.0,531.7 1393.0,533.9 1394.0,536.1 1394.8,538.4 1395.5,540.7 1395.6,543.2 1396.0,545.5 1396.5,547.9 1397.1,550.2 1398.1,552.4 1398.3,554.9 1398.7,557.2 1399.1,559.6 1399.3,562.0 1399.7,564.4 1400.3,566.7 1400.9,569.1 1401.4,571.4 1402.3,573.7 1403.2,575.9 1404.0,578.2 1404.6,580.5 1405.1,582.9 1405.6,585.2 1406.1,587.5 1406.9,589.8 1407.4,592.2 1407.9,594.5 1408.4,596.9 1409.2,599.1 1409.8,601.4 1410.4,603.8 1411.0,606.1 1411.6,608.4 1412.5,610.7 1412.7,613.1 1412.8,615.5 1413.3,617.8 1413.7,620.2 1414.2,622.5 1415.0,624.8 1415.6,627.1 1416.4,629.4 1416.9,631.7 1417.4,634.1 1418.0,636.4 1418.5,638.7 1419.0,641.0 1419.7,643.3 1420.3,645.7 1421.0,647.9 1421.2,650.3 1421.6,652.7 1421.9,655.1 1422.4,657.4 1422.8,659.8 1423.4,662.1 1423.8,664.4 1424.4,666.7 1425.0,669.1 1425.6,671.4 1426.5,673.6 1427.2,675.9 1427.2,678.3 1427.5,680.7 1428.5,682.9 1429.1,685.3 1429.3,687.6 1429.8,690.0 1430.5,692.3 1431.0,694.6 1431.6,696.9 1431.6,699.3 1431.9,701.7 1432.4,704.0 1432.6,706.4 1433.1,708.8 1433.6,711.1 1434.6,713.3 1435.3,715.6 1435.5,718.0 1436.0,720.3" fill="none" stroke="#00ffff" stroke-width="2.5"/>
<path d="M1112.0 20.6h0M1112.0 24.0h0M1115.9 27.5h0M1125.8 30.6h0M1134.2 34.4h0M1139.8 38.4h0M1145.5 41.2h0M1151.1 44.5h0M1155.2 47.9h0M1158.5 51.6h0M1162.5 56.5h0M1167.9 59.4h0M1173.8 61.0h0M1179.9 62.0h0M1184.5 65.2h0M1189.0 68.2h0M1193.4 71.1h0M1196.3 75.7h0M1201.8 76.9h0M1205.7 79.9h0M1210.5 81.9h0M1215.2 83.9h0M1219.6 86.2h0M1222.8 89.7h0M1225.4 93.5h0M1226.3 98.7h0M1228.6 102.5h0M1230.6 107.0h0M1235.2 108.9h0M1237.9 113.1h0M1242.2 115.5h0M1247.3 116.9h0M1251.6 119.3h0M1254.7 123.0h0M1257.4 127.3h0M1260.9 130.6h0M1263.6 134.7h0M1268.1 136.5h0M1271.3 139.7h0M1275.1 142.4h0M1279.0 144.7h0M1280.6 148.5h0M1282.4 151.7h0M1282.2 155.7h0M1284.3 158.3h0M1285.4 161.6h0M1288.3 164.0h0M1291.3 166.4h0M1292.8 169.5h0M1293.8 172.7h0M1294.7 176.0h0M1296.4 179.0h0M1297.9 182.0h0M1299.4 185.0h0M1301.0 188.0h0M1301.9 191.1h0M1302.5 194.4h0M1303.2 197.6h0M1303.4 200.9h0M1303.9 204.2h0M1304.3 207.4h0M1304.8 210.6h0M1306.5 213.4h0M1307.6 216.5h0M1309.8 219.2h0M1310.3 222.4h0M1310.6 225.7h0M1311.9 228.7h0M1312.5 231.9h0M1313.3 235.0h0M1314.3 238.1h0M1315.5 241.1h0M1317.4 243.9h0M1318.1 247.1h0M1319.2 250.2h0M1319.7 253.4h0M1319.6 256.8h0M1321.1 259.8h0M1322.4 262.7h0M1323.4 265.8h0M1324.3 269.0h0M1325.6 272.0h0M1326.3 275.1h0M1327.6 278.2h0M1328.9 281.2h0M1329.7 284.3h0M1331.0 287.4h0M1331.6 290.6h0M1331.9 293.9h0M1332.6 297.1h0M1334.3 300.0h0M1335.1 303.2h0M1336.1 306.3h0M1336.5 309.5h0M1337.2 312.7h0M1338.1 315.8h0M1339.2 318.9h0M1339.8 322.1h0M1341.1 325.0h0M1342.2 328.1h0M1343.7 331.0h0M1343.6 334.4h0M1344.9 337.4h0M1345.5 340.6h0M1346.7 343.6h0M1347.4 346.7h0M1348.8 349.7h0M1349.5 352.8h0M1350.2 356.0h0M1351.3 359.0h0M1351.8 362.2h0M1352.5 365.3h0M1352.9 368.5h0M1353.9 371.6h0M1354.2 374.9h0M1355.4 377.9h0M1356.8 380.8h0M1357.5 383.9h0M1358.1 387.1h0M1358.8 390.2h0M1359.3 393.4h0M1360.1 396.5h0M1361.2 399.6h0M1362.1 402.6h0M1362.8 405.8h0M1363.8 408.8h0M1365.0 411.8h0M1366.3 414.8h0M1366.7 418.0h0M1367.3 421.2h0M1367.3 424.5h0M1368.1 427.5h0M1369.3 430.6h0M1370.9 433.5h0M1371.5 436.6h0M1371.9 439.8h0M1372.3 443.0h0M1373.0 446.1h0M1373.0 449.4h0M1374.2 452.4h0M1375.0 455.5h0M1375.3 458.7h0M1376.0 461.8h0M1376.6 464.9h0M1377.6 467.9h0M1378.2 471.1h0M1379.9 474.0h0M1380.7 477.0h0M1381.4 480.1h0M1381.8 483.3h0M1382.1 486.5h0M1383.1 489.6h0M1383.5 492.7h0M1384.1 495.8h0M1384.9 498.9h0M1385.7 502.0h0M1386.4 505.1h0M1387.3 508.2h0M1387.6 511.4h0M1388.2 514.6h0M1389.2 517.6h0M1389.6 520.8h0M1390.5 523.8h0M1391.2 526.9h0M1391.4 530.2h0M1392.6 533.2h0M1394.0 536.1h0M1395.1 539.2h0M1395.5 542.4h0M1396.0 545.5h0M1396.7 548.7h0M1397.7 551.7h0M1398.3 554.9h0M1399.0 558.0h0M1399.2 561.2h0M1399.7 564.4h0M1400.6 567.5h0M1401.1 570.7h0M1402.3 573.7h0M1403.5 576.7h0M1404.4 579.7h0M1405.1 582.9h0M1405.8 586.0h0M1406.5 589.1h0M1407.4 592.2h0M1408.1 595.3h0M1408.9 598.4h0M1409.8 601.4h0M1410.6 604.6h0M1411.4 607.6h0M1412.5 610.7h0M1412.6 613.9h0M1413.1 617.1h0M1413.7 620.2h0M1414.5 623.3h0M1415.4 626.3h0M1416.4 629.4h0M1417.1 632.5h0M1417.9 635.6h0M1418.5 638.7h0M1419.3 641.8h0M1420.0 644.9h0M1421.0 647.9h0M1421.4 651.1h0M1421.7 654.3h0M1422.4 657.4h0M1423.1 660.5h0M1423.7 663.7h0M1424.4 666.7h0M1425.2 669.8h0M1426.2 672.9h0M1427.2 675.9h0M1427.2 679.2h0M1428.2 682.2h0M1429.1 685.3h0M1429.3 688.4h0M1430.4 691.5h0M1431.0 694.6h0M1431.6 697.7h0M1431.8 700.9h0M1432.4 704.0h0M1432.8 707.2h0M1433.4 710.3h0M1434.6 713.3h0M1435.4 716.4h0M1435.8 719.5h0" fill="none" stroke="#00ffff" stroke-width="11.4" stroke-linecap="round"/>
<polyline points="1108.7,19.1 1110.5,21.6 1113.0,23.8 1114.5,26.4 1119.9,29.8 1128.6,30.2 1135.1,32.4 1139.9,34.5 1144.1,37.2 1147.8,40.4 1152.1,42.9 1155.1,46.0 1157.5,48.8 1160.0,51.9 1162.6,56.2 1167.1,57.8 1170.8,60.3 1174.7,62.3 1179.0,63.5 1183.9,63.6 1188.0,65.0 1190.7,68.1 1193.3,71.3 1196.5,73.3 1199.9,75.2 1202.9,77.5 1205.6,80.1 1209.5,81.2 1212.2,83.7 1214.8,86.3 1218.9,87.0 1221.2,89.8 1223.3,92.5 1225.3,95.1 1226.3,98.7 1227.6,101.9 1228.8,105.5 1231.5,107.8 1234.2,110.1 1237.2,112.1 1240.8,113.5 1243.5,115.8 1247.9,116.3 1251.4,117.7 1254.3,119.8 1256.2,123.1 1259.2,125.2 1261.2,128.4 1263.6,131.1 1267.2,132.3 1269.4,135.0 1271.1,138.3 1272.9,141.5 1275.7,143.3 1279.0,144.6 1281.5,146.6 1283.1,149.1 1283.9,151.8 1284.8,154.3 1286.5,156.4 1288.2,158.4 1288.3,161.2 1290.4,163.1 1291.8,165.2 1294.1,167.0 1295.6,169.1 1295.7,171.9 1295.5,174.8 1295.7,177.5 1296.4,179.9 1297.0,182.4 1298.3,184.6 1299.4,186.8 1300.3,189.1 1300.8,191.5 1301.2,194.0 1301.3,196.5 1301.9,198.9 1303.0,201.1 1303.8,203.3 1304.6,205.6 1306.3,207.6 1307.2,209.9 1307.6,212.3 1308.6,214.5 1309.0,216.9 1310.3,219.1 1310.6,221.5 1310.6,224.0 1311.1,226.4 1311.9,228.7 1312.3,231.1 1312.3,233.6 1312.9,236.0 1314.1,238.2 1314.8,240.5 1315.9,242.7 1316.3,245.1 1317.2,247.4 1318.2,249.6 1318.6,252.0 1319.2,254.4 1319.3,256.9 1319.5,259.4 1320.1,261.8 1320.7,264.1 1322.1,266.2 1323.1,268.5 1324.3,270.7 1325.1,273.0 1326.0,275.2 1326.9,277.5 1327.8,279.8 1328.4,282.2 1328.9,284.6 1329.7,286.9 1330.8,289.1 1331.4,291.5 1332.6,293.7 1334.0,295.8 1334.0,298.4 1335.1,300.6 1335.8,303.0 1335.4,305.6 1335.8,308.1 1336.4,310.4 1337.4,312.7 1338.4,314.9 1339.5,317.1 1340.2,319.4 1340.4,321.9 1340.9,324.3 1341.3,326.7 1342.0,329.0 1342.6,331.3 1343.3,333.6 1344.0,336.0 1345.0,338.2 1346.1,340.4 1346.1,342.9 1346.4,345.3 1346.7,347.7 1347.6,350.0 1347.9,352.4 1349.0,354.6 1349.8,356.9 1350.4,359.2 1351.6,361.4 1351.8,363.8 1352.5,366.2 1353.5,368.4 1354.1,370.7 1354.8,373.0 1355.3,375.4 1355.2,377.9 1355.8,380.2 1355.8,382.7 1356.9,384.9 1357.4,387.3 1357.8,389.7 1359.0,391.8 1360.0,394.1 1360.7,396.4 1361.5,398.7 1362.1,401.0 1362.2,403.4 1362.4,405.9 1363.1,408.2 1364.2,410.4 1364.8,412.7 1365.4,415.0 1366.0,417.4 1366.2,419.8 1367.0,422.1 1366.9,424.6 1367.9,426.8 1368.9,429.0 1369.7,431.3 1370.1,433.6 1370.5,436.0 1371.0,438.4 1370.9,440.9 1371.2,443.2 1371.7,445.6 1373.0,447.7 1373.6,450.1 1374.2,452.4 1374.8,454.7 1375.9,456.9 1376.9,459.1 1376.8,461.6 1377.4,463.9 1377.8,466.3 1378.4,468.6 1378.6,471.0 1378.6,473.4 1379.3,475.7 1379.7,478.1 1380.1,480.4 1381.2,482.6 1382.0,484.9 1382.6,487.2 1383.1,489.6 1383.9,491.8 1384.4,494.2 1384.9,496.5 1385.3,498.9 1385.9,501.2 1386.2,503.6 1386.2,506.0 1386.8,508.3 1387.6,510.6 1388.4,512.8 1388.8,515.2 1389.1,517.6 1389.7,519.9 1390.1,522.3 1390.5,524.7 1391.0,527.0 1391.5,529.3 1391.7,531.8 1392.4,534.1 1393.4,536.3 1394.4,538.5 1395.2,540.8 1395.4,543.2 1396.1,545.5 1396.7,547.8 1396.6,550.3 1396.6,552.8 1397.6,555.0 1398.3,557.3 1399.3,559.6 1399.9,561.9 1400.5,564.2 1401.3,566.5 1402.0,568.8 1402.8,571.1 1403.1,573.5 1403.7,575.8 1404.6,578.0 1405.3,580.3 1406.0,582.6 1406.7,584.9 1407.3,587.3 1407.7,589.6 1407.8,592.1 1408.5,594.4 1409.0,596.7 1409.2,599.1 1409.4,601.6 1409.6,604.0 1410.3,606.3 1411.0,608.5 1411.6,610.9 1412.5,613.1 1412.9,615.5 1413.7,617.8 1414.5,620.0 1415.1,622.3 1415.5,624.7 1416.3,627.0 1417.0,629.3 1417.7,631.5 1418.1,633.9 1418.5,636.3 1418.6,638.7 1419.4,641.0 1419.8,643.3 1420.4,645.6 1421.1,647.9 1421.0,650.4 1421.3,652.8 1421.5,655.2 1422.0,657.5 1422.4,659.9 1423.1,662.1 1424.0,664.4 1424.8,666.7 1425.6,668.9 1426.2,671.2 1426.3,673.7 1426.3,676.1 1427.0,678.4 1427.8,680.7 1428.1,683.0 1428.8,685.3 1429.4,687.6 1429.9,689.9 1430.6,692.2 1431.0,694.6 1431.4,697.0 1432.0,699.2 1432.2,701.6 1432.3,704.1 1432.9,706.4 1433.6,708.7 1434.1,711.0 1434.4,713.4 1435.0,715.7 1435.7,717.9 1435.9,720.3" fill="none" stroke="#00ffff" stroke-width="2.5"/>
<path d="M1109.9 20.8h0M1113.0 23.8h0M1115.7 27.9h0M1126.0 29.8h0M1135.1 32.4h0M1141.4 35.4h0M1146.5 39.4h0M1152.1 42.9h0M1155.9 47.0h0M1159.2 50.7h0M1162.6 56.2h0M1168.6 58.3h0M1173.2 61.9h0M1179.0 63.5h0M1185.3 64.0h0M1190.0 66.8h0M1193.3 71.3h0M1197.6 74.0h0M1202.1 76.5h0M1205.6 80.1h0M1210.7 81.7h0M1213.6 85.8h0M1218.9 87.0h0M1221.8 90.8h0M1224.8 94.2h0M1226.3 98.7h0M1228.0 103.1h0M1230.4 107.2h0M1234.2 110.1h0M1238.5 112.4h0M1242.4 115.3h0M1247.9 116.3h0M1252.4 118.3h0M1255.6 121.9h0M1259.2 125.2h0M1261.6 129.7h0M1266.1 131.8h0M1269.4 135.0h0M1271.7 139.3h0M1274.7 142.8h0M1279.0 144.6h0M1282.2 147.3h0M1283.6 150.9h0M1284.8 154.3h0M1287.2 157.0h0M1288.1 160.3h0M1290.4 163.1h0M1292.4 165.9h0M1295.5 168.3h0M1295.7 171.9h0M1295.2 175.8h0M1296.4 179.0h0M1297.0 182.4h0M1298.6 185.3h0M1300.0 188.3h0M1300.8 191.5h0M1301.3 194.8h0M1301.7 198.1h0M1303.0 201.1h0M1304.0 204.1h0M1305.8 207.0h0M1307.2 209.9h0M1308.0 213.0h0M1308.8 216.2h0M1310.3 219.1h0M1310.5 222.4h0M1310.9 225.6h0M1311.9 228.7h0M1312.4 231.9h0M1312.5 235.3h0M1314.1 238.2h0M1315.1 241.2h0M1316.3 244.3h0M1317.2 247.4h0M1318.2 250.5h0M1319.1 253.6h0M1319.3 256.9h0M1319.7 260.2h0M1320.5 263.3h0M1322.1 266.2h0M1323.5 269.2h0M1324.9 272.2h0M1326.0 275.2h0M1327.2 278.3h0M1328.2 281.4h0M1328.9 284.6h0M1330.1 287.6h0M1331.1 290.7h0M1332.6 293.7h0M1334.0 296.7h0M1334.7 299.9h0M1335.8 303.0h0M1335.4 306.5h0M1336.3 309.6h0M1337.4 312.7h0M1338.8 315.6h0M1340.0 318.7h0M1340.4 321.9h0M1341.1 325.0h0M1341.8 328.2h0M1342.6 331.3h0M1343.5 334.4h0M1344.7 337.5h0M1346.1 340.4h0M1346.0 343.8h0M1346.6 346.9h0M1347.6 350.0h0M1348.2 353.2h0M1349.7 356.1h0M1350.4 359.2h0M1351.7 362.2h0M1352.2 365.4h0M1353.5 368.4h0M1354.2 371.5h0M1355.3 374.6h0M1355.2 377.9h0M1355.8 381.1h0M1356.5 384.2h0M1357.4 387.3h0M1358.2 390.4h0M1359.7 393.3h0M1360.7 396.4h0M1361.8 399.4h0M1362.2 402.6h0M1362.4 405.9h0M1363.6 408.9h0M1364.6 411.9h0M1365.4 415.0h0M1366.0 418.2h0M1366.9 421.3h0M1366.9 424.6h0M1368.2 427.5h0M1369.5 430.5h0M1370.1 433.6h0M1370.7 436.8h0M1370.9 440.0h0M1371.2 443.2h0M1372.2 446.3h0M1373.4 449.3h0M1374.2 452.4h0M1375.1 455.4h0M1376.7 458.3h0M1376.8 461.6h0M1377.5 464.7h0M1378.2 467.8h0M1378.6 471.0h0M1378.8 474.2h0M1379.5 477.3h0M1380.1 480.4h0M1381.6 483.4h0M1382.4 486.4h0M1383.1 489.6h0M1384.1 492.6h0M1384.7 495.7h0M1385.3 498.9h0M1386.1 501.9h0M1386.1 505.2h0M1386.8 508.3h0M1387.9 511.3h0M1388.7 514.4h0M1389.1 517.6h0M1389.9 520.7h0M1390.3 523.9h0M1391.0 527.0h0M1391.5 530.2h0M1392.2 533.3h0M1393.4 536.3h0M1394.7 539.3h0M1395.4 542.4h0M1396.1 545.5h0M1396.7 548.7h0M1396.6 552.0h0M1397.6 555.0h0M1398.6 558.1h0M1399.7 561.1h0M1400.5 564.2h0M1401.5 567.3h0M1402.6 570.3h0M1403.1 573.5h0M1404.0 576.5h0M1405.1 579.6h0M1406.0 582.6h0M1406.9 585.7h0M1407.6 588.8h0M1407.8 592.1h0M1408.7 595.2h0M1409.2 598.3h0M1409.4 601.6h0M1409.8 604.7h0M1410.8 607.8h0M1411.6 610.9h0M1412.7 613.9h0M1413.4 617.0h0M1414.5 620.0h0M1415.2 623.1h0M1416.0 626.2h0M1417.0 629.3h0M1417.9 632.3h0M1418.4 635.5h0M1418.6 638.7h0M1419.6 641.7h0M1420.1 644.9h0M1421.1 647.9h0M1421.1 651.2h0M1421.4 654.4h0M1422.0 657.5h0M1422.6 660.6h0M1423.8 663.6h0M1424.8 666.7h0M1425.8 669.7h0M1426.3 672.8h0M1426.3 676.1h0M1427.3 679.1h0M1428.0 682.2h0M1428.8 685.3h0M1429.6 688.4h0M1430.4 691.5h0M1431.0 694.6h0M1431.7 697.7h0M1432.2 700.8h0M1432.3 704.1h0M1433.1 707.1h0M1434.0 710.2h0M1434.4 713.4h0M1435.2 716.4h0M1435.9 719.5h0" fill="none" stroke="#00ffff" stroke-width="11.4" stroke-linecap="round"/>
<polyline points="1104.7,19.0 1104.7,20.6 1104.7,22.1 1104.7,23.7 1104.7,25.2 1104.7,26.8 1104.7,28.3 1108.0,30.6 1114.0,34.5 1145.0,38.4 1155.2,42.3 1165.1,46.2 1173.2,50.1 1180.1,53.9 1185.6,57.8 1194.0,65.6 1203.2,73.4 1212.6,81.1 1222.0,88.9 1229.8,96.7 1251.0,116.1 1271.3,135.5 1293.0,174.3 1306.8,213.1 1318.8,252.0 1330.6,290.8 1340.9,329.6 1362.7,407.3 1380.9,485.0 1399.8,562.6 1418.3,640.3 1437.0,717.9 1454.8,795.6" fill="none" stroke="#ff0000" stroke-width="9.6" stroke-linejoin="round" stroke-linecap="butt"/>
<polyline points="1113.0,19.0 1113.1,20.6 1113.2,22.1 1113.5,23.7 1114.0,25.2 1116.2,26.8 1120.3,28.3 1126.0,29.9 1130.9,31.4 1134.8,33.0 1138.0,34.5 1141.0,36.1 1143.9,37.6 1146.6,39.2 1149.4,40.7 1152.4,42.3 1155.0,43.9 1157.2,45.4 1159.1,47.0 1160.9,48.5 1163.0,50.1 1165.4,51.6 1168.1,53.2 1170.7,54.7 1173.3,56.3 1175.8,57.8 1178.2,59.4 1180.6,60.9 1183.0,62.5 1185.3,64.0 1187.5,65.6 1189.7,67.1 1191.9,68.7 1194.0,70.3 1196.1,71.8 1198.1,73.4 1200.1,74.9 1202.1,76.5 1204.1,78.0 1206.0,79.6 1207.9,81.1 1209.9,82.7 1211.8,84.2 1213.6,85.8 1215.5,87.3 1217.3,88.9 1219.0,90.4 1220.7,92.0 1222.2,93.6 1223.8,95.1 1225.3,96.7 1226.8,98.2 1228.3,99.8 1229.8,101.3 1231.4,102.9 1233.0,104.4 1234.7,106.0 1236.4,107.5 1238.2,109.1 1240.0,110.6 1241.8,112.2 1243.7,113.7 1245.5,115.3 1247.4,116.9 1249.2,118.4 1251.0,120.0 1252.8,121.5 1254.6,123.1 1256.5,124.6 1258.3,126.2 1260.2,127.7 1262.0,129.3 1263.8,130.8 1265.6,132.4 1267.3,133.9 1269.0,135.5 1270.7,137.0 1272.4,138.6 1274.1,140.1 1275.7,141.7 1277.3,143.3 1278.8,144.8 1280.2,146.4 1281.5,147.9 1282.5,149.5 1283.5,151.0 1284.4,152.6 1285.2,154.1 1286.0,155.7 1286.7,157.2 1287.4,158.8 1288.1,160.3 1288.8,161.9 1289.5,163.4 1290.2,165.0 1290.9,166.6 1291.6,168.1 1292.4,169.7 1293.1,171.2 1293.7,172.8 1294.4,174.3 1295.1,175.9 1295.8,177.4 1296.4,179.0 1297.1,180.5 1297.7,182.1 1298.3,183.6 1298.9,185.2 1299.5,186.7 1300.1,188.3 1300.7,189.9 1301.2,191.4 1301.7,193.0 1302.2,194.5 1302.7,196.1 1303.2,197.6 1303.7,199.2 1304.1,200.7 1304.6,202.3 1305.0,203.8 1305.5,205.4 1305.9,206.9 1306.3,208.5 1306.7,210.0 1307.2,211.6 1307.6,213.1 1308.0,214.7 1308.4,216.3 1308.8,217.8 1309.2,219.4 1309.7,220.9 1310.1,222.5 1310.6,224.0 1311.0,225.6 1311.5,227.1 1311.9,228.7 1312.4,230.2 1312.8,231.8 1313.3,233.3 1313.7,234.9 1314.2,236.4 1314.6,238.0 1315.1,239.6 1315.6,241.1 1316.0,242.7 1316.5,244.2 1316.9,245.8 1317.4,247.3 1317.9,248.9 1318.3,250.4 1318.8,252.0 1319.2,253.5 1319.7,255.1 1320.2,256.6 1320.6,258.2 1321.1,259.7 1321.6,261.3 1322.1,262.9 1322.5,264.4 1323.0,266.0 1323.5,267.5 1324.0,269.1 1324.4,270.6 1324.9,272.2 1325.4,273.7 1325.9,275.3 1326.4,276.8 1326.9,278.4 1327.4,279.9 1327.9,281.5 1328.4,283.0 1328.9,284.6 1329.4,286.2 1329.9,287.7 1330.4,289.3 1330.9,290.8 1331.4,292.4 1331.9,293.9 1332.4,295.5 1332.9,297.0 1333.4,298.6 1333.9,300.1 1334.4,301.7 1334.9,303.2 1335.4,304.8 1335.9,306.3 1336.3,307.9 1336.8,309.4 1337.3,311.0 1337.7,312.6 1338.2,314.1 1338.7,315.7 1339.1,317.2 1339.6,318.8 1340.0,320.3 1340.5,321.9 1340.9,323.4 1341.3,325.0 1341.8,326.5 1342.2,328.1 1342.7,329.6 1343.1,331.2 1343.5,332.7 1344.0,334.3 1344.4,335.9 1344.8,337.4 1345.3,339.0 1345.7,340.5 1346.1,342.1 1346.5,343.6 1346.9,345.2 1347.4,346.7 1347.8,348.3 1348.2,349.8 1348.6,351.4 1349.0,352.9 1349.5,354.5 1349.9,356.0 1350.3,357.6 1350.7,359.2 1351.1,360.7 1351.5,362.3 1351.9,363.8 1352.4,365.4 1352.8,366.9 1353.2,368.5 1353.6,370.0 1354.0,371.6 1354.4,373.1 1354.8,374.7 1355.2,376.2 1355.6,377.8 1356.0,379.3 1356.5,380.9 1356.9,382.4 1357.3,384.0 1357.7,385.6 1358.1,387.1 1358.5,388.7 1358.9,390.2 1359.3,391.8 1359.7,393.3 1360.1,394.9 1360.5,396.4 1360.9,398.0 1361.3,399.5 1361.7,401.1 1362.1,402.6 1362.5,404.2 1362.9,405.7 1363.3,407.3 1363.7,408.9 1364.1,410.4 1364.5,412.0 1364.9,413.5 1365.3,415.1 1365.6,416.6 1366.0,418.2 1366.4,419.7 1366.8,421.3 1367.2,422.8 1367.6,424.4 1368.0,425.9 1368.4,427.5 1368.7,429.0 1369.1,430.6 1369.5,432.2 1369.9,433.7 1370.3,435.3 1370.6,436.8 1371.0,438.4 1371.4,439.9 1371.8,441.5 1372.1,443.0 1372.5,444.6 1372.9,446.1 1373.2,447.7 1373.6,449.2 1374.0,450.8 1374.3,452.3 1374.7,453.9 1375.1,455.4 1375.4,457.0 1375.8,458.6 1376.1,460.1 1376.5,461.7 1376.8,463.2 1377.2,464.8 1377.6,466.3 1377.9,467.9 1378.3,469.4 1378.6,471.0 1379.0,472.5 1379.3,474.1 1379.7,475.6 1380.0,477.2 1380.4,478.7 1380.7,480.3 1381.1,481.9 1381.4,483.4 1381.8,485.0 1382.1,486.5 1382.5,488.1 1382.8,489.6 1383.2,491.2 1383.5,492.7 1383.9,494.3 1384.2,495.8 1384.6,497.4 1384.9,498.9 1385.3,500.5 1385.6,502.0 1386.0,503.6 1386.3,505.2 1386.7,506.7 1387.1,508.3 1387.4,509.8 1387.8,511.4 1388.1,512.9 1388.5,514.5 1388.9,516.0 1389.2,517.6 1389.6,519.1 1390.0,520.7 1390.3,522.2 1390.7,523.8 1391.1,525.3 1391.5,526.9 1391.8,528.4 1392.2,530.0 1392.6,531.6 1393.0,533.1 1393.3,534.7 1393.7,536.2 1394.1,537.8 1394.5,539.3 1394.9,540.9 1395.3,542.4 1395.6,544.0 1396.0,545.5 1396.4,547.1 1396.8,548.6 1397.2,550.2 1397.6,551.7 1398.0,553.3 1398.3,554.9 1398.7,556.4 1399.1,558.0 1399.5,559.5 1399.9,561.1 1400.3,562.6 1400.7,564.2 1401.1,565.7 1401.4,567.3 1401.8,568.8 1402.2,570.4 1402.6,571.9 1403.0,573.5 1403.4,575.0 1403.8,576.6 1404.1,578.2 1404.5,579.7 1404.9,581.3 1405.3,582.8 1405.7,584.4 1406.1,585.9 1406.4,587.5 1406.8,589.0 1407.2,590.6 1407.6,592.1 1408.0,593.7 1408.3,595.2 1408.7,596.8 1409.1,598.3 1409.5,599.9 1409.8,601.4 1410.2,603.0 1410.6,604.6 1410.9,606.1 1411.3,607.7 1411.7,609.2 1412.0,610.8 1412.4,612.3 1412.7,613.9 1413.1,615.4 1413.5,617.0 1413.8,618.5 1414.2,620.1 1414.5,621.6 1414.9,623.2 1415.2,624.7 1415.6,626.3 1416.0,627.9 1416.3,629.4 1416.7,631.0 1417.0,632.5 1417.4,634.1 1417.7,635.6 1418.1,637.2 1418.4,638.7 1418.8,640.3 1419.1,641.8 1419.5,643.4 1419.8,644.9 1420.2,646.5 1420.5,648.0 1420.9,649.6 1421.2,651.2 1421.6,652.7 1421.9,654.3 1422.3,655.8 1422.6,657.4 1423.0,658.9 1423.3,660.5 1423.7,662.0 1424.0,663.6 1424.4,665.1 1424.7,666.7 1425.0,668.2 1425.4,669.8 1425.7,671.3 1426.1,672.9 1426.4,674.5 1426.7,676.0 1427.1,677.6 1427.4,679.1 1427.8,680.7 1428.1,682.2 1428.4,683.8 1428.8,685.3 1429.1,686.9 1429.4,688.4 1429.8,690.0 1430.1,691.5 1430.4,693.1 1430.8,694.6 1431.1,696.2 1431.4,697.7 1431.8,699.3 1432.1,700.9 1432.4,702.4 1432.8,704.0 1433.1,705.5 1433.4,707.1 1433.7,708.6 1434.1,710.2 1434.4,711.7 1434.7,713.3 1435.0,714.8 1435.4,716.4 1435.7,717.9 1436.0,719.5 1436.3,721.0" fill="none" stroke="#0000ff" stroke-width="2.5" stroke-linejoin="round"/>
<path d="M1113.0 19.0h0M1113.4 22.9h0M1116.2 26.8h0M1128.5 30.6h0M1138.0 34.5h0M1145.2 38.4h0M1152.4 42.3h0M1158.1 46.2h0M1163.0 50.1h0M1169.4 53.9h0M1175.8 57.8h0M1181.8 61.7h0M1187.5 65.6h0M1192.9 69.5h0M1198.1 73.4h0M1203.1 77.2h0M1207.9 81.1h0M1212.7 85.0h0M1217.3 88.9h0M1221.5 92.8h0M1225.3 96.7h0M1229.0 100.5h0M1233.0 104.4h0M1237.3 108.3h0M1241.8 112.2h0M1246.4 116.1h0M1251.0 120.0h0M1255.6 123.8h0M1260.2 127.7h0M1264.7 131.6h0M1269.0 135.5h0M1273.2 139.4h0M1277.3 143.3h0M1280.9 147.1h0M1283.5 151.0h0M1285.6 154.9h0M1287.4 158.8h0M1289.1 162.7h0M1290.9 166.6h0M1292.7 170.4h0M1294.4 174.3h0M1296.1 178.2h0M1297.7 182.1h0M1299.2 186.0h0M1300.7 189.9h0M1302.0 193.7h0M1303.2 197.6h0M1304.4 201.5h0M1305.5 205.4h0M1306.5 209.3h0M1307.6 213.1h0M1308.6 217.0h0M1309.7 220.9h0M1310.8 224.8h0M1311.9 228.7h0M1313.0 232.6h0M1314.2 236.4h0M1315.3 240.3h0M1316.5 244.2h0M1317.6 248.1h0M1318.8 252.0h0M1319.9 255.9h0M1321.1 259.7h0M1322.3 263.6h0M1323.5 267.5h0M1324.7 271.4h0M1325.9 275.3h0M1327.2 279.2h0M1328.4 283.0h0M1329.7 286.9h0M1330.9 290.8h0M1332.2 294.7h0M1333.4 298.6h0M1334.6 302.5h0M1335.9 306.3h0M1337.0 310.2h0M1338.2 314.1h0M1339.3 318.0h0M1340.5 321.9h0M1341.6 325.8h0M1342.7 329.6h0M1343.7 333.5h0M1344.8 337.4h0M1345.9 341.3h0M1346.9 345.2h0M1348.0 349.1h0M1349.0 352.9h0M1350.1 356.8h0M1351.1 360.7h0M1352.1 364.6h0M1353.2 368.5h0M1354.2 372.4h0M1355.2 376.2h0M1356.3 380.1h0M1357.3 384.0h0M1358.3 387.9h0M1359.3 391.8h0M1360.3 395.7h0M1361.3 399.5h0M1362.3 403.4h0M1363.3 407.3h0M1364.3 411.2h0M1365.3 415.1h0M1366.2 418.9h0M1367.2 422.8h0M1368.2 426.7h0M1369.1 430.6h0M1370.1 434.5h0M1371.0 438.4h0M1371.9 442.2h0M1372.9 446.1h0M1373.8 450.0h0M1374.7 453.9h0M1375.6 457.8h0M1376.5 461.7h0M1377.4 465.5h0M1378.3 469.4h0M1379.1 473.3h0M1380.0 477.2h0M1380.9 481.1h0M1381.8 485.0h0M1382.6 488.8h0M1383.5 492.7h0M1384.4 496.6h0M1385.3 500.5h0M1386.2 504.4h0M1387.1 508.3h0M1388.0 512.1h0M1388.9 516.0h0M1389.8 519.9h0M1390.7 523.8h0M1391.6 527.7h0M1392.6 531.6h0M1393.5 535.4h0M1394.5 539.3h0M1395.4 543.2h0M1396.4 547.1h0M1397.4 551.0h0M1398.3 554.9h0M1399.3 558.7h0M1400.3 562.6h0M1401.2 566.5h0M1402.2 570.4h0M1403.2 574.3h0M1404.1 578.2h0M1405.1 582.0h0M1406.1 585.9h0M1407.0 589.8h0M1408.0 593.7h0M1408.9 597.6h0M1409.8 601.4h0M1410.7 605.3h0M1411.7 609.2h0M1412.6 613.1h0M1413.5 617.0h0M1414.4 620.9h0M1415.2 624.7h0M1416.1 628.6h0M1417.0 632.5h0M1417.9 636.4h0M1418.8 640.3h0M1419.7 644.2h0M1420.5 648.0h0M1421.4 651.9h0M1422.3 655.8h0M1423.1 659.7h0M1424.0 663.6h0M1424.9 667.5h0M1425.7 671.3h0M1426.6 675.2h0M1427.4 679.1h0M1428.3 683.0h0M1429.1 686.9h0M1429.9 690.8h0M1430.8 694.6h0M1431.6 698.5h0M1432.4 702.4h0M1433.3 706.3h0M1434.1 710.2h0M1434.9 714.1h0M1435.7 717.9h0M1436.5 721.8h0" fill="none" stroke="#0000ff" stroke-width="11.6" stroke-linecap="round"/>
<polyline points="1104.7,19.0 1104.7,20.6 1104.7,22.1 1104.7,23.7 1104.7,25.2 1104.7,26.8 1104.7,28.3 1108.0,30.6 1114.0,34.5 1145.0,38.4 1155.2,42.3 1165.1,46.2 1173.2,50.1 1180.1,53.9 1185.6,57.8 1194.0,65.6 1203.2,73.4 1212.6,81.1 1222.0,88.9 1229.8,96.7 1251.0,116.1 1271.3,135.5 1293.0,174.3 1306.8,213.1 1318.8,252.0 1330.6,290.8 1340.9,329.6 1362.7,407.3 1380.9,485.0 1399.8,562.6 1418.3,640.3 1437.0,717.9 1454.8,795.6" fill="none" stroke="#ff0000" stroke-width="2.2" stroke-linejoin="round" stroke-linecap="butt"/>
<path d="M1104.7 19.0h0M1104.7 20.6h0M1104.7 22.1h0M1104.7 23.7h0M1104.7 25.2h0M1104.7 26.8h0M1104.7 28.3h0M1108.0 30.6h0M1114.0 34.5h0M1145.0 38.4h0M1155.2 42.3h0M1165.1 46.2h0M1173.2 50.1h0M1180.1 53.9h0M1185.6 57.8h0M1194.0 65.6h0M1203.2 73.4h0M1212.6 81.1h0M1222.0 88.9h0M1229.8 96.7h0M1251.0 116.1h0M1271.3 135.5h0M1293.0 174.3h0M1306.8 213.1h0M1318.8 252.0h0M1330.6 290.8h0M1340.9 329.6h0M1362.7 407.3h0M1380.9 485.0h0M1399.8 562.6h0M1418.3 640.3h0M1437.0 717.9h0M1454.8 795.6h0" fill="none" stroke="#ff0000" stroke-width="11.7" stroke-linecap="round"/>
<polyline points="1122.7,19.0 1122.7,20.6 1122.7,22.1 1122.7,23.7 1122.7,25.2 1124.0,26.8 1126.0,28.3 1129.0,30.6 1134.0,34.5 1139.0,38.4 1144.0,42.3 1149.0,46.2 1153.0,50.1 1157.5,53.9 1162.0,57.8 1175.0,65.6 1190.8,73.4 1199.8,81.1 1208.3,88.9 1217.7,96.7 1243.4,116.1 1262.7,135.5 1293.7,174.3 1308.1,213.1 1320.3,252.0 1332.1,290.8 1342.4,329.6 1364.2,407.3 1382.4,485.0 1401.2,562.6 1419.6,640.3 1438.4,717.9 1455.1,795.6" fill="none" stroke="#008000" stroke-width="3.4" stroke-linejoin="round" stroke-linecap="butt"/>
<path d="M1122.7 19.0h0M1122.7 20.6h0M1122.7 22.1h0M1122.7 23.7h0M1122.7 25.2h0M1124.0 26.8h0M1126.0 28.3h0M1129.0 30.6h0M1134.0 34.5h0M1139.0 38.4h0M1144.0 42.3h0M1149.0 46.2h0M1153.0 50.1h0M1157.5 53.9h0M1162.0 57.8h0M1175.0 65.6h0M1190.8 73.4h0M1199.8 81.1h0M1208.3 88.9h0M1217.7 96.7h0M1243.4 116.1h0M1262.7 135.5h0M1293.7 174.3h0M1308.1 213.1h0M1320.3 252.0h0M1332.1 290.8h0M1342.4 329.6h0M1364.2 407.3h0M1382.4 485.0h0M1401.2 562.6h0M1419.6 640.3h0M1438.4 717.9h0M1455.1 795.6h0" fill="none" stroke="#008000" stroke-width="11.7" stroke-linecap="round"/>
<polyline points="1106.8,19.4 1106.8,20.2 1106.8,21.1 1106.8,22.0 1106.8,22.9 1106.8,24.0 1106.8,25.2 1106.8,26.4 1106.8,27.9 1110.0,29.5 1114.5,31.3 1120.0,33.4 1126.7,35.8 1133.0,38.6 1139.6,41.8 1147.0,45.7 1154.6,50.3 1165.7,55.8 1177.5,62.3 1190.4,70.1 1204.2,79.5 1216.8,90.7 1230.6,104.2 1248.1,120.5 1268.5,140.1 1286.2,163.5 1300.2,191.8 1311.3,225.6 1323.5,266.0 1338.5,314.3 1354.1,371.5 1371.3,439.2 1389.5,518.8 1412.2,611.8 1436.3,719.7" fill="none" stroke="#ff00ff" stroke-width="2.2" stroke-linejoin="round" stroke-linecap="butt"/>
<path d="M1106.8 19.4h0M1106.8 20.2h0M1106.8 21.1h0M1106.8 22.0h0M1106.8 22.9h0M1106.8 24.0h0M1106.8 25.2h0M1106.8 26.4h0M1106.8 27.9h0M1110.0 29.5h0M1114.5 31.3h0M1120.0 33.4h0M1126.7 35.8h0M1133.0 38.6h0M1139.6 41.8h0M1147.0 45.7h0M1154.6 50.3h0M1165.7 55.8h0M1177.5 62.3h0M1190.4 70.1h0M1204.2 79.5h0M1216.8 90.7h0M1230.6 104.2h0M1248.1 120.5h0M1268.5 140.1h0M1286.2 163.5h0M1300.2 191.8h0M1311.3 225.6h0M1323.5 266.0h0M1338.5 314.3h0M1354.1 371.5h0M1371.3 439.2h0M1389.5 518.8h0M1412.2 611.8h0M1436.3 719.7h0" fill="none" stroke="#ff00ff" stroke-width="11.7" stroke-linecap="round"/>
</g>
<path d="M1089.6 19.4H1471.9V803.4H1089.6ZM1136.5 803.4v6.5M1199.5 803.4v6.5M1261.5 803.4v6.5M1324.5 803.4v6.5M1386.5 803.4v6.5M1449.5 803.4v6.5M1089.6 19.5h-6.5M1089.6 96.5h-6.5M1089.6 174.5h-6.5M1089.6 251.5h-6.5M1089.6 329.5h-6.5M1089.6 407.5h-6.5M1089.6 484.5h-6.5M1089.6 562.5h-6.5M1089.6 640.5h-6.5M1089.6 717.5h-6.5M1089.6 795.5h-6.5" stroke="#000" stroke-width="1.33" fill="none"/>
<text x="85.3" y="25.6" font-size="17.1" text-anchor="end" textLength="9.6" lengthAdjust="spacingAndGlyphs" >0</text>
<text x="85.3" y="103.3" font-size="17.1" text-anchor="end" textLength="30.6" lengthAdjust="spacingAndGlyphs" >100</text>
<text x="85.3" y="180.9" font-size="17.1" text-anchor="end" textLength="30.6" lengthAdjust="spacingAndGlyphs" >200</text>
<text x="85.3" y="258.6" font-size="17.1" text-anchor="end" textLength="30.6" lengthAdjust="spacingAndGlyphs" >300</text>
<text x="85.3" y="336.2" font-size="17.1" text-anchor="end" textLength="30.6" lengthAdjust="spacingAndGlyphs" >400</text>
<text x="85.3" y="413.9" font-size="17.1" text-anchor="end" textLength="30.6" lengthAdjust="spacingAndGlyphs" >500</text>
<text x="85.3" y="491.6" font-size="17.1" text-anchor="end" textLength="30.6" lengthAdjust="spacingAndGlyphs" >600</text>
<text x="85.3" y="569.2" font-size="17.1" text-anchor="end" textLength="30.6" lengthAdjust="spacingAndGlyphs" >700</text>
<text x="85.3" y="646.9" font-size="17.1" text-anchor="end" textLength="30.6" lengthAdjust="spacingAndGlyphs" >800</text>
<text x="85.3" y="724.5" font-size="17.1" text-anchor="end" textLength="30.6" lengthAdjust="spacingAndGlyphs" >900</text>
<text x="85.3" y="802.2" font-size="17.1" text-anchor="end" textLength="41.0" lengthAdjust="spacingAndGlyphs" >1000</text>
<text x="102.6" y="829.8" font-size="17.1" text-anchor="middle" textLength="9.0" lengthAdjust="spacingAndGlyphs" >5</text>
<text x="175.8" y="829.8" font-size="17.1" text-anchor="middle" textLength="19.6" lengthAdjust="spacingAndGlyphs" >10</text>
<text x="249.0" y="829.8" font-size="17.1" text-anchor="middle" textLength="19.6" lengthAdjust="spacingAndGlyphs" >15</text>
<text x="322.1" y="829.8" font-size="17.1" text-anchor="middle" textLength="19.6" lengthAdjust="spacingAndGlyphs" >20</text>
<text x="395.3" y="829.8" font-size="17.1" text-anchor="middle" textLength="19.6" lengthAdjust="spacingAndGlyphs" >25</text>
<text x="468.5" y="829.8" font-size="17.1" text-anchor="middle" textLength="19.6" lengthAdjust="spacingAndGlyphs" >30</text>
<text x="610.8" y="829.8" font-size="17.1" text-anchor="middle" textLength="36.2" lengthAdjust="spacingAndGlyphs" >34.0</text>
<text x="665.4" y="829.8" font-size="17.1" text-anchor="middle" textLength="36.2" lengthAdjust="spacingAndGlyphs" >34.5</text>
<text x="720.0" y="829.8" font-size="17.1" text-anchor="middle" textLength="36.2" lengthAdjust="spacingAndGlyphs" >35.0</text>
<text x="774.7" y="829.8" font-size="17.1" text-anchor="middle" textLength="36.2" lengthAdjust="spacingAndGlyphs" >35.5</text>
<text x="829.3" y="829.8" font-size="17.1" text-anchor="middle" textLength="36.2" lengthAdjust="spacingAndGlyphs" >36.0</text>
<text x="883.9" y="829.8" font-size="17.1" text-anchor="middle" textLength="36.2" lengthAdjust="spacingAndGlyphs" >36.5</text>
<text x="938.5" y="829.8" font-size="17.1" text-anchor="middle" textLength="36.2" lengthAdjust="spacingAndGlyphs" >37.0</text>
<text x="0" y="0" font-size="17.1" text-anchor="middle" textLength="40.2" lengthAdjust="spacingAndGlyphs" transform="translate(1135.4,839.4) rotate(-45)" dy="6.1">1022</text>
<text x="0" y="0" font-size="17.1" text-anchor="middle" textLength="40.2" lengthAdjust="spacingAndGlyphs" transform="translate(1198.0,839.4) rotate(-45)" dy="6.1">1024</text>
<text x="0" y="0" font-size="17.1" text-anchor="middle" textLength="40.2" lengthAdjust="spacingAndGlyphs" transform="translate(1260.6,839.4) rotate(-45)" dy="6.1">1026</text>
<text x="0" y="0" font-size="17.1" text-anchor="middle" textLength="40.2" lengthAdjust="spacingAndGlyphs" transform="translate(1323.2,839.4) rotate(-45)" dy="6.1">1028</text>
<text x="0" y="0" font-size="17.1" text-anchor="middle" textLength="40.2" lengthAdjust="spacingAndGlyphs" transform="translate(1385.8,839.4) rotate(-45)" dy="6.1">1030</text>
<text x="0" y="0" font-size="17.1" text-anchor="middle" textLength="40.2" lengthAdjust="spacingAndGlyphs" transform="translate(1448.4,839.4) rotate(-45)" dy="6.1">1032</text>
<text x="0" y="0" font-size="24.0" font-weight="bold" stroke="#000" stroke-width="0.45" text-anchor="middle" textLength="128" lengthAdjust="spacingAndGlyphs" transform="translate(28.7,412.5) rotate(-90)" >Depth (m)</text>
<text x="180.6" y="860" font-size="24.0" font-weight="bold" stroke="#000" stroke-width="0.45" textLength="217.8" lengthAdjust="spacingAndGlyphs">Temperature (<tspan font-weight="normal" stroke="none" font-style="italic" font-size="16.5" dy="-8.5">o</tspan><tspan font-weight="normal" stroke="none" font-style="italic" dy="8.5">C</tspan>)</text>
<text x="784.6" y="859.8" font-size="24.0" font-weight="bold" stroke="#000" stroke-width="0.45" text-anchor="middle" textLength="93.4" lengthAdjust="spacingAndGlyphs" >Salinity</text>
<text x="1279.8" y="885.2" font-size="24.0" font-weight="bold" stroke="#000" stroke-width="0.45" text-anchor="middle" textLength="211" lengthAdjust="spacingAndGlyphs" >Density (kg m-3)</text>
<text x="327.6" y="917.6" font-size="17.0" font-style="italic" textLength="921" lengthAdjust="spacingAndGlyphs" >Ocean Heat Content (kJ/cm^2) - Glider: 113.4612,&#160; RTOFS: 86.5673,&#160; ESPC: 113.5257,&#160; CMEMS: 109.9824,</text>
<text x="1546.8" y="36.5" font-size="22.3" font-weight="bold" stroke="#000" stroke-width="0.45" textLength="378" lengthAdjust="spacingAndGlyphs" >Comparison Date: 2025-10-14</text>
<text x="1546.8" y="89.4" font-size="22.3" font-weight="bold" stroke="#000" stroke-width="0.45" textLength="168" lengthAdjust="spacingAndGlyphs" >Glider: sg663</text>
<text x="1546.8" y="115.8" font-size="22.3" font-weight="bold" stroke="#000" stroke-width="0.45" textLength="144" lengthAdjust="spacingAndGlyphs" >Profiles: 10</text>
<text x="1546.8" y="142.4" font-size="22.3" font-weight="bold" stroke="#000" stroke-width="0.45" textLength="338" lengthAdjust="spacingAndGlyphs" >First: 2025-10-14 01:59:36</text>
<text x="1546.8" y="168.7" font-size="22.3" font-weight="bold" stroke="#000" stroke-width="0.45" textLength="333" lengthAdjust="spacingAndGlyphs" >Last: 2025-10-14 23:06:05</text>
<text x="1546.8" y="195.3" font-size="22.3" font-weight="bold" stroke="#000" stroke-width="0.45" textLength="338.7" lengthAdjust="spacingAndGlyphs" >Method: Nearest-Neighbor</text>
<defs><clipPath id="cm"><rect x="1584.4" y="305.0" width="382.1" height="211.0"/></clipPath></defs>
<rect x="1584.4" y="305.0" width="382.1" height="211.0" fill="#97b6e1"/>
<g clip-path="url(#cm)">
<path d="M1581.4 332.4L1584.5 332.4L1591.8 330.9L1598.8 331.2L1607.1 330.0L1611.2 331.8L1612.4 335.3L1610.6 340.0L1607.1 344.8L1605.3 349.5L1603.6 356.5L1601.8 363.6L1599.4 370.7L1597.7 377.7L1595.9 384.8L1594.1 391.9L1591.8 397.8L1588.2 401.3L1585.3 403.7L1585.1 403.2L1590.3 406.4L1596.7 403.9L1605.7 404.5L1613.4 405.1L1621.1 402.6L1628.8 403.9L1635.2 403.9L1641.7 405.8L1648.1 410.3L1654.5 414.1L1656.0 416.7L1655.1 423.1L1653.9 429.5L1651.9 437.3L1650.6 443.7L1649.4 450.1L1648.7 456.5L1647.4 462.9L1649.4 468.1L1651.9 471.9L1657.1 478.4L1663.5 484.8L1669.9 488.6L1676.3 492.5L1682.8 491.8L1689.2 489.3L1695.6 487.3L1698.8 483.5L1705.9 483.5L1712.3 485.4L1718.7 488.6L1723.9 493.1L1729.0 498.9L1732.9 502.8L1734.8 498.9L1732.9 495.7L1738.0 492.5L1743.1 487.3L1747.0 482.2L1748.3 475.8L1752.1 470.6L1758.5 464.9L1765.0 462.9L1772.7 462.3L1780.0 460.4L1780.3 460.4L1785.4 456.5L1790.6 452.7L1794.4 449.5L1798.3 448.2L1802.8 449.5L1804.0 452.7L1800.8 455.2L1795.7 457.2L1793.8 460.4L1795.7 465.5L1798.5 467.4L1797.6 471.9L1795.0 475.8L1792.5 480.3L1793.8 483.5L1795.7 488.6L1799.5 489.9L1804.0 487.3L1805.3 482.2L1803.4 477.1L1800.6 471.9L1799.8 467.7L1803.4 465.5L1808.5 462.9L1813.7 461.0L1814.3 453.9L1817.5 451.4L1820.7 453.9L1820.7 459.7L1826.5 459.7L1832.9 461.0L1838.1 464.2L1840.0 469.4L1843.2 471.9L1849.6 471.3L1857.3 470.6L1865.1 470.6L1868.9 474.5L1874.0 476.4L1879.2 477.1L1884.3 475.8L1888.2 473.2L1893.3 471.9L1898.5 470.0L1906.2 470.0L1913.9 469.4L1921.6 468.5L1922.9 470.0L1915.2 471.2L1906.9 472.2L1909.0 476.4L1912.6 478.9L1917.7 479.4L1922.2 478.4L1924.1 480.7L1926.7 483.5L1930.6 488.6L1932.5 495.1L1937.0 495.7L1943.4 498.9L1949.8 502.8L1956.3 507.9L1960.1 511.8L1961.4 516.0L1961.4 519.5L1725.2 519.5L1725.2 516.0L1720.0 511.1L1715.5 505.3L1713.6 501.5L1709.7 499.6L1706.5 495.1L1700.7 491.8L1696.9 495.1L1691.8 498.9L1689.2 502.8L1693.0 506.6L1695.0 510.5L1689.2 513.0L1684.0 513.0L1682.8 507.9L1681.5 505.3L1677.6 506.6L1675.1 502.8L1669.9 500.2L1663.5 499.6L1657.1 498.9L1651.9 497.6L1649.4 495.1L1650.0 491.2L1646.8 488.6L1641.7 484.8L1636.5 480.9L1632.0 483.5L1628.8 479.6L1624.3 477.1L1623.0 473.2L1625.0 469.4L1623.0 466.8L1624.3 464.2L1619.8 460.4L1614.7 455.2L1610.8 450.7L1605.7 445.6L1601.2 441.1L1599.3 437.9L1592.8 437.3L1584.5 437.3L1581.4 437.3ZM1633.5 326.6L1639.5 323.4L1641.1 319.4L1646.0 316.1L1652.4 312.9L1658.9 310.9L1665.4 309.7L1671.8 310.1L1678.3 310.1L1683.1 308.5L1689.6 309.3L1695.2 311.3L1699.3 314.1L1702.5 316.1L1706.5 316.1L1712.2 316.9L1717.8 318.6L1721.9 321.4L1725.1 325.0L1729.1 328.2L1733.2 331.1L1738.0 333.9L1742.8 336.3L1747.7 337.1L1750.1 339.5L1754.1 341.2L1759.0 342.8L1762.2 345.2L1765.4 347.6L1767.5 348.8L1765.4 350.4L1760.6 351.3L1755.8 352.5L1750.9 352.5L1746.1 351.7L1741.2 351.7L1736.4 352.5L1731.5 352.9L1726.7 352.9L1722.7 353.7L1723.5 350.8L1726.7 348.4L1730.7 346.0L1729.9 344.0L1726.7 342.8L1721.9 342.0L1717.8 339.5L1714.6 336.3L1713.0 333.1L1710.6 331.1L1705.7 330.3L1700.9 329.5L1696.0 327.8L1692.0 325.8L1688.0 323.8L1683.1 323.0L1678.3 322.2L1675.0 320.6L1672.6 319.0L1674.2 317.4L1671.8 316.5L1667.0 316.1L1662.9 316.5L1659.7 318.2L1657.3 320.2L1653.2 322.2L1649.2 323.4L1645.2 324.6L1641.1 326.6L1637.1 327.8ZM1655.3 329.9L1657.3 327.0L1660.5 326.6L1662.5 328.2L1662.9 331.1L1660.5 332.7L1657.3 333.1ZM1714.3 373.0L1719.0 370.9L1726.1 370.4L1733.1 371.8L1739.0 374.8L1742.5 377.7L1739.0 380.1L1733.1 380.1L1729.6 381.5L1723.7 378.9L1717.8 376.0ZM1775.3 354.8L1781.8 351.2L1786.5 352.4L1791.2 354.2L1797.1 353.0L1805.3 352.4L1812.4 354.8L1819.5 355.9L1821.8 360.1L1826.5 360.1L1828.9 363.6L1833.6 366.0L1838.3 369.5L1837.1 373.0L1834.2 375.4L1831.2 373.0L1826.5 373.6L1821.8 371.8L1817.1 371.8L1812.4 374.2L1807.7 373.6L1804.2 376.6L1801.2 381.3L1798.3 383.6L1796.5 380.1L1793.6 375.4L1790.0 373.0L1784.1 374.2L1777.1 375.4L1770.0 376.3L1773.2 377.1L1768.5 375.6L1763.7 373.6L1762.3 371.0L1768.5 368.9L1775.5 369.5L1770.0 370.4L1777.1 370.1L1783.0 370.7L1787.7 369.5L1785.3 366.0L1784.1 361.2L1781.8 358.3L1777.1 356.5ZM1852.4 371.3L1859.5 370.4L1867.8 370.7L1872.5 371.8L1873.1 375.4L1868.9 378.3L1860.7 378.7L1853.6 378.3L1851.9 374.8ZM1772.4 338.3L1775.3 335.9L1779.4 335.3L1781.2 331.8L1782.4 332.4L1781.8 336.5L1779.4 339.5L1774.7 340.0ZM1923.1 469.4L1929.9 467.8L1930.2 476.4L1922.9 477.3Z" fill="#d2b48c" stroke="#000" stroke-width="2.4" stroke-linejoin="round"/>
<path d="M1614.0 448.8L1618.5 449.8L1625.0 455.0L1631.4 460.1L1635.2 463.6L1631.4 464.2L1625.0 461.7L1622.4 456.5L1617.3 451.6Z" fill="#a9b8cb"/>
<path d="M1633.9 421.2L1640.4 419.3L1648.1 418.0L1655.1 416.1M1613.4 434.0L1618.5 435.3L1622.4 434.0L1624.3 431.5M1635.2 463.6L1641.7 466.8L1648.7 469.4M1759.2 465.5L1757.9 471.9L1758.5 479.6L1762.4 486.1L1770.1 491.2L1772.0 497.6L1771.4 506.6L1770.1 516.0M1854.1 515.6L1862.5 508.5L1872.8 504.7L1881.8 506.6L1888.2 502.8L1898.5 500.8L1908.7 497.0L1916.4 495.1L1928.0 491.8M1916.4 495.1L1915.8 488.6L1912.6 483.5M1915.8 488.6L1919.6 483.5M1770.0 491.2L1771.0 500.2L1770.6 509.2M1695.0 487.3L1700.7 491.8" fill="none" stroke="#97b6e1" stroke-width="1.4" stroke-linejoin="round"/>
<path d="M1584.5 412.8L1587.7 410.3L1591.6 407.1M1584.5 427.0L1591.6 428.9L1599.3 431.5L1603.8 434.7M1607.6 438.5L1612.1 436.0L1613.4 430.8L1622.4 429.5L1628.8 424.4L1635.2 419.3L1644.2 419.3L1655.1 416.1M1625.6 464.2L1633.9 464.9L1641.7 466.8L1648.7 469.4M1659.6 484.1L1658.6 489.9L1660.9 493.8L1658.1 497.9M1732.9 501.5L1727.7 505.3L1722.6 507.9L1721.3 511.8M1793.8 460.4L1789.3 462.9L1784.1 469.4L1780.9 477.1L1777.7 484.8L1776.4 488.0L1781.6 489.9L1785.4 496.3L1789.3 502.8L1788.0 509.2L1792.5 514.3L1802.1 515.0L1808.5 513.7M1942.8 498.9L1937.0 504.0L1933.1 509.2L1935.1 515.0M1795.3 355.4L1796.5 361.2L1794.7 367.1L1797.7 370.7L1796.5 375.4M1584.7 377.1L1588.8 373.0L1593.0 368.9" fill="none" stroke="#000" stroke-width="1.5" stroke-dasharray="4.6 2.4"/>
<path d="M1681.5 310.3L1689.6 311.3L1697.6 314.9L1705.7 318.4L1713.8 320.3L1720.2 322.6L1725.9 327.8L1731.5 331.6" fill="none" stroke="#000" stroke-width="4.4" stroke-linecap="round" stroke-linejoin="round"/>
<path d="M1731.5 331.6L1739.6 335.5L1746.1 337.5" fill="none" stroke="#000" stroke-width="2.6" stroke-linecap="round" stroke-linejoin="round"/>
<path d="M1635.5 326.6L1640.3 324.6" fill="none" stroke="#000" stroke-width="3.0" stroke-linecap="round" stroke-linejoin="round"/>
<path d="M1677.9 360.1L1681.5 360.4" fill="none" stroke="#000" stroke-width="2.8" stroke-linecap="round" stroke-linejoin="round"/>
<path d="M1693.6 355.9L1698.4 354.9" fill="none" stroke="#000" stroke-width="2.4" stroke-linecap="round" stroke-linejoin="round"/>
<path d="M1701.7 337.0L1705.7 339.7L1710.6 342.1L1715.4 344.6L1720.2 346.2L1724.7 346.4" fill="none" stroke="#000" stroke-width="3.0" stroke-linecap="round" stroke-linejoin="round"/>
<path d="M1708.9 332.3L1712.2 337.1L1717.0 340.8" fill="none" stroke="#000" stroke-width="2.0" stroke-linecap="round" stroke-linejoin="round"/>
<path d="M1663.7 330.8L1670.2 330.3L1676.7 329.5L1681.5 330.0" fill="none" stroke="#000" stroke-width="2.4" stroke-linecap="round" stroke-linejoin="round"/>
<path d="M1658.9 321.8L1661.3 324.6" fill="none" stroke="#000" stroke-width="2.4" stroke-linecap="round" stroke-linejoin="round"/>
<path d="M1649.2 325.8L1653.2 325.7" fill="none" stroke="#000" stroke-width="1.8" stroke-linecap="round" stroke-linejoin="round"/>
<path d="M1667.0 318.2L1673.4 319.2L1676.7 321.4" fill="none" stroke="#000" stroke-width="2.6" stroke-linecap="round" stroke-linejoin="round"/>
<path d="M1750.9 309.3L1746.1 312.1L1744.5 316.1L1746.1 321.0L1748.1 324.2" fill="none" stroke="#000" stroke-width="1.5" stroke-linecap="round" stroke-linejoin="round"/>
<path d="M1751.7 307.3L1755.8 309.7L1758.6 313.7" fill="none" stroke="#000" stroke-width="2.0" stroke-linecap="round" stroke-linejoin="round"/>
<path d="M1762.2 323.8L1767.1 320.2L1770.3 317.1" fill="none" stroke="#000" stroke-width="2.6" stroke-linecap="round" stroke-linejoin="round"/>
<path d="M1765.4 315.2L1770.3 316.1L1774.3 317.4" fill="none" stroke="#000" stroke-width="2.2" stroke-linecap="round" stroke-linejoin="round"/>
<path d="M1779.2 319.8L1785.6 321.1" fill="none" stroke="#000" stroke-width="2.0" stroke-linecap="round" stroke-linejoin="round"/>
<path d="M1770.7 310.9L1773.5 310.9" fill="none" stroke="#000" stroke-width="2.2" stroke-linecap="round" stroke-linejoin="round"/>
<path d="M1605.3 349.5L1603.6 356.5L1601.8 363.6L1599.4 370.7L1597.7 377.7L1595.9 384.8L1594.1 391.9L1591.8 397.8" fill="none" stroke="#000" stroke-width="2.6" stroke-linecap="round" stroke-linejoin="round"/>
<path d="M1925.7 443.0L1923.5 447.5L1919.6 452.7" fill="none" stroke="#000" stroke-width="2.4" stroke-linecap="round" stroke-linejoin="round"/>
<path d="M1649.4 450.1L1650.6 443.7L1651.9 437.3" fill="none" stroke="#000" stroke-width="2.2" stroke-linecap="round" stroke-linejoin="round"/>
<path d="M1930.6 488.6L1932.5 495.1" fill="none" stroke="#000" stroke-width="3.0" stroke-linecap="round" stroke-linejoin="round"/>
<path d="M1663.5 484.8L1669.9 488.6L1675.1 491.5" fill="none" stroke="#000" stroke-width="2.6" stroke-linecap="round" stroke-linejoin="round"/>
<path d="M1716.2 497.6L1721.3 501.5" fill="none" stroke="#000" stroke-width="3.0" stroke-linecap="round" stroke-linejoin="round"/>
<g fill="#000"><ellipse cx="1610.0" cy="345.7" rx="2.12" ry="3.74" transform="rotate(25 1610.0 345.7)"/><ellipse cx="1609.4" cy="401.5" rx="2.27" ry="1.68"/><ellipse cx="1617.7" cy="397.8" rx="6.68" ry="1.68" transform="rotate(-12 1617.7 397.8)"/><ellipse cx="1622.6" cy="397.2" rx="1.97" ry="1.83"/><ellipse cx="1597.7" cy="384.2" rx="1.97" ry="3.74" transform="rotate(10 1597.7 384.2)"/><ellipse cx="1595.3" cy="370.7" rx="1.83" ry="4.33" transform="rotate(15 1595.3 370.7)"/><ellipse cx="1600.6" cy="358.9" rx="1.83" ry="4.03" transform="rotate(12 1600.6 358.9)"/><ellipse cx="1593.9" cy="394.2" rx="1.68" ry="3.44" transform="rotate(15 1593.9 394.2)"/><ellipse cx="1771.8" cy="311.2" rx="2.56" ry="1.53"/><ellipse cx="1773.8" cy="317.7" rx="1.97" ry="1.68"/><ellipse cx="1781.8" cy="320.6" rx="4.33" ry="1.83" transform="rotate(20 1781.8 320.6)"/><ellipse cx="1790.0" cy="327.7" rx="3.74" ry="1.83" transform="rotate(-35 1790.0 327.7)"/><ellipse cx="1795.3" cy="326.1" rx="3.74" ry="1.83" transform="rotate(10 1795.3 326.1)"/><ellipse cx="1799.4" cy="330.0" rx="1.83" ry="3.74" transform="rotate(-10 1799.4 330.0)"/><ellipse cx="1797.3" cy="335.1" rx="1.97" ry="1.83"/><ellipse cx="1804.2" cy="333.6" rx="1.50" ry="2.86" transform="rotate(15 1804.2 333.6)"/><ellipse cx="1781.2" cy="332.0" rx="1.83" ry="1.83"/><ellipse cx="1780.0" cy="366.5" rx="4.92" ry="1.97" transform="rotate(25 1780.0 366.5)"/><ellipse cx="1783.5" cy="350.9" rx="2.86" ry="1.50"/><ellipse cx="1825.4" cy="360.7" rx="4.33" ry="2.12"/><ellipse cx="1834.2" cy="374.8" rx="2.27" ry="2.27"/><ellipse cx="1843.6" cy="376.3" rx="1.97" ry="1.83"/><ellipse cx="1875.4" cy="374.2" rx="2.27" ry="2.12"/><ellipse cx="1879.8" cy="373.0" rx="4.18" ry="1.83" transform="rotate(-20 1879.8 373.0)"/><ellipse cx="1885.1" cy="371.3" rx="4.62" ry="1.83" transform="rotate(-15 1885.1 371.3)"/><ellipse cx="1887.8" cy="368.1" rx="2.12" ry="1.68"/><ellipse cx="1883.1" cy="380.8" rx="3.74" ry="1.97" transform="rotate(-10 1883.1 380.8)"/><ellipse cx="1903.7" cy="374.8" rx="2.56" ry="1.97" transform="rotate(30 1903.7 374.8)"/><ellipse cx="1906.2" cy="378.0" rx="1.97" ry="1.83"/><ellipse cx="1901.7" cy="382.4" rx="1.53" ry="1.53"/><ellipse cx="1905.5" cy="385.5" rx="2.71" ry="1.53" transform="rotate(40 1905.5 385.5)"/><ellipse cx="1909.2" cy="388.1" rx="1.83" ry="1.68"/><ellipse cx="1914.3" cy="393.8" rx="1.83" ry="1.97"/><ellipse cx="1919.0" cy="381.9" rx="1.97" ry="2.56" transform="rotate(-10 1919.0 381.9)"/><ellipse cx="1919.4" cy="389.0" rx="2.56" ry="2.41"/><ellipse cx="1927.2" cy="400.1" rx="2.56" ry="1.68" transform="rotate(-20 1927.2 400.1)"/><ellipse cx="1925.5" cy="409.1" rx="2.41" ry="2.12"/><ellipse cx="1678.3" cy="436.4" rx="1.95" ry="2.11"/><ellipse cx="1673.8" cy="446.5" rx="1.78" ry="2.27"/><ellipse cx="1657.1" cy="451.4" rx="1.62" ry="1.78"/><ellipse cx="1662.2" cy="412.8" rx="2.11" ry="2.11"/><ellipse cx="1654.5" cy="403.2" rx="1.62" ry="2.43"/><ellipse cx="1658.4" cy="422.5" rx="1.95" ry="1.95"/><ellipse cx="1662.2" cy="423.8" rx="1.78" ry="2.11"/><ellipse cx="1660.3" cy="419.3" rx="1.50" ry="1.50"/><ellipse cx="1707.2" cy="498.3" rx="3.71" ry="4.35" transform="rotate(-15 1707.2 498.3)"/><ellipse cx="1716.2" cy="498.9" rx="3.39" ry="2.11" transform="rotate(20 1716.2 498.9)"/><ellipse cx="1673.1" cy="509.2" rx="2.75" ry="3.39"/><ellipse cx="1680.4" cy="506.6" rx="2.43" ry="2.43"/><ellipse cx="1668.6" cy="488.6" rx="5.32" ry="2.27" transform="rotate(30 1668.6 488.6)"/><ellipse cx="1631.4" cy="477.1" rx="4.51" ry="2.27" transform="rotate(40 1631.4 477.1)"/><ellipse cx="1601.2" cy="437.5" rx="3.71" ry="4.03"/><ellipse cx="1651.9" cy="448.2" rx="1.78" ry="5.32" transform="rotate(5 1651.9 448.2)"/><ellipse cx="1646.8" cy="409.6" rx="4.03" ry="1.95" transform="rotate(25 1646.8 409.6)"/><ellipse cx="1622.4" cy="466.8" rx="2.11" ry="1.78"/><ellipse cx="1657.1" cy="497.6" rx="2.43" ry="1.62"/><ellipse cx="1733.5" cy="501.5" rx="1.95" ry="3.07"/><ellipse cx="1818.2" cy="446.9" rx="2.43" ry="1.95" transform="rotate(30 1818.2 446.9)"/><ellipse cx="1830.4" cy="450.7" rx="4.51" ry="1.95" transform="rotate(35 1830.4 450.7)"/><ellipse cx="1838.7" cy="450.7" rx="2.11" ry="2.75" transform="rotate(20 1838.7 450.7)"/><ellipse cx="1847.7" cy="453.3" rx="2.75" ry="1.50" transform="rotate(10 1847.7 453.3)"/><ellipse cx="1858.6" cy="455.2" rx="3.39" ry="2.59"/><ellipse cx="1865.7" cy="455.5" rx="1.78" ry="1.62"/><ellipse cx="1885.0" cy="455.2" rx="2.43" ry="1.95" transform="rotate(20 1885.0 455.2)"/><ellipse cx="1876.0" cy="466.8" rx="2.91" ry="1.95"/><ellipse cx="1890.7" cy="466.2" rx="5.96" ry="3.07" transform="rotate(-15 1890.7 466.2)"/><ellipse cx="1894.0" cy="463.2" rx="3.07" ry="1.95" transform="rotate(-20 1894.0 463.2)"/><ellipse cx="1890.1" cy="470.0" rx="4.03" ry="1.95"/><ellipse cx="1902.9" cy="461.4" rx="1.78" ry="1.78"/><ellipse cx="1933.1" cy="462.9" rx="3.71" ry="1.95" transform="rotate(-25 1933.1 462.9)"/><ellipse cx="1924.8" cy="410.3" rx="2.27" ry="3.71" transform="rotate(-15 1924.8 410.3)"/><ellipse cx="1929.0" cy="420.6" rx="3.39" ry="4.35" transform="rotate(-25 1929.0 420.6)"/><ellipse cx="1929.7" cy="429.5" rx="2.27" ry="3.39"/><ellipse cx="1926.5" cy="438.5" rx="1.95" ry="2.75"/><ellipse cx="1919.6" cy="452.9" rx="2.11" ry="2.27"/><ellipse cx="1947.0" cy="438.5" rx="2.43" ry="2.91" transform="rotate(-20 1947.0 438.5)"/><ellipse cx="1925.4" cy="403.9" rx="2.11" ry="2.11"/></g>
<ellipse cx="1922.8" cy="401.3" rx="3.06" ry="3.77" fill="#d2b48c" stroke="#000" stroke-width="1.65" transform="rotate(10 1922.8 401.3)"/>
<ellipse cx="1817.5" cy="455.0" rx="3.08" ry="3.85" fill="#d2b48c" stroke="#000" stroke-width="1.54" transform="rotate(0 1817.5 455.0)"/>
</g>
<circle cx="1845.3" cy="385.6" r="4.3" fill="#ff0000" stroke="#000" stroke-width="1.2"/>
<rect x="1584.4" y="305.0" width="382.1" height="211.0" fill="none" stroke="#000" stroke-width="1.4"/>
<path d="M1633.8 305.0v-8.8M1633.8 516.0v8.8M1695.3 305.0v-8.8M1695.3 516.0v8.8M1756.8 305.0v-8.8M1756.8 516.0v8.8M1818.3 305.0v-8.8M1818.3 516.0v8.8M1879.8 305.0v-8.8M1879.8 516.0v8.8M1941.3 305.0v-8.8M1941.3 516.0v8.8M1584.4 479.5h-8.8M1966.5 479.5h8.8M1584.4 416.5h-8.8M1966.5 416.5h8.8M1584.4 352.0h-8.8M1966.5 352.0h8.8" stroke="#000" stroke-width="3.3" fill="none"/>
<path d="M1584.6 305.0v-3.6M1584.6 516.0v3.6M1596.9 305.0v-3.6M1596.9 516.0v3.6M1609.2 305.0v-3.6M1609.2 516.0v3.6M1621.5 305.0v-3.6M1621.5 516.0v3.6M1646.1 305.0v-3.6M1646.1 516.0v3.6M1658.4 305.0v-3.6M1658.4 516.0v3.6M1670.7 305.0v-3.6M1670.7 516.0v3.6M1683.0 305.0v-3.6M1683.0 516.0v3.6M1707.6 305.0v-3.6M1707.6 516.0v3.6M1719.9 305.0v-3.6M1719.9 516.0v3.6M1732.2 305.0v-3.6M1732.2 516.0v3.6M1744.5 305.0v-3.6M1744.5 516.0v3.6M1769.1 305.0v-3.6M1769.1 516.0v3.6M1781.4 305.0v-3.6M1781.4 516.0v3.6M1793.7 305.0v-3.6M1793.7 516.0v3.6M1806.0 305.0v-3.6M1806.0 516.0v3.6M1830.6 305.0v-3.6M1830.6 516.0v3.6M1842.9 305.0v-3.6M1842.9 516.0v3.6M1855.2 305.0v-3.6M1855.2 516.0v3.6M1867.5 305.0v-3.6M1867.5 516.0v3.6M1892.1 305.0v-3.6M1892.1 516.0v3.6M1904.4 305.0v-3.6M1904.4 516.0v3.6M1916.7 305.0v-3.6M1916.7 516.0v3.6M1929.0 305.0v-3.6M1929.0 516.0v3.6M1953.6 305.0v-3.6M1953.6 516.0v3.6M1965.9 305.0v-3.6M1965.9 516.0v3.6M1584.4 516.8h-3.6M1966.5 516.8h3.6M1584.4 504.4h-3.6M1966.5 504.4h3.6M1584.4 492.0h-3.6M1966.5 492.0h3.6M1584.4 467.0h-3.6M1966.5 467.0h3.6M1584.4 454.5h-3.6M1966.5 454.5h3.6M1584.4 441.9h-3.6M1966.5 441.9h3.6M1584.4 429.2h-3.6M1966.5 429.2h3.6M1584.4 403.7h-3.6M1966.5 403.7h3.6M1584.4 390.9h-3.6M1966.5 390.9h3.6M1584.4 378.0h-3.6M1966.5 378.0h3.6M1584.4 365.0h-3.6M1966.5 365.0h3.6M1584.4 338.9h-3.6M1966.5 338.9h3.6M1584.4 325.6h-3.6M1966.5 325.6h3.6M1584.4 312.3h-3.6M1966.5 312.3h3.6" stroke="#000" stroke-width="1.9" fill="none"/>
<text x="1567.0" y="360.1" font-size="22.3" text-anchor="end" textLength="52.6" lengthAdjust="spacingAndGlyphs" >20&#176;N</text>
<text x="1567.0" y="424.6" font-size="22.3" text-anchor="end" textLength="52.6" lengthAdjust="spacingAndGlyphs" >15&#176;N</text>
<text x="1567.0" y="487.6" font-size="22.3" text-anchor="end" textLength="52.6" lengthAdjust="spacingAndGlyphs" >10&#176;N</text>
<text x="0" y="0" font-size="22.3" text-anchor="middle" textLength="59.8" lengthAdjust="spacingAndGlyphs" transform="translate(1631.2,561.0) rotate(-45)" dy="7.9">85&#176;W</text>
<text x="0" y="0" font-size="22.3" text-anchor="middle" textLength="59.8" lengthAdjust="spacingAndGlyphs" transform="translate(1692.7,561.0) rotate(-45)" dy="7.9">80&#176;W</text>
<text x="0" y="0" font-size="22.3" text-anchor="middle" textLength="59.8" lengthAdjust="spacingAndGlyphs" transform="translate(1754.2,561.0) rotate(-45)" dy="7.9">75&#176;W</text>
<text x="0" y="0" font-size="22.3" text-anchor="middle" textLength="59.8" lengthAdjust="spacingAndGlyphs" transform="translate(1815.7,561.0) rotate(-45)" dy="7.9">70&#176;W</text>
<text x="0" y="0" font-size="22.3" text-anchor="middle" textLength="59.8" lengthAdjust="spacingAndGlyphs" transform="translate(1877.2,561.0) rotate(-45)" dy="7.9">65&#176;W</text>
<text x="0" y="0" font-size="22.3" text-anchor="middle" textLength="59.8" lengthAdjust="spacingAndGlyphs" transform="translate(1938.7,561.0) rotate(-45)" dy="7.9">60&#176;W</text>
<rect x="1693.2" y="637" width="163.8" height="143.6" rx="3.6" fill="#fff" stroke="#cccccc" stroke-width="1.4"/>
<path d="M1701 656.2H1749" stroke="#0000ff" stroke-width="2.6" fill="none"/>
<circle cx="1725" cy="656.2" r="5.85" fill="#0000ff"/>
<text x="1765.8" y="664.7" font-size="22.6" textLength="66" lengthAdjust="spacingAndGlyphs" >sg663</text>
<path d="M1701 690.4H1749" stroke="#ff0000" stroke-width="2.6" fill="none"/>
<circle cx="1725" cy="690.4" r="5.85" fill="#ff0000"/>
<text x="1765.8" y="698.8" font-size="22.6" textLength="70.2" lengthAdjust="spacingAndGlyphs" >RTOFS</text>
<path d="M1701 725.4H1749" stroke="#008000" stroke-width="2.6" fill="none"/>
<circle cx="1725" cy="725.4" r="5.85" fill="#008000"/>
<text x="1765.8" y="733.5" font-size="22.6" textLength="55.9" lengthAdjust="spacingAndGlyphs" >ESPC</text>
<path d="M1701 759.2H1749" stroke="#ff00ff" stroke-width="2.6" fill="none"/>
<circle cx="1725" cy="759.2" r="5.85" fill="#ff00ff"/>
<text x="1765.8" y="767.8" font-size="22.6" textLength="81" lengthAdjust="spacingAndGlyphs" >CMEMS</text>
</svg>
</body></html>
